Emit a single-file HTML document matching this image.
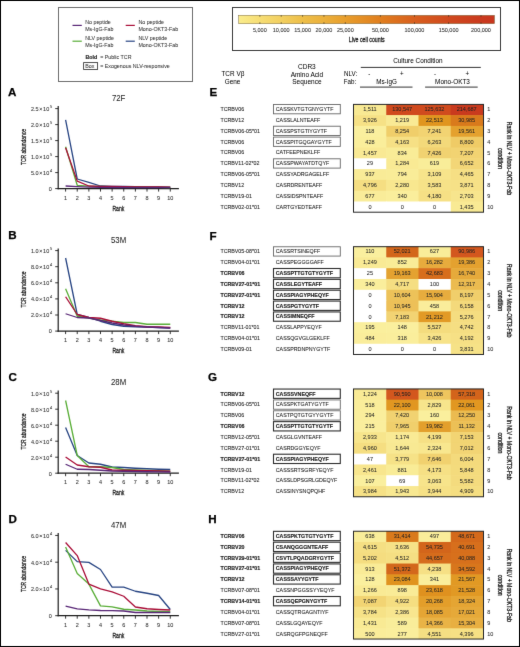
<!DOCTYPE html><html><head><meta charset="utf-8"><style>html,body{margin:0;padding:0;background:#fff;overflow:hidden}svg{display:block}text{font-family:"Liberation Sans",sans-serif}</style></head><body>
<svg width="520" height="647" viewBox="0 0 520 647">
<defs><filter id="gs" x="0" y="0" width="520" height="647" filterUnits="userSpaceOnUse" color-interpolation-filters="sRGB"><feConvolveMatrix order="3" kernelMatrix="0.00524 0.06192 0.00524 0.06192 0.73137 0.06192 0.00524 0.06192 0.00524" divisor="1" edgeMode="duplicate" preserveAlpha="true"/></filter></defs>
<g>
<rect x="0" y="0" width="520" height="647" fill="#fff"/>
<rect x="58.50" y="7.50" width="134.00" height="74.00" fill="none" stroke="#6e6e6e" stroke-width="1.0"/>
<line x1="72.50" y1="25.40" x2="81.80" y2="25.40" stroke="#582676" stroke-width="1.2"/>
<line x1="125.70" y1="25.40" x2="134.80" y2="25.40" stroke="#aa0e38" stroke-width="1.2"/>
<line x1="72.50" y1="41.20" x2="81.80" y2="41.20" stroke="#5aae38" stroke-width="1.2"/>
<line x1="125.70" y1="41.20" x2="134.80" y2="41.20" stroke="#284583" stroke-width="1.2"/>
<text x="85.20" y="24.40" font-size="5.83" stroke="#333" stroke-width="0.05" fill="#333" textLength="25.64" lengthAdjust="spacingAndGlyphs">No peptide</text>
<text x="85.20" y="31.00" font-size="5.83" stroke="#333" stroke-width="0.05" fill="#333" textLength="28.27" lengthAdjust="spacingAndGlyphs">Ms-IgG-Fab</text>
<text x="138.40" y="24.40" font-size="5.83" stroke="#333" stroke-width="0.05" fill="#333" textLength="25.64" lengthAdjust="spacingAndGlyphs">No peptide</text>
<text x="138.40" y="31.00" font-size="5.83" stroke="#333" stroke-width="0.05" fill="#333" textLength="39.76" lengthAdjust="spacingAndGlyphs">Mono-OKT3-Fab</text>
<text x="85.20" y="40.10" font-size="5.83" stroke="#333" stroke-width="0.05" fill="#333" textLength="28.78" lengthAdjust="spacingAndGlyphs">NLV peptide</text>
<text x="85.20" y="46.60" font-size="5.83" stroke="#333" stroke-width="0.05" fill="#333" textLength="28.27" lengthAdjust="spacingAndGlyphs">Ms-IgG-Fab</text>
<text x="138.40" y="40.10" font-size="5.83" stroke="#333" stroke-width="0.05" fill="#333" textLength="28.78" lengthAdjust="spacingAndGlyphs">NLV peptide</text>
<text x="138.40" y="46.60" font-size="5.83" stroke="#333" stroke-width="0.05" fill="#333" textLength="39.76" lengthAdjust="spacingAndGlyphs">Mono-OKT3-Fab</text>
<text x="85.40" y="58.90" font-size="5.83" stroke="#222" stroke-width="0.15" font-weight="bold" fill="#222" textLength="11.77" lengthAdjust="spacingAndGlyphs">Bold</text>
<text x="100.20" y="58.90" font-size="5.83" stroke="#333" stroke-width="0.05" fill="#333" textLength="31.27" lengthAdjust="spacingAndGlyphs">= Public TCR</text>
<rect x="83.60" y="62.60" width="14.00" height="6.90" fill="none" stroke="#333" stroke-width="0.85"/>
<text x="85.20" y="67.90" font-size="5.83" stroke="#333" stroke-width="0.05" fill="#333" textLength="9.13" lengthAdjust="spacingAndGlyphs">Box</text>
<text x="100.20" y="67.90" font-size="5.83" stroke="#333" stroke-width="0.05" fill="#333" textLength="69.58" lengthAdjust="spacingAndGlyphs">= Exogenous NLV-responsive</text>
<rect x="232.50" y="7.50" width="268.00" height="43.00" fill="none" stroke="#3a3a3a" stroke-width="1.0"/>
<defs><linearGradient id="cb" x1="0" x2="1" y1="0" y2="0"><stop offset="0.0000" stop-color="#faec8c"/><stop offset="0.0834" stop-color="#f6dd74"/><stop offset="0.1669" stop-color="#f2cf60"/><stop offset="0.2503" stop-color="#edbe48"/><stop offset="0.3337" stop-color="#ebb03c"/><stop offset="0.4172" stop-color="#e89e2c"/><stop offset="0.5543" stop-color="#e07e1e"/><stop offset="0.6875" stop-color="#d85f1e"/><stop offset="0.8207" stop-color="#d0491e"/><stop offset="0.9473" stop-color="#ca3a1e"/><stop offset="1.0000" stop-color="#c8361e"/></linearGradient></defs>
<rect x="238.70" y="15.30" width="255.80" height="8.40" fill="url(#cb)" stroke="#7a6a40" stroke-width="0.5"/>
<line x1="259.86" y1="15.30" x2="259.86" y2="16.60" stroke="#3a3020" stroke-width="0.8"/>
<line x1="259.86" y1="22.40" x2="259.86" y2="23.70" stroke="#3a3020" stroke-width="0.8"/>
<text x="259.86" y="31.90" font-size="6.05" stroke="#333" stroke-width="0.08" text-anchor="middle" fill="#333" textLength="13.76" lengthAdjust="spacingAndGlyphs">5,000</text>
<line x1="281.22" y1="15.30" x2="281.22" y2="16.60" stroke="#3a3020" stroke-width="0.8"/>
<line x1="281.22" y1="22.40" x2="281.22" y2="23.70" stroke="#3a3020" stroke-width="0.8"/>
<text x="281.22" y="31.90" font-size="6.05" stroke="#333" stroke-width="0.08" text-anchor="middle" fill="#333" textLength="16.82" lengthAdjust="spacingAndGlyphs">10,000</text>
<line x1="302.58" y1="15.30" x2="302.58" y2="16.60" stroke="#3a3020" stroke-width="0.8"/>
<line x1="302.58" y1="22.40" x2="302.58" y2="23.70" stroke="#3a3020" stroke-width="0.8"/>
<text x="302.58" y="31.90" font-size="6.05" stroke="#333" stroke-width="0.08" text-anchor="middle" fill="#333" textLength="16.82" lengthAdjust="spacingAndGlyphs">15,000</text>
<line x1="323.94" y1="15.30" x2="323.94" y2="16.60" stroke="#3a3020" stroke-width="0.8"/>
<line x1="323.94" y1="22.40" x2="323.94" y2="23.70" stroke="#3a3020" stroke-width="0.8"/>
<text x="323.94" y="31.90" font-size="6.05" stroke="#333" stroke-width="0.08" text-anchor="middle" fill="#333" textLength="16.82" lengthAdjust="spacingAndGlyphs">20,000</text>
<line x1="345.30" y1="15.30" x2="345.30" y2="16.60" stroke="#3a3020" stroke-width="0.8"/>
<line x1="345.30" y1="22.40" x2="345.30" y2="23.70" stroke="#3a3020" stroke-width="0.8"/>
<text x="345.30" y="31.90" font-size="6.05" stroke="#333" stroke-width="0.08" text-anchor="middle" fill="#333" textLength="16.82" lengthAdjust="spacingAndGlyphs">25,000</text>
<line x1="380.40" y1="15.30" x2="380.40" y2="16.60" stroke="#3a3020" stroke-width="0.8"/>
<line x1="380.40" y1="22.40" x2="380.40" y2="23.70" stroke="#3a3020" stroke-width="0.8"/>
<text x="380.40" y="31.90" font-size="6.05" stroke="#333" stroke-width="0.08" text-anchor="middle" fill="#333" textLength="16.82" lengthAdjust="spacingAndGlyphs">50,000</text>
<line x1="414.50" y1="15.30" x2="414.50" y2="16.60" stroke="#3a3020" stroke-width="0.8"/>
<line x1="414.50" y1="22.40" x2="414.50" y2="23.70" stroke="#3a3020" stroke-width="0.8"/>
<text x="414.50" y="31.90" font-size="6.05" stroke="#333" stroke-width="0.08" text-anchor="middle" fill="#333" textLength="19.88" lengthAdjust="spacingAndGlyphs">100,000</text>
<line x1="448.60" y1="15.30" x2="448.60" y2="16.60" stroke="#3a3020" stroke-width="0.8"/>
<line x1="448.60" y1="22.40" x2="448.60" y2="23.70" stroke="#3a3020" stroke-width="0.8"/>
<text x="448.60" y="31.90" font-size="6.05" stroke="#333" stroke-width="0.08" text-anchor="middle" fill="#333" textLength="19.88" lengthAdjust="spacingAndGlyphs">150,000</text>
<line x1="481.00" y1="15.30" x2="481.00" y2="16.60" stroke="#3a3020" stroke-width="0.8"/>
<line x1="481.00" y1="22.40" x2="481.00" y2="23.70" stroke="#3a3020" stroke-width="0.8"/>
<text x="481.00" y="31.90" font-size="6.05" stroke="#333" stroke-width="0.08" text-anchor="middle" fill="#333" textLength="19.88" lengthAdjust="spacingAndGlyphs">200,000</text>
<text x="366.80" y="42.30" font-size="7.3" stroke="#1a1a1a" stroke-width="0.28" text-anchor="middle" fill="#1a1a1a" textLength="35.9" lengthAdjust="spacingAndGlyphs">Live cell counts</text>
<text x="7.90" y="95.90" font-size="11.6" stroke="#000" stroke-width="0.25" font-weight="bold" fill="#000">A</text>
<text x="8.30" y="238.80" font-size="11.6" stroke="#000" stroke-width="0.25" font-weight="bold" fill="#000">B</text>
<text x="8.50" y="380.80" font-size="11.6" stroke="#000" stroke-width="0.25" font-weight="bold" fill="#000">C</text>
<text x="8.40" y="523.10" font-size="11.6" stroke="#000" stroke-width="0.25" font-weight="bold" fill="#000">D</text>
<text x="209.60" y="95.90" font-size="11.6" stroke="#000" stroke-width="0.25" font-weight="bold" fill="#000">E</text>
<text x="209.60" y="239.80" font-size="11.6" stroke="#000" stroke-width="0.25" font-weight="bold" fill="#000">F</text>
<text x="208.10" y="380.60" font-size="11.6" stroke="#000" stroke-width="0.25" font-weight="bold" fill="#000">G</text>
<text x="208.30" y="523.10" font-size="11.6" stroke="#000" stroke-width="0.25" font-weight="bold" fill="#000">H</text>
<line x1="58.20" y1="106.00" x2="58.20" y2="189.20" stroke="#1e1e1e" stroke-width="1.2"/>
<line x1="57.60" y1="188.60" x2="178.90" y2="188.60" stroke="#1e1e1e" stroke-width="1.2"/>
<line x1="65.60" y1="188.60" x2="65.60" y2="191.60" stroke="#1e1e1e" stroke-width="0.9"/>
<text x="65.60" y="199.80" font-size="6.05" stroke="#333" stroke-width="0.08" text-anchor="middle" fill="#333" textLength="3.06" lengthAdjust="spacingAndGlyphs">1</text>
<line x1="77.23" y1="188.60" x2="77.23" y2="191.60" stroke="#1e1e1e" stroke-width="0.9"/>
<text x="77.23" y="199.80" font-size="6.05" stroke="#333" stroke-width="0.08" text-anchor="middle" fill="#333" textLength="3.06" lengthAdjust="spacingAndGlyphs">2</text>
<line x1="88.86" y1="188.60" x2="88.86" y2="191.60" stroke="#1e1e1e" stroke-width="0.9"/>
<text x="88.86" y="199.80" font-size="6.05" stroke="#333" stroke-width="0.08" text-anchor="middle" fill="#333" textLength="3.06" lengthAdjust="spacingAndGlyphs">3</text>
<line x1="100.49" y1="188.60" x2="100.49" y2="191.60" stroke="#1e1e1e" stroke-width="0.9"/>
<text x="100.49" y="199.80" font-size="6.05" stroke="#333" stroke-width="0.08" text-anchor="middle" fill="#333" textLength="3.06" lengthAdjust="spacingAndGlyphs">4</text>
<line x1="112.12" y1="188.60" x2="112.12" y2="191.60" stroke="#1e1e1e" stroke-width="0.9"/>
<text x="112.12" y="199.80" font-size="6.05" stroke="#333" stroke-width="0.08" text-anchor="middle" fill="#333" textLength="3.06" lengthAdjust="spacingAndGlyphs">5</text>
<line x1="123.75" y1="188.60" x2="123.75" y2="191.60" stroke="#1e1e1e" stroke-width="0.9"/>
<text x="123.75" y="199.80" font-size="6.05" stroke="#333" stroke-width="0.08" text-anchor="middle" fill="#333" textLength="3.06" lengthAdjust="spacingAndGlyphs">6</text>
<line x1="135.38" y1="188.60" x2="135.38" y2="191.60" stroke="#1e1e1e" stroke-width="0.9"/>
<text x="135.38" y="199.80" font-size="6.05" stroke="#333" stroke-width="0.08" text-anchor="middle" fill="#333" textLength="3.06" lengthAdjust="spacingAndGlyphs">7</text>
<line x1="147.01" y1="188.60" x2="147.01" y2="191.60" stroke="#1e1e1e" stroke-width="0.9"/>
<text x="147.01" y="199.80" font-size="6.05" stroke="#333" stroke-width="0.08" text-anchor="middle" fill="#333" textLength="3.06" lengthAdjust="spacingAndGlyphs">8</text>
<line x1="158.64" y1="188.60" x2="158.64" y2="191.60" stroke="#1e1e1e" stroke-width="0.9"/>
<text x="158.64" y="199.80" font-size="6.05" stroke="#333" stroke-width="0.08" text-anchor="middle" fill="#333" textLength="3.06" lengthAdjust="spacingAndGlyphs">9</text>
<line x1="170.27" y1="188.60" x2="170.27" y2="191.60" stroke="#1e1e1e" stroke-width="0.9"/>
<text x="170.27" y="199.80" font-size="6.05" stroke="#333" stroke-width="0.08" text-anchor="middle" fill="#333" textLength="6.12" lengthAdjust="spacingAndGlyphs">10</text>
<line x1="55.20" y1="188.60" x2="58.20" y2="188.60" stroke="#1e1e1e" stroke-width="0.9"/>
<text x="51.70" y="190.90" font-size="6.05" stroke="#333" stroke-width="0.08" text-anchor="end" fill="#333" textLength="3.06" lengthAdjust="spacingAndGlyphs">0</text>
<line x1="55.20" y1="172.60" x2="58.20" y2="172.60" stroke="#1e1e1e" stroke-width="0.9"/>
<text x="38.60" y="174.90" font-size="6.05" stroke="#333" stroke-width="0.08" text-anchor="end" fill="#333" textLength="7.65" lengthAdjust="spacingAndGlyphs">5.0</text>
<line x1="39.70" y1="172.00" x2="41.90" y2="174.20" stroke="#333" stroke-width="0.75"/>
<line x1="39.70" y1="174.20" x2="41.90" y2="172.00" stroke="#333" stroke-width="0.75"/>
<text x="43.10" y="174.90" font-size="6.05" stroke="#333" stroke-width="0.08" fill="#333" textLength="6.12" lengthAdjust="spacingAndGlyphs">10</text>
<text x="49.90" y="172.00" font-size="4.29" stroke="#333" stroke-width="0.08" fill="#333" textLength="2.17" lengthAdjust="spacingAndGlyphs">4</text>
<line x1="55.20" y1="156.60" x2="58.20" y2="156.60" stroke="#1e1e1e" stroke-width="0.9"/>
<text x="38.60" y="158.90" font-size="6.05" stroke="#333" stroke-width="0.08" text-anchor="end" fill="#333" textLength="7.65" lengthAdjust="spacingAndGlyphs">1.0</text>
<line x1="39.70" y1="156.00" x2="41.90" y2="158.20" stroke="#333" stroke-width="0.75"/>
<line x1="39.70" y1="158.20" x2="41.90" y2="156.00" stroke="#333" stroke-width="0.75"/>
<text x="43.10" y="158.90" font-size="6.05" stroke="#333" stroke-width="0.08" fill="#333" textLength="6.12" lengthAdjust="spacingAndGlyphs">10</text>
<text x="49.90" y="156.00" font-size="4.29" stroke="#333" stroke-width="0.08" fill="#333" textLength="2.17" lengthAdjust="spacingAndGlyphs">5</text>
<line x1="55.20" y1="140.60" x2="58.20" y2="140.60" stroke="#1e1e1e" stroke-width="0.9"/>
<text x="38.60" y="142.90" font-size="6.05" stroke="#333" stroke-width="0.08" text-anchor="end" fill="#333" textLength="7.65" lengthAdjust="spacingAndGlyphs">1.5</text>
<line x1="39.70" y1="140.00" x2="41.90" y2="142.20" stroke="#333" stroke-width="0.75"/>
<line x1="39.70" y1="142.20" x2="41.90" y2="140.00" stroke="#333" stroke-width="0.75"/>
<text x="43.10" y="142.90" font-size="6.05" stroke="#333" stroke-width="0.08" fill="#333" textLength="6.12" lengthAdjust="spacingAndGlyphs">10</text>
<text x="49.90" y="140.00" font-size="4.29" stroke="#333" stroke-width="0.08" fill="#333" textLength="2.17" lengthAdjust="spacingAndGlyphs">5</text>
<line x1="55.20" y1="124.60" x2="58.20" y2="124.60" stroke="#1e1e1e" stroke-width="0.9"/>
<text x="38.60" y="126.90" font-size="6.05" stroke="#333" stroke-width="0.08" text-anchor="end" fill="#333" textLength="7.65" lengthAdjust="spacingAndGlyphs">2.0</text>
<line x1="39.70" y1="124.00" x2="41.90" y2="126.20" stroke="#333" stroke-width="0.75"/>
<line x1="39.70" y1="126.20" x2="41.90" y2="124.00" stroke="#333" stroke-width="0.75"/>
<text x="43.10" y="126.90" font-size="6.05" stroke="#333" stroke-width="0.08" fill="#333" textLength="6.12" lengthAdjust="spacingAndGlyphs">10</text>
<text x="49.90" y="124.00" font-size="4.29" stroke="#333" stroke-width="0.08" fill="#333" textLength="2.17" lengthAdjust="spacingAndGlyphs">5</text>
<line x1="55.20" y1="108.60" x2="58.20" y2="108.60" stroke="#1e1e1e" stroke-width="0.9"/>
<text x="38.60" y="110.90" font-size="6.05" stroke="#333" stroke-width="0.08" text-anchor="end" fill="#333" textLength="7.65" lengthAdjust="spacingAndGlyphs">2.5</text>
<line x1="39.70" y1="108.00" x2="41.90" y2="110.20" stroke="#333" stroke-width="0.75"/>
<line x1="39.70" y1="110.20" x2="41.90" y2="108.00" stroke="#333" stroke-width="0.75"/>
<text x="43.10" y="110.90" font-size="6.05" stroke="#333" stroke-width="0.08" fill="#333" textLength="6.12" lengthAdjust="spacingAndGlyphs">10</text>
<text x="49.90" y="108.00" font-size="4.29" stroke="#333" stroke-width="0.08" fill="#333" textLength="2.17" lengthAdjust="spacingAndGlyphs">5</text>
<text x="118.60" y="100.60" font-size="8.58" stroke="#222" stroke-width="0.04" text-anchor="middle" fill="#222" textLength="13.44" lengthAdjust="spacingAndGlyphs">72F</text>
<text x="118.40" y="210.70" font-size="7.8" stroke="#1a1a1a" stroke-width="0.3" text-anchor="middle" fill="#1a1a1a" textLength="11.9" lengthAdjust="spacingAndGlyphs">Rank</text>
<text x="0" y="0" font-size="7.7" text-anchor="middle" fill="#1a1a1a" stroke="#1a1a1a" stroke-width="0.3" textLength="36" lengthAdjust="spacingAndGlyphs" transform="translate(26.4,147.00) rotate(-90)">TCR abundance</text>
<polyline points="65.60,119.90 77.23,179.00 88.86,182.40 100.49,186.00 112.12,186.30 123.75,186.50 135.38,186.70 147.01,186.90 158.64,187.00 170.27,187.10" fill="none" stroke="#284583" stroke-width="1.3" stroke-linejoin="round"/>
<polyline points="65.60,146.70 77.23,185.30 88.86,186.20 100.49,186.50 112.12,186.70 123.75,186.90 135.38,187.10 147.01,187.30 158.64,187.40 170.27,187.50" fill="none" stroke="#5aae38" stroke-width="1.3" stroke-linejoin="round"/>
<polyline points="65.60,147.70 77.23,181.10 88.86,186.00 100.49,186.30 112.12,186.50 123.75,186.70 135.38,186.80 147.01,186.90 158.64,187.00 170.27,187.10" fill="none" stroke="#aa0e38" stroke-width="1.3" stroke-linejoin="round"/>
<polyline points="65.60,186.00 77.23,186.70 88.86,187.20 100.49,187.40 112.12,187.50 123.75,187.50 135.38,187.60 147.01,187.60 158.64,187.70 170.27,187.70" fill="none" stroke="#582676" stroke-width="1.3" stroke-linejoin="round"/>
<line x1="58.20" y1="248.50" x2="58.20" y2="331.70" stroke="#1e1e1e" stroke-width="1.2"/>
<line x1="57.60" y1="331.10" x2="178.90" y2="331.10" stroke="#1e1e1e" stroke-width="1.2"/>
<line x1="65.60" y1="331.10" x2="65.60" y2="334.10" stroke="#1e1e1e" stroke-width="0.9"/>
<text x="65.60" y="342.30" font-size="6.05" stroke="#333" stroke-width="0.08" text-anchor="middle" fill="#333" textLength="3.06" lengthAdjust="spacingAndGlyphs">1</text>
<line x1="77.23" y1="331.10" x2="77.23" y2="334.10" stroke="#1e1e1e" stroke-width="0.9"/>
<text x="77.23" y="342.30" font-size="6.05" stroke="#333" stroke-width="0.08" text-anchor="middle" fill="#333" textLength="3.06" lengthAdjust="spacingAndGlyphs">2</text>
<line x1="88.86" y1="331.10" x2="88.86" y2="334.10" stroke="#1e1e1e" stroke-width="0.9"/>
<text x="88.86" y="342.30" font-size="6.05" stroke="#333" stroke-width="0.08" text-anchor="middle" fill="#333" textLength="3.06" lengthAdjust="spacingAndGlyphs">3</text>
<line x1="100.49" y1="331.10" x2="100.49" y2="334.10" stroke="#1e1e1e" stroke-width="0.9"/>
<text x="100.49" y="342.30" font-size="6.05" stroke="#333" stroke-width="0.08" text-anchor="middle" fill="#333" textLength="3.06" lengthAdjust="spacingAndGlyphs">4</text>
<line x1="112.12" y1="331.10" x2="112.12" y2="334.10" stroke="#1e1e1e" stroke-width="0.9"/>
<text x="112.12" y="342.30" font-size="6.05" stroke="#333" stroke-width="0.08" text-anchor="middle" fill="#333" textLength="3.06" lengthAdjust="spacingAndGlyphs">5</text>
<line x1="123.75" y1="331.10" x2="123.75" y2="334.10" stroke="#1e1e1e" stroke-width="0.9"/>
<text x="123.75" y="342.30" font-size="6.05" stroke="#333" stroke-width="0.08" text-anchor="middle" fill="#333" textLength="3.06" lengthAdjust="spacingAndGlyphs">6</text>
<line x1="135.38" y1="331.10" x2="135.38" y2="334.10" stroke="#1e1e1e" stroke-width="0.9"/>
<text x="135.38" y="342.30" font-size="6.05" stroke="#333" stroke-width="0.08" text-anchor="middle" fill="#333" textLength="3.06" lengthAdjust="spacingAndGlyphs">7</text>
<line x1="147.01" y1="331.10" x2="147.01" y2="334.10" stroke="#1e1e1e" stroke-width="0.9"/>
<text x="147.01" y="342.30" font-size="6.05" stroke="#333" stroke-width="0.08" text-anchor="middle" fill="#333" textLength="3.06" lengthAdjust="spacingAndGlyphs">8</text>
<line x1="158.64" y1="331.10" x2="158.64" y2="334.10" stroke="#1e1e1e" stroke-width="0.9"/>
<text x="158.64" y="342.30" font-size="6.05" stroke="#333" stroke-width="0.08" text-anchor="middle" fill="#333" textLength="3.06" lengthAdjust="spacingAndGlyphs">9</text>
<line x1="170.27" y1="331.10" x2="170.27" y2="334.10" stroke="#1e1e1e" stroke-width="0.9"/>
<text x="170.27" y="342.30" font-size="6.05" stroke="#333" stroke-width="0.08" text-anchor="middle" fill="#333" textLength="6.12" lengthAdjust="spacingAndGlyphs">10</text>
<line x1="55.20" y1="331.10" x2="58.20" y2="331.10" stroke="#1e1e1e" stroke-width="0.9"/>
<text x="51.70" y="333.40" font-size="6.05" stroke="#333" stroke-width="0.08" text-anchor="end" fill="#333" textLength="3.06" lengthAdjust="spacingAndGlyphs">0</text>
<line x1="55.20" y1="315.00" x2="58.20" y2="315.00" stroke="#1e1e1e" stroke-width="0.9"/>
<text x="38.60" y="317.30" font-size="6.05" stroke="#333" stroke-width="0.08" text-anchor="end" fill="#333" textLength="7.65" lengthAdjust="spacingAndGlyphs">2.0</text>
<line x1="39.70" y1="314.40" x2="41.90" y2="316.60" stroke="#333" stroke-width="0.75"/>
<line x1="39.70" y1="316.60" x2="41.90" y2="314.40" stroke="#333" stroke-width="0.75"/>
<text x="43.10" y="317.30" font-size="6.05" stroke="#333" stroke-width="0.08" fill="#333" textLength="6.12" lengthAdjust="spacingAndGlyphs">10</text>
<text x="49.90" y="314.40" font-size="4.29" stroke="#333" stroke-width="0.08" fill="#333" textLength="2.17" lengthAdjust="spacingAndGlyphs">4</text>
<line x1="55.20" y1="298.90" x2="58.20" y2="298.90" stroke="#1e1e1e" stroke-width="0.9"/>
<text x="38.60" y="301.20" font-size="6.05" stroke="#333" stroke-width="0.08" text-anchor="end" fill="#333" textLength="7.65" lengthAdjust="spacingAndGlyphs">4.0</text>
<line x1="39.70" y1="298.30" x2="41.90" y2="300.50" stroke="#333" stroke-width="0.75"/>
<line x1="39.70" y1="300.50" x2="41.90" y2="298.30" stroke="#333" stroke-width="0.75"/>
<text x="43.10" y="301.20" font-size="6.05" stroke="#333" stroke-width="0.08" fill="#333" textLength="6.12" lengthAdjust="spacingAndGlyphs">10</text>
<text x="49.90" y="298.30" font-size="4.29" stroke="#333" stroke-width="0.08" fill="#333" textLength="2.17" lengthAdjust="spacingAndGlyphs">4</text>
<line x1="55.20" y1="282.80" x2="58.20" y2="282.80" stroke="#1e1e1e" stroke-width="0.9"/>
<text x="38.60" y="285.10" font-size="6.05" stroke="#333" stroke-width="0.08" text-anchor="end" fill="#333" textLength="7.65" lengthAdjust="spacingAndGlyphs">6.0</text>
<line x1="39.70" y1="282.20" x2="41.90" y2="284.40" stroke="#333" stroke-width="0.75"/>
<line x1="39.70" y1="284.40" x2="41.90" y2="282.20" stroke="#333" stroke-width="0.75"/>
<text x="43.10" y="285.10" font-size="6.05" stroke="#333" stroke-width="0.08" fill="#333" textLength="6.12" lengthAdjust="spacingAndGlyphs">10</text>
<text x="49.90" y="282.20" font-size="4.29" stroke="#333" stroke-width="0.08" fill="#333" textLength="2.17" lengthAdjust="spacingAndGlyphs">4</text>
<line x1="55.20" y1="266.70" x2="58.20" y2="266.70" stroke="#1e1e1e" stroke-width="0.9"/>
<text x="38.60" y="269.00" font-size="6.05" stroke="#333" stroke-width="0.08" text-anchor="end" fill="#333" textLength="7.65" lengthAdjust="spacingAndGlyphs">8.0</text>
<line x1="39.70" y1="266.10" x2="41.90" y2="268.30" stroke="#333" stroke-width="0.75"/>
<line x1="39.70" y1="268.30" x2="41.90" y2="266.10" stroke="#333" stroke-width="0.75"/>
<text x="43.10" y="269.00" font-size="6.05" stroke="#333" stroke-width="0.08" fill="#333" textLength="6.12" lengthAdjust="spacingAndGlyphs">10</text>
<text x="49.90" y="266.10" font-size="4.29" stroke="#333" stroke-width="0.08" fill="#333" textLength="2.17" lengthAdjust="spacingAndGlyphs">4</text>
<line x1="55.20" y1="250.60" x2="58.20" y2="250.60" stroke="#1e1e1e" stroke-width="0.9"/>
<text x="38.60" y="252.90" font-size="6.05" stroke="#333" stroke-width="0.08" text-anchor="end" fill="#333" textLength="7.65" lengthAdjust="spacingAndGlyphs">1.0</text>
<line x1="39.70" y1="250.00" x2="41.90" y2="252.20" stroke="#333" stroke-width="0.75"/>
<line x1="39.70" y1="252.20" x2="41.90" y2="250.00" stroke="#333" stroke-width="0.75"/>
<text x="43.10" y="252.90" font-size="6.05" stroke="#333" stroke-width="0.08" fill="#333" textLength="6.12" lengthAdjust="spacingAndGlyphs">10</text>
<text x="49.90" y="250.00" font-size="4.29" stroke="#333" stroke-width="0.08" fill="#333" textLength="2.17" lengthAdjust="spacingAndGlyphs">5</text>
<text x="118.60" y="243.10" font-size="8.58" stroke="#222" stroke-width="0.04" text-anchor="middle" fill="#222" textLength="15.17" lengthAdjust="spacingAndGlyphs">53M</text>
<text x="118.40" y="353.20" font-size="7.8" stroke="#1a1a1a" stroke-width="0.3" text-anchor="middle" fill="#1a1a1a" textLength="11.9" lengthAdjust="spacingAndGlyphs">Rank</text>
<text x="0" y="0" font-size="7.7" text-anchor="middle" fill="#1a1a1a" stroke="#1a1a1a" stroke-width="0.3" textLength="36" lengthAdjust="spacingAndGlyphs" transform="translate(26.4,289.50) rotate(-90)">TCR abundance</text>
<polyline points="65.60,258.00 77.23,314.50 88.86,317.50 100.49,321.25 112.12,324.50 123.75,326.25 135.38,326.75 147.01,327.00 158.64,327.50 170.27,328.00" fill="none" stroke="#284583" stroke-width="1.3" stroke-linejoin="round"/>
<polyline points="65.60,288.75 77.23,316.25 88.86,318.00 100.49,320.00 112.12,321.25 123.75,322.50 135.38,322.50 147.01,324.25 158.64,324.25 170.27,324.25" fill="none" stroke="#5aae38" stroke-width="1.3" stroke-linejoin="round"/>
<polyline points="65.60,296.75 77.23,314.50 88.86,317.50 100.49,318.25 112.12,321.25 123.75,323.75 135.38,325.75 147.01,326.75 158.64,327.00 170.27,327.50" fill="none" stroke="#aa0e38" stroke-width="1.3" stroke-linejoin="round"/>
<polyline points="65.60,313.75 77.23,317.50 88.86,318.00 100.49,320.50 112.12,323.00 123.75,325.00 135.38,326.25 147.01,327.00 158.64,327.50 170.27,328.00" fill="none" stroke="#582676" stroke-width="1.3" stroke-linejoin="round"/>
<line x1="58.20" y1="390.60" x2="58.20" y2="473.80" stroke="#1e1e1e" stroke-width="1.2"/>
<line x1="57.60" y1="473.20" x2="178.90" y2="473.20" stroke="#1e1e1e" stroke-width="1.2"/>
<line x1="65.60" y1="473.20" x2="65.60" y2="476.20" stroke="#1e1e1e" stroke-width="0.9"/>
<text x="65.60" y="484.40" font-size="6.05" stroke="#333" stroke-width="0.08" text-anchor="middle" fill="#333" textLength="3.06" lengthAdjust="spacingAndGlyphs">1</text>
<line x1="77.23" y1="473.20" x2="77.23" y2="476.20" stroke="#1e1e1e" stroke-width="0.9"/>
<text x="77.23" y="484.40" font-size="6.05" stroke="#333" stroke-width="0.08" text-anchor="middle" fill="#333" textLength="3.06" lengthAdjust="spacingAndGlyphs">2</text>
<line x1="88.86" y1="473.20" x2="88.86" y2="476.20" stroke="#1e1e1e" stroke-width="0.9"/>
<text x="88.86" y="484.40" font-size="6.05" stroke="#333" stroke-width="0.08" text-anchor="middle" fill="#333" textLength="3.06" lengthAdjust="spacingAndGlyphs">3</text>
<line x1="100.49" y1="473.20" x2="100.49" y2="476.20" stroke="#1e1e1e" stroke-width="0.9"/>
<text x="100.49" y="484.40" font-size="6.05" stroke="#333" stroke-width="0.08" text-anchor="middle" fill="#333" textLength="3.06" lengthAdjust="spacingAndGlyphs">4</text>
<line x1="112.12" y1="473.20" x2="112.12" y2="476.20" stroke="#1e1e1e" stroke-width="0.9"/>
<text x="112.12" y="484.40" font-size="6.05" stroke="#333" stroke-width="0.08" text-anchor="middle" fill="#333" textLength="3.06" lengthAdjust="spacingAndGlyphs">5</text>
<line x1="123.75" y1="473.20" x2="123.75" y2="476.20" stroke="#1e1e1e" stroke-width="0.9"/>
<text x="123.75" y="484.40" font-size="6.05" stroke="#333" stroke-width="0.08" text-anchor="middle" fill="#333" textLength="3.06" lengthAdjust="spacingAndGlyphs">6</text>
<line x1="135.38" y1="473.20" x2="135.38" y2="476.20" stroke="#1e1e1e" stroke-width="0.9"/>
<text x="135.38" y="484.40" font-size="6.05" stroke="#333" stroke-width="0.08" text-anchor="middle" fill="#333" textLength="3.06" lengthAdjust="spacingAndGlyphs">7</text>
<line x1="147.01" y1="473.20" x2="147.01" y2="476.20" stroke="#1e1e1e" stroke-width="0.9"/>
<text x="147.01" y="484.40" font-size="6.05" stroke="#333" stroke-width="0.08" text-anchor="middle" fill="#333" textLength="3.06" lengthAdjust="spacingAndGlyphs">8</text>
<line x1="158.64" y1="473.20" x2="158.64" y2="476.20" stroke="#1e1e1e" stroke-width="0.9"/>
<text x="158.64" y="484.40" font-size="6.05" stroke="#333" stroke-width="0.08" text-anchor="middle" fill="#333" textLength="3.06" lengthAdjust="spacingAndGlyphs">9</text>
<line x1="170.27" y1="473.20" x2="170.27" y2="476.20" stroke="#1e1e1e" stroke-width="0.9"/>
<text x="170.27" y="484.40" font-size="6.05" stroke="#333" stroke-width="0.08" text-anchor="middle" fill="#333" textLength="6.12" lengthAdjust="spacingAndGlyphs">10</text>
<line x1="55.20" y1="473.20" x2="58.20" y2="473.20" stroke="#1e1e1e" stroke-width="0.9"/>
<text x="51.70" y="475.50" font-size="6.05" stroke="#333" stroke-width="0.08" text-anchor="end" fill="#333" textLength="3.06" lengthAdjust="spacingAndGlyphs">0</text>
<line x1="55.20" y1="457.20" x2="58.20" y2="457.20" stroke="#1e1e1e" stroke-width="0.9"/>
<text x="38.60" y="459.50" font-size="6.05" stroke="#333" stroke-width="0.08" text-anchor="end" fill="#333" textLength="7.65" lengthAdjust="spacingAndGlyphs">2.0</text>
<line x1="39.70" y1="456.60" x2="41.90" y2="458.80" stroke="#333" stroke-width="0.75"/>
<line x1="39.70" y1="458.80" x2="41.90" y2="456.60" stroke="#333" stroke-width="0.75"/>
<text x="43.10" y="459.50" font-size="6.05" stroke="#333" stroke-width="0.08" fill="#333" textLength="6.12" lengthAdjust="spacingAndGlyphs">10</text>
<text x="49.90" y="456.60" font-size="4.29" stroke="#333" stroke-width="0.08" fill="#333" textLength="2.17" lengthAdjust="spacingAndGlyphs">4</text>
<line x1="55.20" y1="441.20" x2="58.20" y2="441.20" stroke="#1e1e1e" stroke-width="0.9"/>
<text x="38.60" y="443.50" font-size="6.05" stroke="#333" stroke-width="0.08" text-anchor="end" fill="#333" textLength="7.65" lengthAdjust="spacingAndGlyphs">4.0</text>
<line x1="39.70" y1="440.60" x2="41.90" y2="442.80" stroke="#333" stroke-width="0.75"/>
<line x1="39.70" y1="442.80" x2="41.90" y2="440.60" stroke="#333" stroke-width="0.75"/>
<text x="43.10" y="443.50" font-size="6.05" stroke="#333" stroke-width="0.08" fill="#333" textLength="6.12" lengthAdjust="spacingAndGlyphs">10</text>
<text x="49.90" y="440.60" font-size="4.29" stroke="#333" stroke-width="0.08" fill="#333" textLength="2.17" lengthAdjust="spacingAndGlyphs">4</text>
<line x1="55.20" y1="425.20" x2="58.20" y2="425.20" stroke="#1e1e1e" stroke-width="0.9"/>
<text x="38.60" y="427.50" font-size="6.05" stroke="#333" stroke-width="0.08" text-anchor="end" fill="#333" textLength="7.65" lengthAdjust="spacingAndGlyphs">6.0</text>
<line x1="39.70" y1="424.60" x2="41.90" y2="426.80" stroke="#333" stroke-width="0.75"/>
<line x1="39.70" y1="426.80" x2="41.90" y2="424.60" stroke="#333" stroke-width="0.75"/>
<text x="43.10" y="427.50" font-size="6.05" stroke="#333" stroke-width="0.08" fill="#333" textLength="6.12" lengthAdjust="spacingAndGlyphs">10</text>
<text x="49.90" y="424.60" font-size="4.29" stroke="#333" stroke-width="0.08" fill="#333" textLength="2.17" lengthAdjust="spacingAndGlyphs">4</text>
<line x1="55.20" y1="409.20" x2="58.20" y2="409.20" stroke="#1e1e1e" stroke-width="0.9"/>
<text x="38.60" y="411.50" font-size="6.05" stroke="#333" stroke-width="0.08" text-anchor="end" fill="#333" textLength="7.65" lengthAdjust="spacingAndGlyphs">8.0</text>
<line x1="39.70" y1="408.60" x2="41.90" y2="410.80" stroke="#333" stroke-width="0.75"/>
<line x1="39.70" y1="410.80" x2="41.90" y2="408.60" stroke="#333" stroke-width="0.75"/>
<text x="43.10" y="411.50" font-size="6.05" stroke="#333" stroke-width="0.08" fill="#333" textLength="6.12" lengthAdjust="spacingAndGlyphs">10</text>
<text x="49.90" y="408.60" font-size="4.29" stroke="#333" stroke-width="0.08" fill="#333" textLength="2.17" lengthAdjust="spacingAndGlyphs">4</text>
<line x1="55.20" y1="393.20" x2="58.20" y2="393.20" stroke="#1e1e1e" stroke-width="0.9"/>
<text x="38.60" y="395.50" font-size="6.05" stroke="#333" stroke-width="0.08" text-anchor="end" fill="#333" textLength="7.65" lengthAdjust="spacingAndGlyphs">1.0</text>
<line x1="39.70" y1="392.60" x2="41.90" y2="394.80" stroke="#333" stroke-width="0.75"/>
<line x1="39.70" y1="394.80" x2="41.90" y2="392.60" stroke="#333" stroke-width="0.75"/>
<text x="43.10" y="395.50" font-size="6.05" stroke="#333" stroke-width="0.08" fill="#333" textLength="6.12" lengthAdjust="spacingAndGlyphs">10</text>
<text x="49.90" y="392.60" font-size="4.29" stroke="#333" stroke-width="0.08" fill="#333" textLength="2.17" lengthAdjust="spacingAndGlyphs">5</text>
<text x="118.60" y="385.20" font-size="8.58" stroke="#222" stroke-width="0.04" text-anchor="middle" fill="#222" textLength="15.17" lengthAdjust="spacingAndGlyphs">28M</text>
<text x="118.40" y="495.30" font-size="7.8" stroke="#1a1a1a" stroke-width="0.3" text-anchor="middle" fill="#1a1a1a" textLength="11.9" lengthAdjust="spacingAndGlyphs">Rank</text>
<text x="0" y="0" font-size="7.7" text-anchor="middle" fill="#1a1a1a" stroke="#1a1a1a" stroke-width="0.3" textLength="36" lengthAdjust="spacingAndGlyphs" transform="translate(26.4,431.60) rotate(-90)">TCR abundance</text>
<polyline points="65.60,427.50 77.23,455.50 88.86,463.00 100.49,464.25 112.12,467.00 123.75,467.50 135.38,468.25 147.01,468.75 158.64,469.25 170.27,469.50" fill="none" stroke="#284583" stroke-width="1.3" stroke-linejoin="round"/>
<polyline points="65.60,400.50 77.23,455.50 88.86,466.75 100.49,466.75 112.12,467.50 123.75,469.50 135.38,470.00 147.01,470.50 158.64,470.75 170.27,471.25" fill="none" stroke="#5aae38" stroke-width="1.3" stroke-linejoin="round"/>
<polyline points="65.60,457.00 77.23,465.00 88.86,466.75 100.49,467.25 112.12,470.00 123.75,470.25 135.38,470.50 147.01,470.75 158.64,471.00 170.27,471.25" fill="none" stroke="#aa0e38" stroke-width="1.3" stroke-linejoin="round"/>
<polyline points="65.60,464.25 77.23,469.25 88.86,469.50 100.49,470.25 112.12,471.00 123.75,471.25 135.38,471.50 147.01,471.75 158.64,471.90 170.27,472.00" fill="none" stroke="#582676" stroke-width="1.3" stroke-linejoin="round"/>
<line x1="58.20" y1="533.10" x2="58.20" y2="616.30" stroke="#1e1e1e" stroke-width="1.2"/>
<line x1="57.60" y1="615.70" x2="178.90" y2="615.70" stroke="#1e1e1e" stroke-width="1.2"/>
<line x1="65.60" y1="615.70" x2="65.60" y2="618.70" stroke="#1e1e1e" stroke-width="0.9"/>
<text x="65.60" y="626.90" font-size="6.05" stroke="#333" stroke-width="0.08" text-anchor="middle" fill="#333" textLength="3.06" lengthAdjust="spacingAndGlyphs">1</text>
<line x1="77.23" y1="615.70" x2="77.23" y2="618.70" stroke="#1e1e1e" stroke-width="0.9"/>
<text x="77.23" y="626.90" font-size="6.05" stroke="#333" stroke-width="0.08" text-anchor="middle" fill="#333" textLength="3.06" lengthAdjust="spacingAndGlyphs">2</text>
<line x1="88.86" y1="615.70" x2="88.86" y2="618.70" stroke="#1e1e1e" stroke-width="0.9"/>
<text x="88.86" y="626.90" font-size="6.05" stroke="#333" stroke-width="0.08" text-anchor="middle" fill="#333" textLength="3.06" lengthAdjust="spacingAndGlyphs">3</text>
<line x1="100.49" y1="615.70" x2="100.49" y2="618.70" stroke="#1e1e1e" stroke-width="0.9"/>
<text x="100.49" y="626.90" font-size="6.05" stroke="#333" stroke-width="0.08" text-anchor="middle" fill="#333" textLength="3.06" lengthAdjust="spacingAndGlyphs">4</text>
<line x1="112.12" y1="615.70" x2="112.12" y2="618.70" stroke="#1e1e1e" stroke-width="0.9"/>
<text x="112.12" y="626.90" font-size="6.05" stroke="#333" stroke-width="0.08" text-anchor="middle" fill="#333" textLength="3.06" lengthAdjust="spacingAndGlyphs">5</text>
<line x1="123.75" y1="615.70" x2="123.75" y2="618.70" stroke="#1e1e1e" stroke-width="0.9"/>
<text x="123.75" y="626.90" font-size="6.05" stroke="#333" stroke-width="0.08" text-anchor="middle" fill="#333" textLength="3.06" lengthAdjust="spacingAndGlyphs">6</text>
<line x1="135.38" y1="615.70" x2="135.38" y2="618.70" stroke="#1e1e1e" stroke-width="0.9"/>
<text x="135.38" y="626.90" font-size="6.05" stroke="#333" stroke-width="0.08" text-anchor="middle" fill="#333" textLength="3.06" lengthAdjust="spacingAndGlyphs">7</text>
<line x1="147.01" y1="615.70" x2="147.01" y2="618.70" stroke="#1e1e1e" stroke-width="0.9"/>
<text x="147.01" y="626.90" font-size="6.05" stroke="#333" stroke-width="0.08" text-anchor="middle" fill="#333" textLength="3.06" lengthAdjust="spacingAndGlyphs">8</text>
<line x1="158.64" y1="615.70" x2="158.64" y2="618.70" stroke="#1e1e1e" stroke-width="0.9"/>
<text x="158.64" y="626.90" font-size="6.05" stroke="#333" stroke-width="0.08" text-anchor="middle" fill="#333" textLength="3.06" lengthAdjust="spacingAndGlyphs">9</text>
<line x1="170.27" y1="615.70" x2="170.27" y2="618.70" stroke="#1e1e1e" stroke-width="0.9"/>
<text x="170.27" y="626.90" font-size="6.05" stroke="#333" stroke-width="0.08" text-anchor="middle" fill="#333" textLength="6.12" lengthAdjust="spacingAndGlyphs">10</text>
<line x1="55.20" y1="615.70" x2="58.20" y2="615.70" stroke="#1e1e1e" stroke-width="0.9"/>
<text x="51.70" y="618.00" font-size="6.05" stroke="#333" stroke-width="0.08" text-anchor="end" fill="#333" textLength="3.06" lengthAdjust="spacingAndGlyphs">0</text>
<line x1="55.20" y1="588.95" x2="58.20" y2="588.95" stroke="#1e1e1e" stroke-width="0.9"/>
<text x="38.60" y="591.25" font-size="6.05" stroke="#333" stroke-width="0.08" text-anchor="end" fill="#333" textLength="7.65" lengthAdjust="spacingAndGlyphs">2.0</text>
<line x1="39.70" y1="588.35" x2="41.90" y2="590.55" stroke="#333" stroke-width="0.75"/>
<line x1="39.70" y1="590.55" x2="41.90" y2="588.35" stroke="#333" stroke-width="0.75"/>
<text x="43.10" y="591.25" font-size="6.05" stroke="#333" stroke-width="0.08" fill="#333" textLength="6.12" lengthAdjust="spacingAndGlyphs">10</text>
<text x="49.90" y="588.35" font-size="4.29" stroke="#333" stroke-width="0.08" fill="#333" textLength="2.17" lengthAdjust="spacingAndGlyphs">4</text>
<line x1="55.20" y1="562.20" x2="58.20" y2="562.20" stroke="#1e1e1e" stroke-width="0.9"/>
<text x="38.60" y="564.50" font-size="6.05" stroke="#333" stroke-width="0.08" text-anchor="end" fill="#333" textLength="7.65" lengthAdjust="spacingAndGlyphs">4.0</text>
<line x1="39.70" y1="561.60" x2="41.90" y2="563.80" stroke="#333" stroke-width="0.75"/>
<line x1="39.70" y1="563.80" x2="41.90" y2="561.60" stroke="#333" stroke-width="0.75"/>
<text x="43.10" y="564.50" font-size="6.05" stroke="#333" stroke-width="0.08" fill="#333" textLength="6.12" lengthAdjust="spacingAndGlyphs">10</text>
<text x="49.90" y="561.60" font-size="4.29" stroke="#333" stroke-width="0.08" fill="#333" textLength="2.17" lengthAdjust="spacingAndGlyphs">4</text>
<line x1="55.20" y1="535.45" x2="58.20" y2="535.45" stroke="#1e1e1e" stroke-width="0.9"/>
<text x="38.60" y="537.75" font-size="6.05" stroke="#333" stroke-width="0.08" text-anchor="end" fill="#333" textLength="7.65" lengthAdjust="spacingAndGlyphs">6.0</text>
<line x1="39.70" y1="534.85" x2="41.90" y2="537.05" stroke="#333" stroke-width="0.75"/>
<line x1="39.70" y1="537.05" x2="41.90" y2="534.85" stroke="#333" stroke-width="0.75"/>
<text x="43.10" y="537.75" font-size="6.05" stroke="#333" stroke-width="0.08" fill="#333" textLength="6.12" lengthAdjust="spacingAndGlyphs">10</text>
<text x="49.90" y="534.85" font-size="4.29" stroke="#333" stroke-width="0.08" fill="#333" textLength="2.17" lengthAdjust="spacingAndGlyphs">4</text>
<text x="118.60" y="527.70" font-size="8.58" stroke="#222" stroke-width="0.04" text-anchor="middle" fill="#222" textLength="15.17" lengthAdjust="spacingAndGlyphs">47M</text>
<text x="118.40" y="637.80" font-size="7.8" stroke="#1a1a1a" stroke-width="0.3" text-anchor="middle" fill="#1a1a1a" textLength="11.9" lengthAdjust="spacingAndGlyphs">Rank</text>
<text x="0" y="0" font-size="7.7" text-anchor="middle" fill="#1a1a1a" stroke="#1a1a1a" stroke-width="0.3" textLength="36" lengthAdjust="spacingAndGlyphs" transform="translate(26.4,574.10) rotate(-90)">TCR abundance</text>
<polyline points="65.60,550.40 77.23,561.60 88.86,562.40 100.49,569.50 112.12,587.10 123.75,587.10 135.38,591.25 147.01,593.25 158.64,595.50 170.27,609.50" fill="none" stroke="#284583" stroke-width="1.3" stroke-linejoin="round"/>
<polyline points="65.60,547.00 77.23,573.50 88.86,584.10 100.49,605.90 112.12,606.90 123.75,609.25 135.38,610.00 147.01,611.00 158.64,611.50 170.27,611.75" fill="none" stroke="#5aae38" stroke-width="1.3" stroke-linejoin="round"/>
<polyline points="65.60,542.50 77.23,555.60 88.86,584.10 100.49,588.80 112.12,591.90 123.75,596.25 135.38,607.00 147.01,608.75 158.64,609.50 170.27,610.00" fill="none" stroke="#aa0e38" stroke-width="1.3" stroke-linejoin="round"/>
<polyline points="65.60,606.20 77.23,608.90 88.86,609.90 100.49,610.50 112.12,610.70 123.75,611.00 135.38,612.50 147.01,612.50 158.64,612.50 170.27,612.50" fill="none" stroke="#582676" stroke-width="1.3" stroke-linejoin="round"/>
<rect x="354.00" y="104.30" width="32.85" height="11.40" fill="#f8e993" stroke="none" stroke-width="1.0"/>
<rect x="386.25" y="104.30" width="32.85" height="11.40" fill="#d04a1e" stroke="none" stroke-width="1.0"/>
<rect x="418.50" y="104.30" width="32.85" height="11.40" fill="#d04b1e" stroke="none" stroke-width="1.0"/>
<rect x="450.75" y="104.30" width="32.25" height="11.40" fill="#c93a1e" stroke="none" stroke-width="1.0"/>
<rect x="354.00" y="115.10" width="32.85" height="11.40" fill="#f6e186" stroke="none" stroke-width="1.0"/>
<rect x="386.25" y="115.10" width="32.85" height="11.40" fill="#f9ea95" stroke="none" stroke-width="1.0"/>
<rect x="418.50" y="115.10" width="32.85" height="11.40" fill="#e0951f" stroke="none" stroke-width="1.0"/>
<rect x="450.75" y="115.10" width="32.25" height="11.40" fill="#d97a1c" stroke="none" stroke-width="1.0"/>
<rect x="354.00" y="125.90" width="32.85" height="11.40" fill="#faef9e" stroke="none" stroke-width="1.0"/>
<rect x="386.25" y="125.90" width="32.85" height="11.40" fill="#f0ce6a" stroke="none" stroke-width="1.0"/>
<rect x="418.50" y="125.90" width="32.85" height="11.40" fill="#f2d372" stroke="none" stroke-width="1.0"/>
<rect x="450.75" y="125.90" width="32.25" height="11.40" fill="#e4a12e" stroke="none" stroke-width="1.0"/>
<rect x="354.00" y="136.70" width="32.85" height="11.40" fill="#faee9b" stroke="none" stroke-width="1.0"/>
<rect x="386.25" y="136.70" width="32.85" height="11.40" fill="#f6e085" stroke="none" stroke-width="1.0"/>
<rect x="418.50" y="136.70" width="32.85" height="11.40" fill="#f3d97a" stroke="none" stroke-width="1.0"/>
<rect x="450.75" y="136.70" width="32.25" height="11.40" fill="#efcb66" stroke="none" stroke-width="1.0"/>
<rect x="354.00" y="147.50" width="32.85" height="11.40" fill="#f9e994" stroke="none" stroke-width="1.0"/>
<rect x="386.25" y="147.50" width="32.85" height="11.40" fill="#f9ec97" stroke="none" stroke-width="1.0"/>
<rect x="418.50" y="147.50" width="32.85" height="11.40" fill="#f1d271" stroke="none" stroke-width="1.0"/>
<rect x="450.75" y="147.50" width="32.25" height="11.40" fill="#f2d372" stroke="none" stroke-width="1.0"/>
<rect x="354.00" y="158.30" width="32.85" height="11.40" fill="#ffffff" stroke="none" stroke-width="1.0"/>
<rect x="386.25" y="158.30" width="32.85" height="11.40" fill="#f9ea94" stroke="none" stroke-width="1.0"/>
<rect x="418.50" y="158.30" width="32.85" height="11.40" fill="#f9ed99" stroke="none" stroke-width="1.0"/>
<rect x="450.75" y="158.30" width="32.25" height="11.40" fill="#f3d677" stroke="none" stroke-width="1.0"/>
<rect x="354.00" y="169.10" width="32.85" height="11.40" fill="#f9eb97" stroke="none" stroke-width="1.0"/>
<rect x="386.25" y="169.10" width="32.85" height="11.40" fill="#f9ec98" stroke="none" stroke-width="1.0"/>
<rect x="418.50" y="169.10" width="32.85" height="11.40" fill="#f7e48b" stroke="none" stroke-width="1.0"/>
<rect x="450.75" y="169.10" width="32.25" height="11.40" fill="#f6df84" stroke="none" stroke-width="1.0"/>
<rect x="354.00" y="179.90" width="32.85" height="11.40" fill="#f5de82" stroke="none" stroke-width="1.0"/>
<rect x="386.25" y="179.90" width="32.85" height="11.40" fill="#f8e78f" stroke="none" stroke-width="1.0"/>
<rect x="418.50" y="179.90" width="32.85" height="11.40" fill="#f6e288" stroke="none" stroke-width="1.0"/>
<rect x="450.75" y="179.90" width="32.25" height="11.40" fill="#f6e187" stroke="none" stroke-width="1.0"/>
<rect x="354.00" y="190.70" width="32.85" height="11.40" fill="#f9ec99" stroke="none" stroke-width="1.0"/>
<rect x="386.25" y="190.70" width="32.85" height="11.40" fill="#faee9c" stroke="none" stroke-width="1.0"/>
<rect x="418.50" y="190.70" width="32.85" height="11.40" fill="#f6e085" stroke="none" stroke-width="1.0"/>
<rect x="450.75" y="190.70" width="32.25" height="11.40" fill="#f7e58d" stroke="none" stroke-width="1.0"/>
<rect x="354.00" y="201.50" width="32.85" height="10.80" fill="#ffffff" stroke="none" stroke-width="1.0"/>
<rect x="386.25" y="201.50" width="32.85" height="10.80" fill="#ffffff" stroke="none" stroke-width="1.0"/>
<rect x="418.50" y="201.50" width="32.85" height="10.80" fill="#ffffff" stroke="none" stroke-width="1.0"/>
<rect x="450.75" y="201.50" width="32.25" height="10.80" fill="#f9ea94" stroke="none" stroke-width="1.0"/>
<rect x="353.50" y="104.40" width="130.00" height="107.80" fill="none" stroke="#262626" stroke-width="1.0"/>
<rect x="273.50" y="104.50" width="66.80" height="9.30" fill="none" stroke="#666666" stroke-width="0.9"/>
<text x="220.40" y="111.05" font-size="5.83" stroke="#222" stroke-width="0.08" fill="#222" textLength="23.86" lengthAdjust="spacingAndGlyphs">TCRBV06</text>
<text x="275.80" y="111.05" font-size="5.83" stroke="#222" stroke-width="0.08" fill="#222" textLength="57.72" lengthAdjust="spacingAndGlyphs">CASSKVTGTGNYGYTF</text>
<text x="369.93" y="111.15" font-size="6.105" stroke="#222" stroke-width="0.03" text-anchor="middle" fill="#222" textLength="13.48" lengthAdjust="spacingAndGlyphs">1,511</text>
<text x="402.18" y="111.15" font-size="6.105" stroke="#222" stroke-width="0.03" text-anchor="middle" fill="#222" textLength="20.06" lengthAdjust="spacingAndGlyphs">130,547</text>
<text x="434.43" y="111.15" font-size="6.105" stroke="#222" stroke-width="0.03" text-anchor="middle" fill="#222" textLength="20.06" lengthAdjust="spacingAndGlyphs">125,632</text>
<text x="466.68" y="111.15" font-size="6.105" stroke="#222" stroke-width="0.03" text-anchor="middle" fill="#222" textLength="20.06" lengthAdjust="spacingAndGlyphs">214,687</text>
<text x="487.20" y="111.15" font-size="6.05" stroke="#333" stroke-width="0.08" fill="#333" textLength="3.06" lengthAdjust="spacingAndGlyphs">1</text>
<text x="220.40" y="121.91" font-size="5.83" stroke="#222" stroke-width="0.08" fill="#222" textLength="23.86" lengthAdjust="spacingAndGlyphs">TCRBV12</text>
<text x="275.80" y="121.91" font-size="5.83" stroke="#222" stroke-width="0.08" fill="#222" textLength="44.47" lengthAdjust="spacingAndGlyphs">CASSLALNTEAFF</text>
<text x="369.93" y="122.01" font-size="6.105" stroke="#222" stroke-width="0.03" text-anchor="middle" fill="#222" textLength="13.89" lengthAdjust="spacingAndGlyphs">3,926</text>
<text x="402.18" y="122.01" font-size="6.105" stroke="#222" stroke-width="0.03" text-anchor="middle" fill="#222" textLength="13.89" lengthAdjust="spacingAndGlyphs">1,219</text>
<text x="434.43" y="122.01" font-size="6.105" stroke="#222" stroke-width="0.03" text-anchor="middle" fill="#222" textLength="16.98" lengthAdjust="spacingAndGlyphs">22,513</text>
<text x="466.68" y="122.01" font-size="6.105" stroke="#222" stroke-width="0.03" text-anchor="middle" fill="#222" textLength="16.98" lengthAdjust="spacingAndGlyphs">30,985</text>
<text x="487.20" y="122.01" font-size="6.05" stroke="#333" stroke-width="0.08" fill="#333" textLength="3.06" lengthAdjust="spacingAndGlyphs">2</text>
<rect x="273.50" y="126.22" width="66.80" height="9.30" fill="none" stroke="#666666" stroke-width="0.9"/>
<text x="220.40" y="132.77" font-size="5.83" stroke="#222" stroke-width="0.08" fill="#222" textLength="39.48" lengthAdjust="spacingAndGlyphs">TCRBV06-05*01</text>
<text x="275.80" y="132.77" font-size="5.83" stroke="#222" stroke-width="0.08" fill="#222" textLength="51.24" lengthAdjust="spacingAndGlyphs">CASSPSTGTIYGYTF</text>
<text x="369.93" y="132.87" font-size="6.105" stroke="#222" stroke-width="0.03" text-anchor="middle" fill="#222" textLength="8.85" lengthAdjust="spacingAndGlyphs">118</text>
<text x="402.18" y="132.87" font-size="6.105" stroke="#222" stroke-width="0.03" text-anchor="middle" fill="#222" textLength="13.89" lengthAdjust="spacingAndGlyphs">8,254</text>
<text x="434.43" y="132.87" font-size="6.105" stroke="#222" stroke-width="0.03" text-anchor="middle" fill="#222" textLength="13.89" lengthAdjust="spacingAndGlyphs">7,241</text>
<text x="466.68" y="132.87" font-size="6.105" stroke="#222" stroke-width="0.03" text-anchor="middle" fill="#222" textLength="16.98" lengthAdjust="spacingAndGlyphs">19,561</text>
<text x="487.20" y="132.87" font-size="6.05" stroke="#333" stroke-width="0.08" fill="#333" textLength="3.06" lengthAdjust="spacingAndGlyphs">3</text>
<rect x="273.50" y="137.08" width="66.80" height="9.30" fill="none" stroke="#666666" stroke-width="0.9"/>
<text x="220.40" y="143.63" font-size="5.83" stroke="#222" stroke-width="0.08" fill="#222" textLength="23.86" lengthAdjust="spacingAndGlyphs">TCRBV06</text>
<text x="275.80" y="143.63" font-size="5.83" stroke="#222" stroke-width="0.08" fill="#222" textLength="55.85" lengthAdjust="spacingAndGlyphs">CASSPITGQGAYGYTF</text>
<text x="369.93" y="143.73" font-size="6.105" stroke="#222" stroke-width="0.03" text-anchor="middle" fill="#222" textLength="9.26" lengthAdjust="spacingAndGlyphs">428</text>
<text x="402.18" y="143.73" font-size="6.105" stroke="#222" stroke-width="0.03" text-anchor="middle" fill="#222" textLength="13.89" lengthAdjust="spacingAndGlyphs">4,163</text>
<text x="434.43" y="143.73" font-size="6.105" stroke="#222" stroke-width="0.03" text-anchor="middle" fill="#222" textLength="13.89" lengthAdjust="spacingAndGlyphs">6,263</text>
<text x="466.68" y="143.73" font-size="6.105" stroke="#222" stroke-width="0.03" text-anchor="middle" fill="#222" textLength="13.89" lengthAdjust="spacingAndGlyphs">8,800</text>
<text x="487.20" y="143.73" font-size="6.05" stroke="#333" stroke-width="0.08" fill="#333" textLength="3.06" lengthAdjust="spacingAndGlyphs">4</text>
<text x="220.40" y="154.49" font-size="5.83" stroke="#222" stroke-width="0.08" fill="#222" textLength="23.86" lengthAdjust="spacingAndGlyphs">TCRBV06</text>
<text x="275.80" y="154.49" font-size="5.83" stroke="#222" stroke-width="0.08" fill="#222" textLength="44.37" lengthAdjust="spacingAndGlyphs">CATFEEPNEKLFF</text>
<text x="369.93" y="154.59" font-size="6.105" stroke="#222" stroke-width="0.03" text-anchor="middle" fill="#222" textLength="13.89" lengthAdjust="spacingAndGlyphs">1,457</text>
<text x="402.18" y="154.59" font-size="6.105" stroke="#222" stroke-width="0.03" text-anchor="middle" fill="#222" textLength="9.26" lengthAdjust="spacingAndGlyphs">834</text>
<text x="434.43" y="154.59" font-size="6.105" stroke="#222" stroke-width="0.03" text-anchor="middle" fill="#222" textLength="13.89" lengthAdjust="spacingAndGlyphs">7,426</text>
<text x="466.68" y="154.59" font-size="6.105" stroke="#222" stroke-width="0.03" text-anchor="middle" fill="#222" textLength="13.89" lengthAdjust="spacingAndGlyphs">7,207</text>
<text x="487.20" y="154.59" font-size="6.05" stroke="#333" stroke-width="0.08" fill="#333" textLength="3.06" lengthAdjust="spacingAndGlyphs">5</text>
<rect x="273.50" y="158.80" width="66.80" height="9.30" fill="none" stroke="#666666" stroke-width="0.9"/>
<text x="220.40" y="165.35" font-size="5.83" stroke="#222" stroke-width="0.08" fill="#222" textLength="39.08" lengthAdjust="spacingAndGlyphs">TCRBV11-02*02</text>
<text x="275.80" y="165.35" font-size="5.83" stroke="#222" stroke-width="0.08" fill="#222" textLength="53.4" lengthAdjust="spacingAndGlyphs">CASSPWAYATDTQYF</text>
<text x="369.93" y="165.45" font-size="6.105" stroke="#222" stroke-width="0.03" text-anchor="middle" fill="#222" textLength="6.17" lengthAdjust="spacingAndGlyphs">29</text>
<text x="402.18" y="165.45" font-size="6.105" stroke="#222" stroke-width="0.03" text-anchor="middle" fill="#222" textLength="13.89" lengthAdjust="spacingAndGlyphs">1,284</text>
<text x="434.43" y="165.45" font-size="6.105" stroke="#222" stroke-width="0.03" text-anchor="middle" fill="#222" textLength="9.26" lengthAdjust="spacingAndGlyphs">619</text>
<text x="466.68" y="165.45" font-size="6.105" stroke="#222" stroke-width="0.03" text-anchor="middle" fill="#222" textLength="13.89" lengthAdjust="spacingAndGlyphs">6,652</text>
<text x="487.20" y="165.45" font-size="6.05" stroke="#333" stroke-width="0.08" fill="#333" textLength="3.06" lengthAdjust="spacingAndGlyphs">6</text>
<text x="220.40" y="176.21" font-size="5.83" stroke="#222" stroke-width="0.08" fill="#222" textLength="39.48" lengthAdjust="spacingAndGlyphs">TCRBV06-05*01</text>
<text x="275.80" y="176.21" font-size="5.83" stroke="#222" stroke-width="0.08" fill="#222" textLength="53.5" lengthAdjust="spacingAndGlyphs">CASSYADRGAGELFF</text>
<text x="369.93" y="176.31" font-size="6.105" stroke="#222" stroke-width="0.03" text-anchor="middle" fill="#222" textLength="9.26" lengthAdjust="spacingAndGlyphs">937</text>
<text x="402.18" y="176.31" font-size="6.105" stroke="#222" stroke-width="0.03" text-anchor="middle" fill="#222" textLength="9.26" lengthAdjust="spacingAndGlyphs">794</text>
<text x="434.43" y="176.31" font-size="6.105" stroke="#222" stroke-width="0.03" text-anchor="middle" fill="#222" textLength="13.89" lengthAdjust="spacingAndGlyphs">3,109</text>
<text x="466.68" y="176.31" font-size="6.105" stroke="#222" stroke-width="0.03" text-anchor="middle" fill="#222" textLength="13.89" lengthAdjust="spacingAndGlyphs">4,465</text>
<text x="487.20" y="176.31" font-size="6.05" stroke="#333" stroke-width="0.08" fill="#333" textLength="3.06" lengthAdjust="spacingAndGlyphs">7</text>
<text x="220.40" y="187.07" font-size="5.83" stroke="#222" stroke-width="0.08" fill="#222" textLength="23.86" lengthAdjust="spacingAndGlyphs">TCRBV12</text>
<text x="275.80" y="187.07" font-size="5.83" stroke="#222" stroke-width="0.08" fill="#222" textLength="46.53" lengthAdjust="spacingAndGlyphs">CASRDRENTEAFF</text>
<text x="369.93" y="187.17" font-size="6.105" stroke="#222" stroke-width="0.03" text-anchor="middle" fill="#222" textLength="13.89" lengthAdjust="spacingAndGlyphs">4,796</text>
<text x="402.18" y="187.17" font-size="6.105" stroke="#222" stroke-width="0.03" text-anchor="middle" fill="#222" textLength="13.89" lengthAdjust="spacingAndGlyphs">2,280</text>
<text x="434.43" y="187.17" font-size="6.105" stroke="#222" stroke-width="0.03" text-anchor="middle" fill="#222" textLength="13.89" lengthAdjust="spacingAndGlyphs">3,583</text>
<text x="466.68" y="187.17" font-size="6.105" stroke="#222" stroke-width="0.03" text-anchor="middle" fill="#222" textLength="13.89" lengthAdjust="spacingAndGlyphs">3,871</text>
<text x="487.20" y="187.17" font-size="6.05" stroke="#333" stroke-width="0.08" fill="#333" textLength="3.06" lengthAdjust="spacingAndGlyphs">8</text>
<text x="220.40" y="197.93" font-size="5.83" stroke="#222" stroke-width="0.08" fill="#222" textLength="31.52" lengthAdjust="spacingAndGlyphs">TCRBV19-01</text>
<text x="275.80" y="197.93" font-size="5.83" stroke="#222" stroke-width="0.08" fill="#222" textLength="47.41" lengthAdjust="spacingAndGlyphs">CASSIDSPNTEAFF</text>
<text x="369.93" y="198.03" font-size="6.105" stroke="#222" stroke-width="0.03" text-anchor="middle" fill="#222" textLength="9.26" lengthAdjust="spacingAndGlyphs">677</text>
<text x="402.18" y="198.03" font-size="6.105" stroke="#222" stroke-width="0.03" text-anchor="middle" fill="#222" textLength="9.26" lengthAdjust="spacingAndGlyphs">340</text>
<text x="434.43" y="198.03" font-size="6.105" stroke="#222" stroke-width="0.03" text-anchor="middle" fill="#222" textLength="13.89" lengthAdjust="spacingAndGlyphs">4,180</text>
<text x="466.68" y="198.03" font-size="6.105" stroke="#222" stroke-width="0.03" text-anchor="middle" fill="#222" textLength="13.89" lengthAdjust="spacingAndGlyphs">2,703</text>
<text x="487.20" y="198.03" font-size="6.05" stroke="#333" stroke-width="0.08" fill="#333" textLength="3.06" lengthAdjust="spacingAndGlyphs">9</text>
<text x="220.40" y="208.79" font-size="5.83" stroke="#222" stroke-width="0.08" fill="#222" textLength="39.48" lengthAdjust="spacingAndGlyphs">TCRBV02-01*01</text>
<text x="275.80" y="208.79" font-size="5.83" stroke="#222" stroke-width="0.08" fill="#222" textLength="46.13" lengthAdjust="spacingAndGlyphs">CARTGYEDTEAFF</text>
<text x="369.93" y="208.89" font-size="6.105" stroke="#222" stroke-width="0.03" text-anchor="middle" fill="#222" textLength="3.09" lengthAdjust="spacingAndGlyphs">0</text>
<text x="402.18" y="208.89" font-size="6.105" stroke="#222" stroke-width="0.03" text-anchor="middle" fill="#222" textLength="3.09" lengthAdjust="spacingAndGlyphs">0</text>
<text x="434.43" y="208.89" font-size="6.105" stroke="#222" stroke-width="0.03" text-anchor="middle" fill="#222" textLength="3.09" lengthAdjust="spacingAndGlyphs">0</text>
<text x="466.68" y="208.89" font-size="6.105" stroke="#222" stroke-width="0.03" text-anchor="middle" fill="#222" textLength="13.89" lengthAdjust="spacingAndGlyphs">1,435</text>
<text x="487.20" y="208.89" font-size="6.05" stroke="#333" stroke-width="0.08" fill="#333" textLength="6.12" lengthAdjust="spacingAndGlyphs">10</text>
<text x="0" y="0" font-size="8.0" text-anchor="middle" fill="#1a1a1a" stroke="#1a1a1a" stroke-width="0.3" textLength="73.2" lengthAdjust="spacingAndGlyphs" transform="translate(507.4,158.40) rotate(90)">Rank in NLV + Mono-OKT3-Fab</text>
<text x="0" y="0" font-size="7.9" text-anchor="middle" fill="#1a1a1a" stroke="#1a1a1a" stroke-width="0.3" textLength="21" lengthAdjust="spacingAndGlyphs" transform="translate(498.0,158.40) rotate(90)">condition</text>
<rect x="354.00" y="246.58" width="32.85" height="11.40" fill="#faef9e" stroke="none" stroke-width="1.0"/>
<rect x="386.25" y="246.58" width="32.85" height="11.40" fill="#d3661b" stroke="none" stroke-width="1.0"/>
<rect x="418.50" y="246.58" width="32.85" height="11.40" fill="#f9ed99" stroke="none" stroke-width="1.0"/>
<rect x="450.75" y="246.58" width="32.25" height="11.40" fill="#d3571e" stroke="none" stroke-width="1.0"/>
<rect x="354.00" y="257.38" width="32.85" height="11.40" fill="#f9ea95" stroke="none" stroke-width="1.0"/>
<rect x="386.25" y="257.38" width="32.85" height="11.40" fill="#f9ec97" stroke="none" stroke-width="1.0"/>
<rect x="418.50" y="257.38" width="32.85" height="11.40" fill="#e7ab3d" stroke="none" stroke-width="1.0"/>
<rect x="450.75" y="257.38" width="32.25" height="11.40" fill="#e4a12f" stroke="none" stroke-width="1.0"/>
<rect x="354.00" y="268.18" width="32.85" height="11.40" fill="#ffffff" stroke="none" stroke-width="1.0"/>
<rect x="386.25" y="268.18" width="32.85" height="11.40" fill="#e4a230" stroke="none" stroke-width="1.0"/>
<rect x="418.50" y="268.18" width="32.85" height="11.40" fill="#d76d1c" stroke="none" stroke-width="1.0"/>
<rect x="450.75" y="268.18" width="32.25" height="11.40" fill="#e6aa3b" stroke="none" stroke-width="1.0"/>
<rect x="354.00" y="278.98" width="32.85" height="11.40" fill="#faee9c" stroke="none" stroke-width="1.0"/>
<rect x="386.25" y="278.98" width="32.85" height="11.40" fill="#f5de82" stroke="none" stroke-width="1.0"/>
<rect x="418.50" y="278.98" width="32.85" height="11.40" fill="#ffffff" stroke="none" stroke-width="1.0"/>
<rect x="450.75" y="278.98" width="32.25" height="11.40" fill="#ebbb50" stroke="none" stroke-width="1.0"/>
<rect x="354.00" y="289.78" width="32.85" height="11.40" fill="#ffffff" stroke="none" stroke-width="1.0"/>
<rect x="386.25" y="289.78" width="32.85" height="11.40" fill="#edc259" stroke="none" stroke-width="1.0"/>
<rect x="418.50" y="289.78" width="32.85" height="11.40" fill="#e7ac3e" stroke="none" stroke-width="1.0"/>
<rect x="450.75" y="289.78" width="32.25" height="11.40" fill="#f0ce6b" stroke="none" stroke-width="1.0"/>
<rect x="354.00" y="300.58" width="32.85" height="11.40" fill="#ffffff" stroke="none" stroke-width="1.0"/>
<rect x="386.25" y="300.58" width="32.85" height="11.40" fill="#edc058" stroke="none" stroke-width="1.0"/>
<rect x="418.50" y="300.58" width="32.85" height="11.40" fill="#faed9b" stroke="none" stroke-width="1.0"/>
<rect x="450.75" y="300.58" width="32.25" height="11.40" fill="#f4d97b" stroke="none" stroke-width="1.0"/>
<rect x="354.00" y="311.38" width="32.85" height="11.40" fill="#ffffff" stroke="none" stroke-width="1.0"/>
<rect x="386.25" y="311.38" width="32.85" height="11.40" fill="#f2d373" stroke="none" stroke-width="1.0"/>
<rect x="418.50" y="311.38" width="32.85" height="11.40" fill="#e29a25" stroke="none" stroke-width="1.0"/>
<rect x="450.75" y="311.38" width="32.25" height="11.40" fill="#f5dd80" stroke="none" stroke-width="1.0"/>
<rect x="354.00" y="322.18" width="32.85" height="11.40" fill="#faef9d" stroke="none" stroke-width="1.0"/>
<rect x="386.25" y="322.18" width="32.85" height="11.40" fill="#faef9e" stroke="none" stroke-width="1.0"/>
<rect x="418.50" y="322.18" width="32.85" height="11.40" fill="#f4dc7e" stroke="none" stroke-width="1.0"/>
<rect x="450.75" y="322.18" width="32.25" height="11.40" fill="#f5de82" stroke="none" stroke-width="1.0"/>
<rect x="354.00" y="332.98" width="32.85" height="11.40" fill="#faed9b" stroke="none" stroke-width="1.0"/>
<rect x="386.25" y="332.98" width="32.85" height="11.40" fill="#faee9c" stroke="none" stroke-width="1.0"/>
<rect x="418.50" y="332.98" width="32.85" height="11.40" fill="#f7e389" stroke="none" stroke-width="1.0"/>
<rect x="450.75" y="332.98" width="32.25" height="11.40" fill="#f6e085" stroke="none" stroke-width="1.0"/>
<rect x="354.00" y="343.78" width="32.85" height="10.80" fill="#ffffff" stroke="none" stroke-width="1.0"/>
<rect x="386.25" y="343.78" width="32.85" height="10.80" fill="#ffffff" stroke="none" stroke-width="1.0"/>
<rect x="418.50" y="343.78" width="32.85" height="10.80" fill="#ffffff" stroke="none" stroke-width="1.0"/>
<rect x="450.75" y="343.78" width="32.25" height="10.80" fill="#f6e287" stroke="none" stroke-width="1.0"/>
<rect x="353.50" y="246.68" width="130.00" height="107.80" fill="none" stroke="#262626" stroke-width="1.0"/>
<rect x="273.50" y="246.78" width="66.80" height="9.30" fill="none" stroke="#666666" stroke-width="0.9"/>
<text x="220.40" y="253.33" font-size="5.83" stroke="#222" stroke-width="0.08" fill="#222" textLength="39.48" lengthAdjust="spacingAndGlyphs">TCRBV05-08*01</text>
<text x="275.80" y="253.33" font-size="5.83" stroke="#222" stroke-width="0.08" fill="#222" textLength="44.37" lengthAdjust="spacingAndGlyphs">CASSRTSINEQFF</text>
<text x="369.93" y="253.43" font-size="6.105" stroke="#222" stroke-width="0.03" text-anchor="middle" fill="#222" textLength="8.85" lengthAdjust="spacingAndGlyphs">110</text>
<text x="402.18" y="253.43" font-size="6.105" stroke="#222" stroke-width="0.03" text-anchor="middle" fill="#222" textLength="16.98" lengthAdjust="spacingAndGlyphs">52,021</text>
<text x="434.43" y="253.43" font-size="6.105" stroke="#222" stroke-width="0.03" text-anchor="middle" fill="#222" textLength="9.26" lengthAdjust="spacingAndGlyphs">627</text>
<text x="466.68" y="253.43" font-size="6.105" stroke="#222" stroke-width="0.03" text-anchor="middle" fill="#222" textLength="16.98" lengthAdjust="spacingAndGlyphs">90,986</text>
<text x="487.20" y="253.43" font-size="6.05" stroke="#333" stroke-width="0.08" fill="#333" textLength="3.06" lengthAdjust="spacingAndGlyphs">1</text>
<text x="220.40" y="264.19" font-size="5.83" stroke="#222" stroke-width="0.08" fill="#222" textLength="39.48" lengthAdjust="spacingAndGlyphs">TCRBV04-01*01</text>
<text x="275.80" y="264.19" font-size="5.83" stroke="#222" stroke-width="0.08" fill="#222" textLength="48.0" lengthAdjust="spacingAndGlyphs">CASSPEGGGGAFF</text>
<text x="369.93" y="264.29" font-size="6.105" stroke="#222" stroke-width="0.03" text-anchor="middle" fill="#222" textLength="13.89" lengthAdjust="spacingAndGlyphs">1,249</text>
<text x="402.18" y="264.29" font-size="6.105" stroke="#222" stroke-width="0.03" text-anchor="middle" fill="#222" textLength="9.26" lengthAdjust="spacingAndGlyphs">852</text>
<text x="434.43" y="264.29" font-size="6.105" stroke="#222" stroke-width="0.03" text-anchor="middle" fill="#222" textLength="16.98" lengthAdjust="spacingAndGlyphs">16,282</text>
<text x="466.68" y="264.29" font-size="6.105" stroke="#222" stroke-width="0.03" text-anchor="middle" fill="#222" textLength="16.98" lengthAdjust="spacingAndGlyphs">19,386</text>
<text x="487.20" y="264.29" font-size="6.05" stroke="#333" stroke-width="0.08" fill="#333" textLength="3.06" lengthAdjust="spacingAndGlyphs">2</text>
<rect x="273.50" y="268.50" width="66.80" height="9.30" fill="none" stroke="#2e2e2e" stroke-width="1.1"/>
<text x="220.40" y="275.05" font-size="5.83" stroke="#222" stroke-width="0.15" font-weight="bold" fill="#222" textLength="24.15" lengthAdjust="spacingAndGlyphs">TCRBV06</text>
<text x="275.80" y="275.05" font-size="5.83" stroke="#222" stroke-width="0.15" font-weight="bold" fill="#222" textLength="57.12" lengthAdjust="spacingAndGlyphs">CASSPTTGTGTYGYTF</text>
<text x="369.93" y="275.15" font-size="6.105" stroke="#222" stroke-width="0.03" text-anchor="middle" fill="#222" textLength="6.17" lengthAdjust="spacingAndGlyphs">25</text>
<text x="402.18" y="275.15" font-size="6.105" stroke="#222" stroke-width="0.03" text-anchor="middle" fill="#222" textLength="16.98" lengthAdjust="spacingAndGlyphs">19,163</text>
<text x="434.43" y="275.15" font-size="6.105" stroke="#222" stroke-width="0.03" text-anchor="middle" fill="#222" textLength="16.98" lengthAdjust="spacingAndGlyphs">42,683</text>
<text x="466.68" y="275.15" font-size="6.105" stroke="#222" stroke-width="0.03" text-anchor="middle" fill="#222" textLength="16.98" lengthAdjust="spacingAndGlyphs">16,740</text>
<text x="487.20" y="275.15" font-size="6.05" stroke="#333" stroke-width="0.08" fill="#333" textLength="3.06" lengthAdjust="spacingAndGlyphs">3</text>
<rect x="273.50" y="279.36" width="66.80" height="9.30" fill="none" stroke="#2e2e2e" stroke-width="1.1"/>
<text x="220.40" y="285.91" font-size="5.83" stroke="#222" stroke-width="0.15" font-weight="bold" fill="#222" textLength="39.77" lengthAdjust="spacingAndGlyphs">TCRBV27-01*01</text>
<text x="275.80" y="285.91" font-size="5.83" stroke="#222" stroke-width="0.15" font-weight="bold" fill="#222" textLength="46.23" lengthAdjust="spacingAndGlyphs">CASSLEGYTEAFF</text>
<text x="369.93" y="286.01" font-size="6.105" stroke="#222" stroke-width="0.03" text-anchor="middle" fill="#222" textLength="9.26" lengthAdjust="spacingAndGlyphs">340</text>
<text x="402.18" y="286.01" font-size="6.105" stroke="#222" stroke-width="0.03" text-anchor="middle" fill="#222" textLength="13.89" lengthAdjust="spacingAndGlyphs">4,717</text>
<text x="434.43" y="286.01" font-size="6.105" stroke="#222" stroke-width="0.03" text-anchor="middle" fill="#222" textLength="9.26" lengthAdjust="spacingAndGlyphs">100</text>
<text x="466.68" y="286.01" font-size="6.105" stroke="#222" stroke-width="0.03" text-anchor="middle" fill="#222" textLength="16.98" lengthAdjust="spacingAndGlyphs">12,317</text>
<text x="487.20" y="286.01" font-size="6.05" stroke="#333" stroke-width="0.08" fill="#333" textLength="3.06" lengthAdjust="spacingAndGlyphs">4</text>
<rect x="273.50" y="290.22" width="66.80" height="9.30" fill="none" stroke="#2e2e2e" stroke-width="1.1"/>
<text x="220.40" y="296.77" font-size="5.83" stroke="#222" stroke-width="0.15" font-weight="bold" fill="#222" textLength="39.77" lengthAdjust="spacingAndGlyphs">TCRBV27-01*01</text>
<text x="275.80" y="296.77" font-size="5.83" stroke="#222" stroke-width="0.15" font-weight="bold" fill="#222" textLength="53.01" lengthAdjust="spacingAndGlyphs">CASSPIAGYPHEQYF</text>
<text x="369.93" y="296.87" font-size="6.105" stroke="#222" stroke-width="0.03" text-anchor="middle" fill="#222" textLength="3.09" lengthAdjust="spacingAndGlyphs">0</text>
<text x="402.18" y="296.87" font-size="6.105" stroke="#222" stroke-width="0.03" text-anchor="middle" fill="#222" textLength="16.98" lengthAdjust="spacingAndGlyphs">10,604</text>
<text x="434.43" y="296.87" font-size="6.105" stroke="#222" stroke-width="0.03" text-anchor="middle" fill="#222" textLength="16.98" lengthAdjust="spacingAndGlyphs">15,904</text>
<text x="466.68" y="296.87" font-size="6.105" stroke="#222" stroke-width="0.03" text-anchor="middle" fill="#222" textLength="13.89" lengthAdjust="spacingAndGlyphs">8,197</text>
<text x="487.20" y="296.87" font-size="6.05" stroke="#333" stroke-width="0.08" fill="#333" textLength="3.06" lengthAdjust="spacingAndGlyphs">5</text>
<rect x="273.50" y="301.08" width="66.80" height="9.30" fill="none" stroke="#2e2e2e" stroke-width="1.1"/>
<text x="220.40" y="307.63" font-size="5.83" stroke="#222" stroke-width="0.15" font-weight="bold" fill="#222" textLength="24.15" lengthAdjust="spacingAndGlyphs">TCRBV12</text>
<text x="275.80" y="307.63" font-size="5.83" stroke="#222" stroke-width="0.15" font-weight="bold" fill="#222" textLength="43.29" lengthAdjust="spacingAndGlyphs">CASSPGTYGYTF</text>
<text x="369.93" y="307.73" font-size="6.105" stroke="#222" stroke-width="0.03" text-anchor="middle" fill="#222" textLength="3.09" lengthAdjust="spacingAndGlyphs">0</text>
<text x="402.18" y="307.73" font-size="6.105" stroke="#222" stroke-width="0.03" text-anchor="middle" fill="#222" textLength="16.98" lengthAdjust="spacingAndGlyphs">10,945</text>
<text x="434.43" y="307.73" font-size="6.105" stroke="#222" stroke-width="0.03" text-anchor="middle" fill="#222" textLength="9.26" lengthAdjust="spacingAndGlyphs">458</text>
<text x="466.68" y="307.73" font-size="6.105" stroke="#222" stroke-width="0.03" text-anchor="middle" fill="#222" textLength="13.89" lengthAdjust="spacingAndGlyphs">6,158</text>
<text x="487.20" y="307.73" font-size="6.05" stroke="#333" stroke-width="0.08" fill="#333" textLength="3.06" lengthAdjust="spacingAndGlyphs">6</text>
<rect x="273.50" y="311.94" width="66.80" height="9.30" fill="none" stroke="#2e2e2e" stroke-width="1.1"/>
<text x="220.40" y="318.49" font-size="5.83" stroke="#222" stroke-width="0.15" font-weight="bold" fill="#222" textLength="24.15" lengthAdjust="spacingAndGlyphs">TCRBV12</text>
<text x="275.80" y="318.49" font-size="5.83" stroke="#222" stroke-width="0.15" font-weight="bold" fill="#222" textLength="38.57" lengthAdjust="spacingAndGlyphs">CASSIMNEQFF</text>
<text x="369.93" y="318.59" font-size="6.105" stroke="#222" stroke-width="0.03" text-anchor="middle" fill="#222" textLength="3.09" lengthAdjust="spacingAndGlyphs">0</text>
<text x="402.18" y="318.59" font-size="6.105" stroke="#222" stroke-width="0.03" text-anchor="middle" fill="#222" textLength="13.89" lengthAdjust="spacingAndGlyphs">7,183</text>
<text x="434.43" y="318.59" font-size="6.105" stroke="#222" stroke-width="0.03" text-anchor="middle" fill="#222" textLength="16.98" lengthAdjust="spacingAndGlyphs">21,212</text>
<text x="466.68" y="318.59" font-size="6.105" stroke="#222" stroke-width="0.03" text-anchor="middle" fill="#222" textLength="13.89" lengthAdjust="spacingAndGlyphs">5,276</text>
<text x="487.20" y="318.59" font-size="6.05" stroke="#333" stroke-width="0.08" fill="#333" textLength="3.06" lengthAdjust="spacingAndGlyphs">7</text>
<text x="220.40" y="329.35" font-size="5.83" stroke="#222" stroke-width="0.08" fill="#222" textLength="39.08" lengthAdjust="spacingAndGlyphs">TCRBV11-01*01</text>
<text x="275.80" y="329.35" font-size="5.83" stroke="#222" stroke-width="0.08" fill="#222" textLength="45.95" lengthAdjust="spacingAndGlyphs">CASSLAPPYEQYF</text>
<text x="369.93" y="329.45" font-size="6.105" stroke="#222" stroke-width="0.03" text-anchor="middle" fill="#222" textLength="9.26" lengthAdjust="spacingAndGlyphs">195</text>
<text x="402.18" y="329.45" font-size="6.105" stroke="#222" stroke-width="0.03" text-anchor="middle" fill="#222" textLength="9.26" lengthAdjust="spacingAndGlyphs">148</text>
<text x="434.43" y="329.45" font-size="6.105" stroke="#222" stroke-width="0.03" text-anchor="middle" fill="#222" textLength="13.89" lengthAdjust="spacingAndGlyphs">5,527</text>
<text x="466.68" y="329.45" font-size="6.105" stroke="#222" stroke-width="0.03" text-anchor="middle" fill="#222" textLength="13.89" lengthAdjust="spacingAndGlyphs">4,742</text>
<text x="487.20" y="329.45" font-size="6.05" stroke="#333" stroke-width="0.08" fill="#333" textLength="3.06" lengthAdjust="spacingAndGlyphs">8</text>
<text x="220.40" y="340.21" font-size="5.83" stroke="#222" stroke-width="0.08" fill="#222" textLength="39.48" lengthAdjust="spacingAndGlyphs">TCRBV04-01*01</text>
<text x="275.80" y="340.21" font-size="5.83" stroke="#222" stroke-width="0.08" fill="#222" textLength="53.9" lengthAdjust="spacingAndGlyphs">CASSQGVGLGEKLFF</text>
<text x="369.93" y="340.31" font-size="6.105" stroke="#222" stroke-width="0.03" text-anchor="middle" fill="#222" textLength="9.26" lengthAdjust="spacingAndGlyphs">484</text>
<text x="402.18" y="340.31" font-size="6.105" stroke="#222" stroke-width="0.03" text-anchor="middle" fill="#222" textLength="9.26" lengthAdjust="spacingAndGlyphs">318</text>
<text x="434.43" y="340.31" font-size="6.105" stroke="#222" stroke-width="0.03" text-anchor="middle" fill="#222" textLength="13.89" lengthAdjust="spacingAndGlyphs">3,426</text>
<text x="466.68" y="340.31" font-size="6.105" stroke="#222" stroke-width="0.03" text-anchor="middle" fill="#222" textLength="13.89" lengthAdjust="spacingAndGlyphs">4,192</text>
<text x="487.20" y="340.31" font-size="6.05" stroke="#333" stroke-width="0.08" fill="#333" textLength="3.06" lengthAdjust="spacingAndGlyphs">9</text>
<text x="220.40" y="351.07" font-size="5.83" stroke="#222" stroke-width="0.08" fill="#222" textLength="31.52" lengthAdjust="spacingAndGlyphs">TCRBV09-01</text>
<text x="275.80" y="351.07" font-size="5.83" stroke="#222" stroke-width="0.08" fill="#222" textLength="54.48" lengthAdjust="spacingAndGlyphs">CASSPRDNPNYGYTF</text>
<text x="369.93" y="351.17" font-size="6.105" stroke="#222" stroke-width="0.03" text-anchor="middle" fill="#222" textLength="3.09" lengthAdjust="spacingAndGlyphs">0</text>
<text x="402.18" y="351.17" font-size="6.105" stroke="#222" stroke-width="0.03" text-anchor="middle" fill="#222" textLength="3.09" lengthAdjust="spacingAndGlyphs">0</text>
<text x="434.43" y="351.17" font-size="6.105" stroke="#222" stroke-width="0.03" text-anchor="middle" fill="#222" textLength="3.09" lengthAdjust="spacingAndGlyphs">0</text>
<text x="466.68" y="351.17" font-size="6.105" stroke="#222" stroke-width="0.03" text-anchor="middle" fill="#222" textLength="13.89" lengthAdjust="spacingAndGlyphs">3,831</text>
<text x="487.20" y="351.17" font-size="6.05" stroke="#333" stroke-width="0.08" fill="#333" textLength="6.12" lengthAdjust="spacingAndGlyphs">10</text>
<text x="0" y="0" font-size="8.0" text-anchor="middle" fill="#1a1a1a" stroke="#1a1a1a" stroke-width="0.3" textLength="73.2" lengthAdjust="spacingAndGlyphs" transform="translate(507.4,300.68) rotate(90)">Rank in NLV + Mono-OKT3-Fab</text>
<text x="0" y="0" font-size="7.9" text-anchor="middle" fill="#1a1a1a" stroke="#1a1a1a" stroke-width="0.3" textLength="21" lengthAdjust="spacingAndGlyphs" transform="translate(498.0,300.68) rotate(90)">condition</text>
<rect x="354.00" y="388.86" width="32.85" height="11.40" fill="#f9ea95" stroke="none" stroke-width="1.0"/>
<rect x="386.25" y="388.86" width="32.85" height="11.40" fill="#d3571e" stroke="none" stroke-width="1.0"/>
<rect x="418.50" y="388.86" width="32.85" height="11.40" fill="#eec55e" stroke="none" stroke-width="1.0"/>
<rect x="450.75" y="388.86" width="32.25" height="11.40" fill="#d3641b" stroke="none" stroke-width="1.0"/>
<rect x="354.00" y="399.66" width="32.85" height="11.40" fill="#faed9a" stroke="none" stroke-width="1.0"/>
<rect x="386.25" y="399.66" width="32.85" height="11.40" fill="#e19721" stroke="none" stroke-width="1.0"/>
<rect x="418.50" y="399.66" width="32.85" height="11.40" fill="#f7e58c" stroke="none" stroke-width="1.0"/>
<rect x="450.75" y="399.66" width="32.25" height="11.40" fill="#e19721" stroke="none" stroke-width="1.0"/>
<rect x="354.00" y="410.46" width="32.85" height="11.40" fill="#faee9c" stroke="none" stroke-width="1.0"/>
<rect x="386.25" y="410.46" width="32.85" height="11.40" fill="#f1d271" stroke="none" stroke-width="1.0"/>
<rect x="418.50" y="410.46" width="32.85" height="11.40" fill="#faef9d" stroke="none" stroke-width="1.0"/>
<rect x="450.75" y="410.46" width="32.25" height="11.40" fill="#ebbb50" stroke="none" stroke-width="1.0"/>
<rect x="354.00" y="421.26" width="32.85" height="11.40" fill="#faee9d" stroke="none" stroke-width="1.0"/>
<rect x="386.25" y="421.26" width="32.85" height="11.40" fill="#f0cf6c" stroke="none" stroke-width="1.0"/>
<rect x="418.50" y="421.26" width="32.85" height="11.40" fill="#e39f2c" stroke="none" stroke-width="1.0"/>
<rect x="450.75" y="421.26" width="32.25" height="11.40" fill="#ecc056" stroke="none" stroke-width="1.0"/>
<rect x="354.00" y="432.06" width="32.85" height="11.40" fill="#f7e58c" stroke="none" stroke-width="1.0"/>
<rect x="386.25" y="432.06" width="32.85" height="11.40" fill="#f9ea95" stroke="none" stroke-width="1.0"/>
<rect x="418.50" y="432.06" width="32.85" height="11.40" fill="#f6e085" stroke="none" stroke-width="1.0"/>
<rect x="450.75" y="432.06" width="32.25" height="11.40" fill="#f2d473" stroke="none" stroke-width="1.0"/>
<rect x="354.00" y="442.86" width="32.85" height="11.40" fill="#f5de81" stroke="none" stroke-width="1.0"/>
<rect x="386.25" y="442.86" width="32.85" height="11.40" fill="#f8e993" stroke="none" stroke-width="1.0"/>
<rect x="418.50" y="442.86" width="32.85" height="11.40" fill="#f8e78f" stroke="none" stroke-width="1.0"/>
<rect x="450.75" y="442.86" width="32.25" height="11.40" fill="#f2d474" stroke="none" stroke-width="1.0"/>
<rect x="354.00" y="453.66" width="32.85" height="11.40" fill="#ffffff" stroke="none" stroke-width="1.0"/>
<rect x="386.25" y="453.66" width="32.85" height="11.40" fill="#f6e287" stroke="none" stroke-width="1.0"/>
<rect x="418.50" y="453.66" width="32.85" height="11.40" fill="#f1d16f" stroke="none" stroke-width="1.0"/>
<rect x="450.75" y="453.66" width="32.25" height="11.40" fill="#f4da7c" stroke="none" stroke-width="1.0"/>
<rect x="354.00" y="464.46" width="32.85" height="11.40" fill="#f8e68e" stroke="none" stroke-width="1.0"/>
<rect x="386.25" y="464.46" width="32.85" height="11.40" fill="#f9ec97" stroke="none" stroke-width="1.0"/>
<rect x="418.50" y="464.46" width="32.85" height="11.40" fill="#f6e085" stroke="none" stroke-width="1.0"/>
<rect x="450.75" y="464.46" width="32.25" height="11.40" fill="#f4db7d" stroke="none" stroke-width="1.0"/>
<rect x="354.00" y="475.26" width="32.85" height="11.40" fill="#faef9e" stroke="none" stroke-width="1.0"/>
<rect x="386.25" y="475.26" width="32.85" height="11.40" fill="#ffffff" stroke="none" stroke-width="1.0"/>
<rect x="418.50" y="475.26" width="32.85" height="11.40" fill="#f7e48b" stroke="none" stroke-width="1.0"/>
<rect x="450.75" y="475.26" width="32.25" height="11.40" fill="#f4db7e" stroke="none" stroke-width="1.0"/>
<rect x="354.00" y="486.06" width="32.85" height="10.80" fill="#f6e186" stroke="none" stroke-width="1.0"/>
<rect x="386.25" y="486.06" width="32.85" height="10.80" fill="#f8e891" stroke="none" stroke-width="1.0"/>
<rect x="418.50" y="486.06" width="32.85" height="10.80" fill="#f6e186" stroke="none" stroke-width="1.0"/>
<rect x="450.75" y="486.06" width="32.25" height="10.80" fill="#f5de81" stroke="none" stroke-width="1.0"/>
<rect x="353.50" y="388.96" width="130.00" height="107.80" fill="none" stroke="#262626" stroke-width="1.0"/>
<rect x="273.50" y="389.06" width="66.80" height="9.30" fill="none" stroke="#2e2e2e" stroke-width="1.1"/>
<text x="220.40" y="395.61" font-size="5.83" stroke="#222" stroke-width="0.15" font-weight="bold" fill="#222" textLength="24.15" lengthAdjust="spacingAndGlyphs">TCRBV12</text>
<text x="275.80" y="395.61" font-size="5.83" stroke="#222" stroke-width="0.15" font-weight="bold" fill="#222" textLength="39.76" lengthAdjust="spacingAndGlyphs">CASSSVNEQFF</text>
<text x="369.93" y="395.71" font-size="6.105" stroke="#222" stroke-width="0.03" text-anchor="middle" fill="#222" textLength="13.89" lengthAdjust="spacingAndGlyphs">1,224</text>
<text x="402.18" y="395.71" font-size="6.105" stroke="#222" stroke-width="0.03" text-anchor="middle" fill="#222" textLength="16.98" lengthAdjust="spacingAndGlyphs">90,590</text>
<text x="434.43" y="395.71" font-size="6.105" stroke="#222" stroke-width="0.03" text-anchor="middle" fill="#222" textLength="16.98" lengthAdjust="spacingAndGlyphs">10,008</text>
<text x="466.68" y="395.71" font-size="6.105" stroke="#222" stroke-width="0.03" text-anchor="middle" fill="#222" textLength="16.98" lengthAdjust="spacingAndGlyphs">57,318</text>
<text x="487.20" y="395.71" font-size="6.05" stroke="#333" stroke-width="0.08" fill="#333" textLength="3.06" lengthAdjust="spacingAndGlyphs">1</text>
<rect x="273.50" y="399.92" width="66.80" height="9.30" fill="none" stroke="#666666" stroke-width="0.9"/>
<text x="220.40" y="406.47" font-size="5.83" stroke="#222" stroke-width="0.08" fill="#222" textLength="39.48" lengthAdjust="spacingAndGlyphs">TCRBV06-05*01</text>
<text x="275.80" y="406.47" font-size="5.83" stroke="#222" stroke-width="0.08" fill="#222" textLength="52.91" lengthAdjust="spacingAndGlyphs">CASSPKTGATYGYTF</text>
<text x="369.93" y="406.57" font-size="6.105" stroke="#222" stroke-width="0.03" text-anchor="middle" fill="#222" textLength="9.26" lengthAdjust="spacingAndGlyphs">518</text>
<text x="402.18" y="406.57" font-size="6.105" stroke="#222" stroke-width="0.03" text-anchor="middle" fill="#222" textLength="16.98" lengthAdjust="spacingAndGlyphs">22,100</text>
<text x="434.43" y="406.57" font-size="6.105" stroke="#222" stroke-width="0.03" text-anchor="middle" fill="#222" textLength="13.89" lengthAdjust="spacingAndGlyphs">2,829</text>
<text x="466.68" y="406.57" font-size="6.105" stroke="#222" stroke-width="0.03" text-anchor="middle" fill="#222" textLength="16.98" lengthAdjust="spacingAndGlyphs">22,061</text>
<text x="487.20" y="406.57" font-size="6.05" stroke="#333" stroke-width="0.08" fill="#333" textLength="3.06" lengthAdjust="spacingAndGlyphs">2</text>
<rect x="273.50" y="410.78" width="66.80" height="9.30" fill="none" stroke="#666666" stroke-width="0.9"/>
<text x="220.40" y="417.33" font-size="5.83" stroke="#222" stroke-width="0.08" fill="#222" textLength="23.86" lengthAdjust="spacingAndGlyphs">TCRBV06</text>
<text x="275.80" y="417.33" font-size="5.83" stroke="#222" stroke-width="0.08" fill="#222" textLength="57.72" lengthAdjust="spacingAndGlyphs">CASTPQTGTGYYGYTF</text>
<text x="369.93" y="417.43" font-size="6.105" stroke="#222" stroke-width="0.03" text-anchor="middle" fill="#222" textLength="9.26" lengthAdjust="spacingAndGlyphs">294</text>
<text x="402.18" y="417.43" font-size="6.105" stroke="#222" stroke-width="0.03" text-anchor="middle" fill="#222" textLength="13.89" lengthAdjust="spacingAndGlyphs">7,420</text>
<text x="434.43" y="417.43" font-size="6.105" stroke="#222" stroke-width="0.03" text-anchor="middle" fill="#222" textLength="9.26" lengthAdjust="spacingAndGlyphs">160</text>
<text x="466.68" y="417.43" font-size="6.105" stroke="#222" stroke-width="0.03" text-anchor="middle" fill="#222" textLength="16.98" lengthAdjust="spacingAndGlyphs">12,250</text>
<text x="487.20" y="417.43" font-size="6.05" stroke="#333" stroke-width="0.08" fill="#333" textLength="3.06" lengthAdjust="spacingAndGlyphs">3</text>
<rect x="273.50" y="421.64" width="66.80" height="9.30" fill="none" stroke="#2e2e2e" stroke-width="1.1"/>
<text x="220.40" y="428.19" font-size="5.83" stroke="#222" stroke-width="0.15" font-weight="bold" fill="#222" textLength="24.15" lengthAdjust="spacingAndGlyphs">TCRBV06</text>
<text x="275.80" y="428.19" font-size="5.83" stroke="#222" stroke-width="0.15" font-weight="bold" fill="#222" textLength="57.12" lengthAdjust="spacingAndGlyphs">CASSPTTGTGTYGYTF</text>
<text x="369.93" y="428.29" font-size="6.105" stroke="#222" stroke-width="0.03" text-anchor="middle" fill="#222" textLength="9.26" lengthAdjust="spacingAndGlyphs">215</text>
<text x="402.18" y="428.29" font-size="6.105" stroke="#222" stroke-width="0.03" text-anchor="middle" fill="#222" textLength="13.89" lengthAdjust="spacingAndGlyphs">7,965</text>
<text x="434.43" y="428.29" font-size="6.105" stroke="#222" stroke-width="0.03" text-anchor="middle" fill="#222" textLength="16.98" lengthAdjust="spacingAndGlyphs">19,982</text>
<text x="466.68" y="428.29" font-size="6.105" stroke="#222" stroke-width="0.03" text-anchor="middle" fill="#222" textLength="16.56" lengthAdjust="spacingAndGlyphs">11,132</text>
<text x="487.20" y="428.29" font-size="6.05" stroke="#333" stroke-width="0.08" fill="#333" textLength="3.06" lengthAdjust="spacingAndGlyphs">4</text>
<text x="220.40" y="439.05" font-size="5.83" stroke="#222" stroke-width="0.08" fill="#222" textLength="39.48" lengthAdjust="spacingAndGlyphs">TCRBV12-05*01</text>
<text x="275.80" y="439.05" font-size="5.83" stroke="#222" stroke-width="0.08" fill="#222" textLength="46.24" lengthAdjust="spacingAndGlyphs">CASGLGVNTEAFF</text>
<text x="369.93" y="439.15" font-size="6.105" stroke="#222" stroke-width="0.03" text-anchor="middle" fill="#222" textLength="13.89" lengthAdjust="spacingAndGlyphs">2,933</text>
<text x="402.18" y="439.15" font-size="6.105" stroke="#222" stroke-width="0.03" text-anchor="middle" fill="#222" textLength="13.89" lengthAdjust="spacingAndGlyphs">1,174</text>
<text x="434.43" y="439.15" font-size="6.105" stroke="#222" stroke-width="0.03" text-anchor="middle" fill="#222" textLength="13.89" lengthAdjust="spacingAndGlyphs">4,199</text>
<text x="466.68" y="439.15" font-size="6.105" stroke="#222" stroke-width="0.03" text-anchor="middle" fill="#222" textLength="13.89" lengthAdjust="spacingAndGlyphs">7,153</text>
<text x="487.20" y="439.15" font-size="6.05" stroke="#333" stroke-width="0.08" fill="#333" textLength="3.06" lengthAdjust="spacingAndGlyphs">5</text>
<text x="220.40" y="449.91" font-size="5.83" stroke="#222" stroke-width="0.08" fill="#222" textLength="39.48" lengthAdjust="spacingAndGlyphs">TCRBV27-01*01</text>
<text x="275.80" y="449.91" font-size="5.83" stroke="#222" stroke-width="0.08" fill="#222" textLength="44.76" lengthAdjust="spacingAndGlyphs">CASRDGGYEQYF</text>
<text x="369.93" y="450.01" font-size="6.105" stroke="#222" stroke-width="0.03" text-anchor="middle" fill="#222" textLength="13.89" lengthAdjust="spacingAndGlyphs">4,960</text>
<text x="402.18" y="450.01" font-size="6.105" stroke="#222" stroke-width="0.03" text-anchor="middle" fill="#222" textLength="13.89" lengthAdjust="spacingAndGlyphs">1,644</text>
<text x="434.43" y="450.01" font-size="6.105" stroke="#222" stroke-width="0.03" text-anchor="middle" fill="#222" textLength="13.89" lengthAdjust="spacingAndGlyphs">2,324</text>
<text x="466.68" y="450.01" font-size="6.105" stroke="#222" stroke-width="0.03" text-anchor="middle" fill="#222" textLength="13.89" lengthAdjust="spacingAndGlyphs">7,012</text>
<text x="487.20" y="450.01" font-size="6.05" stroke="#333" stroke-width="0.08" fill="#333" textLength="3.06" lengthAdjust="spacingAndGlyphs">6</text>
<rect x="273.50" y="454.22" width="66.80" height="9.30" fill="none" stroke="#2e2e2e" stroke-width="1.1"/>
<text x="220.40" y="460.77" font-size="5.83" stroke="#222" stroke-width="0.15" font-weight="bold" fill="#222" textLength="39.77" lengthAdjust="spacingAndGlyphs">TCRBV27-01*01</text>
<text x="275.80" y="460.77" font-size="5.83" stroke="#222" stroke-width="0.15" font-weight="bold" fill="#222" textLength="53.01" lengthAdjust="spacingAndGlyphs">CASSPIAGYPHEQYF</text>
<text x="369.93" y="460.87" font-size="6.105" stroke="#222" stroke-width="0.03" text-anchor="middle" fill="#222" textLength="6.17" lengthAdjust="spacingAndGlyphs">47</text>
<text x="402.18" y="460.87" font-size="6.105" stroke="#222" stroke-width="0.03" text-anchor="middle" fill="#222" textLength="13.89" lengthAdjust="spacingAndGlyphs">3,779</text>
<text x="434.43" y="460.87" font-size="6.105" stroke="#222" stroke-width="0.03" text-anchor="middle" fill="#222" textLength="13.89" lengthAdjust="spacingAndGlyphs">7,646</text>
<text x="466.68" y="460.87" font-size="6.105" stroke="#222" stroke-width="0.03" text-anchor="middle" fill="#222" textLength="13.89" lengthAdjust="spacingAndGlyphs">6,004</text>
<text x="487.20" y="460.87" font-size="6.05" stroke="#333" stroke-width="0.08" fill="#333" textLength="3.06" lengthAdjust="spacingAndGlyphs">7</text>
<text x="220.40" y="471.63" font-size="5.83" stroke="#222" stroke-width="0.08" fill="#222" textLength="31.52" lengthAdjust="spacingAndGlyphs">TCRBV19-01</text>
<text x="275.80" y="471.63" font-size="5.83" stroke="#222" stroke-width="0.08" fill="#222" textLength="57.62" lengthAdjust="spacingAndGlyphs">CASSSRTSGRFYEQYF</text>
<text x="369.93" y="471.73" font-size="6.105" stroke="#222" stroke-width="0.03" text-anchor="middle" fill="#222" textLength="13.89" lengthAdjust="spacingAndGlyphs">2,461</text>
<text x="402.18" y="471.73" font-size="6.105" stroke="#222" stroke-width="0.03" text-anchor="middle" fill="#222" textLength="9.26" lengthAdjust="spacingAndGlyphs">881</text>
<text x="434.43" y="471.73" font-size="6.105" stroke="#222" stroke-width="0.03" text-anchor="middle" fill="#222" textLength="13.89" lengthAdjust="spacingAndGlyphs">4,173</text>
<text x="466.68" y="471.73" font-size="6.105" stroke="#222" stroke-width="0.03" text-anchor="middle" fill="#222" textLength="13.89" lengthAdjust="spacingAndGlyphs">5,848</text>
<text x="487.20" y="471.73" font-size="6.05" stroke="#333" stroke-width="0.08" fill="#333" textLength="3.06" lengthAdjust="spacingAndGlyphs">8</text>
<text x="220.40" y="482.49" font-size="5.83" stroke="#222" stroke-width="0.08" fill="#222" textLength="39.08" lengthAdjust="spacingAndGlyphs">TCRBV11-02*02</text>
<text x="275.80" y="482.49" font-size="5.83" stroke="#222" stroke-width="0.08" fill="#222" textLength="61.56" lengthAdjust="spacingAndGlyphs">CASSLDPSGRLGDEQYF</text>
<text x="369.93" y="482.59" font-size="6.105" stroke="#222" stroke-width="0.03" text-anchor="middle" fill="#222" textLength="9.26" lengthAdjust="spacingAndGlyphs">107</text>
<text x="402.18" y="482.59" font-size="6.105" stroke="#222" stroke-width="0.03" text-anchor="middle" fill="#222" textLength="6.17" lengthAdjust="spacingAndGlyphs">69</text>
<text x="434.43" y="482.59" font-size="6.105" stroke="#222" stroke-width="0.03" text-anchor="middle" fill="#222" textLength="13.89" lengthAdjust="spacingAndGlyphs">3,063</text>
<text x="466.68" y="482.59" font-size="6.105" stroke="#222" stroke-width="0.03" text-anchor="middle" fill="#222" textLength="13.89" lengthAdjust="spacingAndGlyphs">5,582</text>
<text x="487.20" y="482.59" font-size="6.05" stroke="#333" stroke-width="0.08" fill="#333" textLength="3.06" lengthAdjust="spacingAndGlyphs">9</text>
<text x="220.40" y="493.35" font-size="5.83" stroke="#222" stroke-width="0.08" fill="#222" textLength="23.86" lengthAdjust="spacingAndGlyphs">TCRBV12</text>
<text x="275.80" y="493.35" font-size="5.83" stroke="#222" stroke-width="0.08" fill="#222" textLength="49.48" lengthAdjust="spacingAndGlyphs">CASSINYSNQPQHF</text>
<text x="369.93" y="493.45" font-size="6.105" stroke="#222" stroke-width="0.03" text-anchor="middle" fill="#222" textLength="13.89" lengthAdjust="spacingAndGlyphs">3,984</text>
<text x="402.18" y="493.45" font-size="6.105" stroke="#222" stroke-width="0.03" text-anchor="middle" fill="#222" textLength="13.89" lengthAdjust="spacingAndGlyphs">1,943</text>
<text x="434.43" y="493.45" font-size="6.105" stroke="#222" stroke-width="0.03" text-anchor="middle" fill="#222" textLength="13.89" lengthAdjust="spacingAndGlyphs">3,944</text>
<text x="466.68" y="493.45" font-size="6.105" stroke="#222" stroke-width="0.03" text-anchor="middle" fill="#222" textLength="13.89" lengthAdjust="spacingAndGlyphs">4,909</text>
<text x="487.20" y="493.45" font-size="6.05" stroke="#333" stroke-width="0.08" fill="#333" textLength="6.12" lengthAdjust="spacingAndGlyphs">10</text>
<text x="0" y="0" font-size="8.0" text-anchor="middle" fill="#1a1a1a" stroke="#1a1a1a" stroke-width="0.3" textLength="73.2" lengthAdjust="spacingAndGlyphs" transform="translate(507.4,442.96) rotate(90)">Rank in NLV + Mono-OKT3-Fab</text>
<text x="0" y="0" font-size="7.9" text-anchor="middle" fill="#1a1a1a" stroke="#1a1a1a" stroke-width="0.3" textLength="21" lengthAdjust="spacingAndGlyphs" transform="translate(498.0,442.96) rotate(90)">condition</text>
<rect x="354.00" y="531.14" width="32.85" height="11.40" fill="#f9ed99" stroke="none" stroke-width="1.0"/>
<rect x="386.25" y="531.14" width="32.85" height="11.40" fill="#d97a1c" stroke="none" stroke-width="1.0"/>
<rect x="418.50" y="531.14" width="32.85" height="11.40" fill="#faed9a" stroke="none" stroke-width="1.0"/>
<rect x="450.75" y="531.14" width="32.25" height="11.40" fill="#d4691b" stroke="none" stroke-width="1.0"/>
<rect x="354.00" y="541.94" width="32.85" height="11.40" fill="#f5df83" stroke="none" stroke-width="1.0"/>
<rect x="386.25" y="541.94" width="32.85" height="11.40" fill="#f6e288" stroke="none" stroke-width="1.0"/>
<rect x="418.50" y="541.94" width="32.85" height="11.40" fill="#d3651b" stroke="none" stroke-width="1.0"/>
<rect x="450.75" y="541.94" width="32.25" height="11.40" fill="#d76f1c" stroke="none" stroke-width="1.0"/>
<rect x="354.00" y="552.74" width="32.85" height="11.40" fill="#f5dd80" stroke="none" stroke-width="1.0"/>
<rect x="386.25" y="552.74" width="32.85" height="11.40" fill="#f5df83" stroke="none" stroke-width="1.0"/>
<rect x="418.50" y="552.74" width="32.85" height="11.40" fill="#d66c1c" stroke="none" stroke-width="1.0"/>
<rect x="450.75" y="552.74" width="32.25" height="11.40" fill="#d7701c" stroke="none" stroke-width="1.0"/>
<rect x="354.00" y="563.54" width="32.85" height="11.40" fill="#f9eb97" stroke="none" stroke-width="1.0"/>
<rect x="386.25" y="563.54" width="32.85" height="11.40" fill="#d3671b" stroke="none" stroke-width="1.0"/>
<rect x="418.50" y="563.54" width="32.85" height="11.40" fill="#f6e085" stroke="none" stroke-width="1.0"/>
<rect x="450.75" y="563.54" width="32.25" height="11.40" fill="#d8761c" stroke="none" stroke-width="1.0"/>
<rect x="354.00" y="574.34" width="32.85" height="11.40" fill="#faef9e" stroke="none" stroke-width="1.0"/>
<rect x="386.25" y="574.34" width="32.85" height="11.40" fill="#e0931f" stroke="none" stroke-width="1.0"/>
<rect x="418.50" y="574.34" width="32.85" height="11.40" fill="#faee9c" stroke="none" stroke-width="1.0"/>
<rect x="450.75" y="574.34" width="32.25" height="11.40" fill="#e19924" stroke="none" stroke-width="1.0"/>
<rect x="354.00" y="585.14" width="32.85" height="11.40" fill="#f9ea95" stroke="none" stroke-width="1.0"/>
<rect x="386.25" y="585.14" width="32.85" height="11.40" fill="#f9eb97" stroke="none" stroke-width="1.0"/>
<rect x="418.50" y="585.14" width="32.85" height="11.40" fill="#df911f" stroke="none" stroke-width="1.0"/>
<rect x="450.75" y="585.14" width="32.25" height="11.40" fill="#e19924" stroke="none" stroke-width="1.0"/>
<rect x="354.00" y="595.94" width="32.85" height="11.40" fill="#f2d473" stroke="none" stroke-width="1.0"/>
<rect x="386.25" y="595.94" width="32.85" height="11.40" fill="#f5de81" stroke="none" stroke-width="1.0"/>
<rect x="418.50" y="595.94" width="32.85" height="11.40" fill="#e39e2a" stroke="none" stroke-width="1.0"/>
<rect x="450.75" y="595.94" width="32.25" height="11.40" fill="#e5a533" stroke="none" stroke-width="1.0"/>
<rect x="354.00" y="606.74" width="32.85" height="11.40" fill="#f6e287" stroke="none" stroke-width="1.0"/>
<rect x="386.25" y="606.74" width="32.85" height="11.40" fill="#f8e68f" stroke="none" stroke-width="1.0"/>
<rect x="418.50" y="606.74" width="32.85" height="11.40" fill="#e5a534" stroke="none" stroke-width="1.0"/>
<rect x="450.75" y="606.74" width="32.25" height="11.40" fill="#e6a939" stroke="none" stroke-width="1.0"/>
<rect x="354.00" y="617.54" width="32.85" height="11.40" fill="#f9ea94" stroke="none" stroke-width="1.0"/>
<rect x="386.25" y="617.54" width="32.85" height="11.40" fill="#f9ed9a" stroke="none" stroke-width="1.0"/>
<rect x="418.50" y="617.54" width="32.85" height="11.40" fill="#e9b346" stroke="none" stroke-width="1.0"/>
<rect x="450.75" y="617.54" width="32.25" height="11.40" fill="#e8af41" stroke="none" stroke-width="1.0"/>
<rect x="354.00" y="628.34" width="32.85" height="10.80" fill="#faed9a" stroke="none" stroke-width="1.0"/>
<rect x="386.25" y="628.34" width="32.85" height="10.80" fill="#faee9c" stroke="none" stroke-width="1.0"/>
<rect x="418.50" y="628.34" width="32.85" height="10.80" fill="#f5df83" stroke="none" stroke-width="1.0"/>
<rect x="450.75" y="628.34" width="32.25" height="10.80" fill="#f6e084" stroke="none" stroke-width="1.0"/>
<rect x="353.50" y="531.24" width="130.00" height="107.80" fill="none" stroke="#262626" stroke-width="1.0"/>
<rect x="273.50" y="531.34" width="66.80" height="9.30" fill="none" stroke="#2e2e2e" stroke-width="1.1"/>
<text x="220.40" y="537.89" font-size="5.83" stroke="#222" stroke-width="0.15" font-weight="bold" fill="#222" textLength="24.15" lengthAdjust="spacingAndGlyphs">TCRBV06</text>
<text x="275.80" y="537.89" font-size="5.83" stroke="#222" stroke-width="0.15" font-weight="bold" fill="#222" textLength="57.71" lengthAdjust="spacingAndGlyphs">CASSPKTGTGTYGYTF</text>
<text x="369.93" y="537.99" font-size="6.105" stroke="#222" stroke-width="0.03" text-anchor="middle" fill="#222" textLength="9.26" lengthAdjust="spacingAndGlyphs">638</text>
<text x="402.18" y="537.99" font-size="6.105" stroke="#222" stroke-width="0.03" text-anchor="middle" fill="#222" textLength="16.98" lengthAdjust="spacingAndGlyphs">31,414</text>
<text x="434.43" y="537.99" font-size="6.105" stroke="#222" stroke-width="0.03" text-anchor="middle" fill="#222" textLength="9.26" lengthAdjust="spacingAndGlyphs">497</text>
<text x="466.68" y="537.99" font-size="6.105" stroke="#222" stroke-width="0.03" text-anchor="middle" fill="#222" textLength="16.98" lengthAdjust="spacingAndGlyphs">48,671</text>
<text x="487.20" y="537.99" font-size="6.05" stroke="#333" stroke-width="0.08" fill="#333" textLength="3.06" lengthAdjust="spacingAndGlyphs">1</text>
<rect x="273.50" y="542.20" width="66.80" height="9.30" fill="none" stroke="#2e2e2e" stroke-width="1.1"/>
<text x="220.40" y="548.75" font-size="5.83" stroke="#222" stroke-width="0.15" font-weight="bold" fill="#222" textLength="24.15" lengthAdjust="spacingAndGlyphs">TCRBV20</text>
<text x="275.80" y="548.75" font-size="5.83" stroke="#222" stroke-width="0.15" font-weight="bold" fill="#222" textLength="52.41" lengthAdjust="spacingAndGlyphs">CSANQGGGNTEAFF</text>
<text x="369.93" y="548.85" font-size="6.105" stroke="#222" stroke-width="0.03" text-anchor="middle" fill="#222" textLength="13.89" lengthAdjust="spacingAndGlyphs">4,615</text>
<text x="402.18" y="548.85" font-size="6.105" stroke="#222" stroke-width="0.03" text-anchor="middle" fill="#222" textLength="13.89" lengthAdjust="spacingAndGlyphs">3,636</text>
<text x="434.43" y="548.85" font-size="6.105" stroke="#222" stroke-width="0.03" text-anchor="middle" fill="#222" textLength="16.98" lengthAdjust="spacingAndGlyphs">54,735</text>
<text x="466.68" y="548.85" font-size="6.105" stroke="#222" stroke-width="0.03" text-anchor="middle" fill="#222" textLength="16.98" lengthAdjust="spacingAndGlyphs">40,691</text>
<text x="487.20" y="548.85" font-size="6.05" stroke="#333" stroke-width="0.08" fill="#333" textLength="3.06" lengthAdjust="spacingAndGlyphs">2</text>
<rect x="273.50" y="553.06" width="66.80" height="9.30" fill="none" stroke="#2e2e2e" stroke-width="1.1"/>
<text x="220.40" y="559.61" font-size="5.83" stroke="#222" stroke-width="0.15" font-weight="bold" fill="#222" textLength="39.77" lengthAdjust="spacingAndGlyphs">TCRBV29-01*01</text>
<text x="275.80" y="559.61" font-size="5.83" stroke="#222" stroke-width="0.15" font-weight="bold" fill="#222" textLength="58.11" lengthAdjust="spacingAndGlyphs">CSVTLPQADGRYGYTF</text>
<text x="369.93" y="559.71" font-size="6.105" stroke="#222" stroke-width="0.03" text-anchor="middle" fill="#222" textLength="13.89" lengthAdjust="spacingAndGlyphs">5,202</text>
<text x="402.18" y="559.71" font-size="6.105" stroke="#222" stroke-width="0.03" text-anchor="middle" fill="#222" textLength="13.89" lengthAdjust="spacingAndGlyphs">4,512</text>
<text x="434.43" y="559.71" font-size="6.105" stroke="#222" stroke-width="0.03" text-anchor="middle" fill="#222" textLength="16.98" lengthAdjust="spacingAndGlyphs">44,657</text>
<text x="466.68" y="559.71" font-size="6.105" stroke="#222" stroke-width="0.03" text-anchor="middle" fill="#222" textLength="16.98" lengthAdjust="spacingAndGlyphs">40,088</text>
<text x="487.20" y="559.71" font-size="6.05" stroke="#333" stroke-width="0.08" fill="#333" textLength="3.06" lengthAdjust="spacingAndGlyphs">3</text>
<rect x="273.50" y="563.92" width="66.80" height="9.30" fill="none" stroke="#2e2e2e" stroke-width="1.1"/>
<text x="220.40" y="570.47" font-size="5.83" stroke="#222" stroke-width="0.15" font-weight="bold" fill="#222" textLength="39.77" lengthAdjust="spacingAndGlyphs">TCRBV27-01*01</text>
<text x="275.80" y="570.47" font-size="5.83" stroke="#222" stroke-width="0.15" font-weight="bold" fill="#222" textLength="53.01" lengthAdjust="spacingAndGlyphs">CASSPIAGYPHEQYF</text>
<text x="369.93" y="570.57" font-size="6.105" stroke="#222" stroke-width="0.03" text-anchor="middle" fill="#222" textLength="9.26" lengthAdjust="spacingAndGlyphs">913</text>
<text x="402.18" y="570.57" font-size="6.105" stroke="#222" stroke-width="0.03" text-anchor="middle" fill="#222" textLength="16.98" lengthAdjust="spacingAndGlyphs">51,372</text>
<text x="434.43" y="570.57" font-size="6.105" stroke="#222" stroke-width="0.03" text-anchor="middle" fill="#222" textLength="13.89" lengthAdjust="spacingAndGlyphs">4,238</text>
<text x="466.68" y="570.57" font-size="6.105" stroke="#222" stroke-width="0.03" text-anchor="middle" fill="#222" textLength="16.98" lengthAdjust="spacingAndGlyphs">34,592</text>
<text x="487.20" y="570.57" font-size="6.05" stroke="#333" stroke-width="0.08" fill="#333" textLength="3.06" lengthAdjust="spacingAndGlyphs">4</text>
<rect x="273.50" y="574.78" width="66.80" height="9.30" fill="none" stroke="#2e2e2e" stroke-width="1.1"/>
<text x="220.40" y="581.33" font-size="5.83" stroke="#222" stroke-width="0.15" font-weight="bold" fill="#222" textLength="24.15" lengthAdjust="spacingAndGlyphs">TCRBV12</text>
<text x="275.80" y="581.33" font-size="5.83" stroke="#222" stroke-width="0.15" font-weight="bold" fill="#222" textLength="42.8" lengthAdjust="spacingAndGlyphs">CASSSAYYGYTF</text>
<text x="369.93" y="581.43" font-size="6.105" stroke="#222" stroke-width="0.03" text-anchor="middle" fill="#222" textLength="9.26" lengthAdjust="spacingAndGlyphs">128</text>
<text x="402.18" y="581.43" font-size="6.105" stroke="#222" stroke-width="0.03" text-anchor="middle" fill="#222" textLength="16.98" lengthAdjust="spacingAndGlyphs">23,084</text>
<text x="434.43" y="581.43" font-size="6.105" stroke="#222" stroke-width="0.03" text-anchor="middle" fill="#222" textLength="9.26" lengthAdjust="spacingAndGlyphs">341</text>
<text x="466.68" y="581.43" font-size="6.105" stroke="#222" stroke-width="0.03" text-anchor="middle" fill="#222" textLength="16.98" lengthAdjust="spacingAndGlyphs">21,567</text>
<text x="487.20" y="581.43" font-size="6.05" stroke="#333" stroke-width="0.08" fill="#333" textLength="3.06" lengthAdjust="spacingAndGlyphs">5</text>
<text x="220.40" y="592.19" font-size="5.83" stroke="#222" stroke-width="0.08" fill="#222" textLength="39.48" lengthAdjust="spacingAndGlyphs">TCRBV07-08*01</text>
<text x="275.80" y="592.19" font-size="5.83" stroke="#222" stroke-width="0.08" fill="#222" textLength="58.61" lengthAdjust="spacingAndGlyphs">CASSNPGGSSYYEQYF</text>
<text x="369.93" y="592.29" font-size="6.105" stroke="#222" stroke-width="0.03" text-anchor="middle" fill="#222" textLength="13.89" lengthAdjust="spacingAndGlyphs">1,266</text>
<text x="402.18" y="592.29" font-size="6.105" stroke="#222" stroke-width="0.03" text-anchor="middle" fill="#222" textLength="9.26" lengthAdjust="spacingAndGlyphs">898</text>
<text x="434.43" y="592.29" font-size="6.105" stroke="#222" stroke-width="0.03" text-anchor="middle" fill="#222" textLength="16.98" lengthAdjust="spacingAndGlyphs">23,618</text>
<text x="466.68" y="592.29" font-size="6.105" stroke="#222" stroke-width="0.03" text-anchor="middle" fill="#222" textLength="16.98" lengthAdjust="spacingAndGlyphs">21,528</text>
<text x="487.20" y="592.29" font-size="6.05" stroke="#333" stroke-width="0.08" fill="#333" textLength="3.06" lengthAdjust="spacingAndGlyphs">6</text>
<rect x="273.50" y="596.50" width="66.80" height="9.30" fill="none" stroke="#2e2e2e" stroke-width="1.1"/>
<text x="220.40" y="603.05" font-size="5.83" stroke="#222" stroke-width="0.15" font-weight="bold" fill="#222" textLength="39.77" lengthAdjust="spacingAndGlyphs">TCRBV14-01*01</text>
<text x="275.80" y="603.05" font-size="5.83" stroke="#222" stroke-width="0.15" font-weight="bold" fill="#222" textLength="51.54" lengthAdjust="spacingAndGlyphs">CASSQEPGNYGYTF</text>
<text x="369.93" y="603.15" font-size="6.105" stroke="#222" stroke-width="0.03" text-anchor="middle" fill="#222" textLength="13.89" lengthAdjust="spacingAndGlyphs">7,087</text>
<text x="402.18" y="603.15" font-size="6.105" stroke="#222" stroke-width="0.03" text-anchor="middle" fill="#222" textLength="13.89" lengthAdjust="spacingAndGlyphs">4,922</text>
<text x="434.43" y="603.15" font-size="6.105" stroke="#222" stroke-width="0.03" text-anchor="middle" fill="#222" textLength="16.98" lengthAdjust="spacingAndGlyphs">20,268</text>
<text x="466.68" y="603.15" font-size="6.105" stroke="#222" stroke-width="0.03" text-anchor="middle" fill="#222" textLength="16.98" lengthAdjust="spacingAndGlyphs">18,324</text>
<text x="487.20" y="603.15" font-size="6.05" stroke="#333" stroke-width="0.08" fill="#333" textLength="3.06" lengthAdjust="spacingAndGlyphs">7</text>
<text x="220.40" y="613.91" font-size="5.83" stroke="#222" stroke-width="0.08" fill="#222" textLength="39.48" lengthAdjust="spacingAndGlyphs">TCRBV04-01*01</text>
<text x="275.80" y="613.91" font-size="5.83" stroke="#222" stroke-width="0.08" fill="#222" textLength="52.71" lengthAdjust="spacingAndGlyphs">CASSQTRGAGNTIYF</text>
<text x="369.93" y="614.01" font-size="6.105" stroke="#222" stroke-width="0.03" text-anchor="middle" fill="#222" textLength="13.89" lengthAdjust="spacingAndGlyphs">3,784</text>
<text x="402.18" y="614.01" font-size="6.105" stroke="#222" stroke-width="0.03" text-anchor="middle" fill="#222" textLength="13.89" lengthAdjust="spacingAndGlyphs">2,386</text>
<text x="434.43" y="614.01" font-size="6.105" stroke="#222" stroke-width="0.03" text-anchor="middle" fill="#222" textLength="16.98" lengthAdjust="spacingAndGlyphs">18,085</text>
<text x="466.68" y="614.01" font-size="6.105" stroke="#222" stroke-width="0.03" text-anchor="middle" fill="#222" textLength="16.98" lengthAdjust="spacingAndGlyphs">17,021</text>
<text x="487.20" y="614.01" font-size="6.05" stroke="#333" stroke-width="0.08" fill="#333" textLength="3.06" lengthAdjust="spacingAndGlyphs">8</text>
<text x="220.40" y="624.77" font-size="5.83" stroke="#222" stroke-width="0.08" fill="#222" textLength="39.48" lengthAdjust="spacingAndGlyphs">TCRBV07-08*01</text>
<text x="275.80" y="624.77" font-size="5.83" stroke="#222" stroke-width="0.08" fill="#222" textLength="46.73" lengthAdjust="spacingAndGlyphs">CASSLGQAYEQYF</text>
<text x="369.93" y="624.87" font-size="6.105" stroke="#222" stroke-width="0.03" text-anchor="middle" fill="#222" textLength="13.89" lengthAdjust="spacingAndGlyphs">1,431</text>
<text x="402.18" y="624.87" font-size="6.105" stroke="#222" stroke-width="0.03" text-anchor="middle" fill="#222" textLength="9.26" lengthAdjust="spacingAndGlyphs">589</text>
<text x="434.43" y="624.87" font-size="6.105" stroke="#222" stroke-width="0.03" text-anchor="middle" fill="#222" textLength="16.98" lengthAdjust="spacingAndGlyphs">14,366</text>
<text x="466.68" y="624.87" font-size="6.105" stroke="#222" stroke-width="0.03" text-anchor="middle" fill="#222" textLength="16.98" lengthAdjust="spacingAndGlyphs">15,304</text>
<text x="487.20" y="624.87" font-size="6.05" stroke="#333" stroke-width="0.08" fill="#333" textLength="3.06" lengthAdjust="spacingAndGlyphs">9</text>
<text x="220.40" y="635.63" font-size="5.83" stroke="#222" stroke-width="0.08" fill="#222" textLength="39.48" lengthAdjust="spacingAndGlyphs">TCRBV27-01*01</text>
<text x="275.80" y="635.63" font-size="5.83" stroke="#222" stroke-width="0.08" fill="#222" textLength="51.83" lengthAdjust="spacingAndGlyphs">CASRQGFPGNEQFF</text>
<text x="369.93" y="635.73" font-size="6.105" stroke="#222" stroke-width="0.03" text-anchor="middle" fill="#222" textLength="9.26" lengthAdjust="spacingAndGlyphs">500</text>
<text x="402.18" y="635.73" font-size="6.105" stroke="#222" stroke-width="0.03" text-anchor="middle" fill="#222" textLength="9.26" lengthAdjust="spacingAndGlyphs">277</text>
<text x="434.43" y="635.73" font-size="6.105" stroke="#222" stroke-width="0.03" text-anchor="middle" fill="#222" textLength="13.89" lengthAdjust="spacingAndGlyphs">4,551</text>
<text x="466.68" y="635.73" font-size="6.105" stroke="#222" stroke-width="0.03" text-anchor="middle" fill="#222" textLength="13.89" lengthAdjust="spacingAndGlyphs">4,396</text>
<text x="487.20" y="635.73" font-size="6.05" stroke="#333" stroke-width="0.08" fill="#333" textLength="6.12" lengthAdjust="spacingAndGlyphs">10</text>
<text x="0" y="0" font-size="8.0" text-anchor="middle" fill="#1a1a1a" stroke="#1a1a1a" stroke-width="0.3" textLength="73.2" lengthAdjust="spacingAndGlyphs" transform="translate(507.4,585.24) rotate(90)">Rank in NLV + Mono-OKT3-Fab</text>
<text x="0" y="0" font-size="7.9" text-anchor="middle" fill="#1a1a1a" stroke="#1a1a1a" stroke-width="0.3" textLength="21" lengthAdjust="spacingAndGlyphs" transform="translate(498.0,585.24) rotate(90)">condition</text>
<text x="232.90" y="76.30" font-size="7.04" stroke="#2a2a2a" stroke-width="0.03" text-anchor="middle" textLength="22.88" lengthAdjust="spacingAndGlyphs">TCR Vβ</text>
<text x="232.60" y="84.40" font-size="7.04" stroke="#2a2a2a" stroke-width="0.03" text-anchor="middle" textLength="15.66" lengthAdjust="spacingAndGlyphs">Gene</text>
<text x="306.90" y="69.10" font-size="7.15" stroke="#2a2a2a" stroke-width="0.03" text-anchor="middle" textLength="17.7" lengthAdjust="spacingAndGlyphs">CDR3</text>
<text x="306.90" y="76.80" font-size="7.15" stroke="#2a2a2a" stroke-width="0.03" text-anchor="middle" textLength="32.52" lengthAdjust="spacingAndGlyphs">Amino Acid</text>
<text x="306.90" y="84.10" font-size="7.15" stroke="#2a2a2a" stroke-width="0.03" text-anchor="middle" textLength="29.28" lengthAdjust="spacingAndGlyphs">Sequence</text>
<text x="417.90" y="62.80" font-size="7.04" stroke="#2a2a2a" stroke-width="0.03" text-anchor="middle" textLength="49.45" lengthAdjust="spacingAndGlyphs">Culture Condition</text>
<line x1="360.80" y1="67.40" x2="480.80" y2="67.40" stroke="#333" stroke-width="1.0"/>
<text x="357.20" y="75.80" font-size="6.82" stroke="#2a2a2a" stroke-width="0.03" text-anchor="end" textLength="13.09" lengthAdjust="spacingAndGlyphs">NLV:</text>
<text x="356.20" y="83.50" font-size="6.82" stroke="#2a2a2a" stroke-width="0.03" text-anchor="end" textLength="12.41" lengthAdjust="spacingAndGlyphs">Fab:</text>
<text x="369.20" y="75.80" font-size="6.82" stroke="#2a2a2a" stroke-width="0.03" text-anchor="middle" textLength="2.06" lengthAdjust="spacingAndGlyphs">-</text>
<text x="401.80" y="75.80" font-size="6.82" stroke="#2a2a2a" stroke-width="0.03" text-anchor="middle" textLength="3.62" lengthAdjust="spacingAndGlyphs">+</text>
<text x="435.10" y="75.80" font-size="6.82" stroke="#2a2a2a" stroke-width="0.03" text-anchor="middle" textLength="2.06" lengthAdjust="spacingAndGlyphs">-</text>
<text x="467.40" y="75.80" font-size="6.82" stroke="#2a2a2a" stroke-width="0.03" text-anchor="middle" textLength="3.62" lengthAdjust="spacingAndGlyphs">+</text>
<text x="386.50" y="83.50" font-size="6.93" stroke="#2a2a2a" stroke-width="0.03" text-anchor="middle" textLength="20.65" lengthAdjust="spacingAndGlyphs">Ms-IgG</text>
<text x="452.50" y="83.50" font-size="7.04" stroke="#2a2a2a" stroke-width="0.03" text-anchor="middle" textLength="34.86" lengthAdjust="spacingAndGlyphs">Mono-OKT3</text>
<line x1="360.00" y1="87.10" x2="412.50" y2="87.10" stroke="#333" stroke-width="1.0"/>
<line x1="425.10" y1="87.10" x2="477.70" y2="87.10" stroke="#333" stroke-width="1.0"/>
<rect x="0.50" y="0.50" width="519.00" height="646.00" fill="none" stroke="#000" stroke-width="1.0"/>
</g>
<g filter="url(#gs)">
<rect x="0" y="0" width="520" height="647" fill="#fff"/>
<rect x="58.50" y="7.50" width="134.00" height="74.00" fill="none" stroke="#6e6e6e" stroke-width="1.0"/>
<line x1="72.50" y1="25.40" x2="81.80" y2="25.40" stroke="#582676" stroke-width="1.2"/>
<line x1="125.70" y1="25.40" x2="134.80" y2="25.40" stroke="#aa0e38" stroke-width="1.2"/>
<line x1="72.50" y1="41.20" x2="81.80" y2="41.20" stroke="#5aae38" stroke-width="1.2"/>
<line x1="125.70" y1="41.20" x2="134.80" y2="41.20" stroke="#284583" stroke-width="1.2"/>
<text x="85.20" y="24.40" font-size="5.83" stroke="#333" stroke-width="0.05" fill="#333" textLength="25.64" lengthAdjust="spacingAndGlyphs">No peptide</text>
<text x="85.20" y="31.00" font-size="5.83" stroke="#333" stroke-width="0.05" fill="#333" textLength="28.27" lengthAdjust="spacingAndGlyphs">Ms-IgG-Fab</text>
<text x="138.40" y="24.40" font-size="5.83" stroke="#333" stroke-width="0.05" fill="#333" textLength="25.64" lengthAdjust="spacingAndGlyphs">No peptide</text>
<text x="138.40" y="31.00" font-size="5.83" stroke="#333" stroke-width="0.05" fill="#333" textLength="39.76" lengthAdjust="spacingAndGlyphs">Mono-OKT3-Fab</text>
<text x="85.20" y="40.10" font-size="5.83" stroke="#333" stroke-width="0.05" fill="#333" textLength="28.78" lengthAdjust="spacingAndGlyphs">NLV peptide</text>
<text x="85.20" y="46.60" font-size="5.83" stroke="#333" stroke-width="0.05" fill="#333" textLength="28.27" lengthAdjust="spacingAndGlyphs">Ms-IgG-Fab</text>
<text x="138.40" y="40.10" font-size="5.83" stroke="#333" stroke-width="0.05" fill="#333" textLength="28.78" lengthAdjust="spacingAndGlyphs">NLV peptide</text>
<text x="138.40" y="46.60" font-size="5.83" stroke="#333" stroke-width="0.05" fill="#333" textLength="39.76" lengthAdjust="spacingAndGlyphs">Mono-OKT3-Fab</text>
<text x="85.40" y="58.90" font-size="5.83" stroke="#222" stroke-width="0.15" font-weight="bold" fill="#222" textLength="11.77" lengthAdjust="spacingAndGlyphs">Bold</text>
<text x="100.20" y="58.90" font-size="5.83" stroke="#333" stroke-width="0.05" fill="#333" textLength="31.27" lengthAdjust="spacingAndGlyphs">= Public TCR</text>
<rect x="83.60" y="62.60" width="14.00" height="6.90" fill="none" stroke="#333" stroke-width="0.85"/>
<text x="85.20" y="67.90" font-size="5.83" stroke="#333" stroke-width="0.05" fill="#333" textLength="9.13" lengthAdjust="spacingAndGlyphs">Box</text>
<text x="100.20" y="67.90" font-size="5.83" stroke="#333" stroke-width="0.05" fill="#333" textLength="69.58" lengthAdjust="spacingAndGlyphs">= Exogenous NLV-responsive</text>
<rect x="232.50" y="7.50" width="268.00" height="43.00" fill="none" stroke="#3a3a3a" stroke-width="1.0"/>
<defs><linearGradient id="cb" x1="0" x2="1" y1="0" y2="0"><stop offset="0.0000" stop-color="#faec8c"/><stop offset="0.0834" stop-color="#f6dd74"/><stop offset="0.1669" stop-color="#f2cf60"/><stop offset="0.2503" stop-color="#edbe48"/><stop offset="0.3337" stop-color="#ebb03c"/><stop offset="0.4172" stop-color="#e89e2c"/><stop offset="0.5543" stop-color="#e07e1e"/><stop offset="0.6875" stop-color="#d85f1e"/><stop offset="0.8207" stop-color="#d0491e"/><stop offset="0.9473" stop-color="#ca3a1e"/><stop offset="1.0000" stop-color="#c8361e"/></linearGradient></defs>
<rect x="238.70" y="15.30" width="255.80" height="8.40" fill="url(#cb)" stroke="#7a6a40" stroke-width="0.5"/>
<line x1="259.86" y1="15.30" x2="259.86" y2="16.60" stroke="#3a3020" stroke-width="0.8"/>
<line x1="259.86" y1="22.40" x2="259.86" y2="23.70" stroke="#3a3020" stroke-width="0.8"/>
<text x="259.86" y="31.90" font-size="6.05" stroke="#333" stroke-width="0.08" text-anchor="middle" fill="#333" textLength="13.76" lengthAdjust="spacingAndGlyphs">5,000</text>
<line x1="281.22" y1="15.30" x2="281.22" y2="16.60" stroke="#3a3020" stroke-width="0.8"/>
<line x1="281.22" y1="22.40" x2="281.22" y2="23.70" stroke="#3a3020" stroke-width="0.8"/>
<text x="281.22" y="31.90" font-size="6.05" stroke="#333" stroke-width="0.08" text-anchor="middle" fill="#333" textLength="16.82" lengthAdjust="spacingAndGlyphs">10,000</text>
<line x1="302.58" y1="15.30" x2="302.58" y2="16.60" stroke="#3a3020" stroke-width="0.8"/>
<line x1="302.58" y1="22.40" x2="302.58" y2="23.70" stroke="#3a3020" stroke-width="0.8"/>
<text x="302.58" y="31.90" font-size="6.05" stroke="#333" stroke-width="0.08" text-anchor="middle" fill="#333" textLength="16.82" lengthAdjust="spacingAndGlyphs">15,000</text>
<line x1="323.94" y1="15.30" x2="323.94" y2="16.60" stroke="#3a3020" stroke-width="0.8"/>
<line x1="323.94" y1="22.40" x2="323.94" y2="23.70" stroke="#3a3020" stroke-width="0.8"/>
<text x="323.94" y="31.90" font-size="6.05" stroke="#333" stroke-width="0.08" text-anchor="middle" fill="#333" textLength="16.82" lengthAdjust="spacingAndGlyphs">20,000</text>
<line x1="345.30" y1="15.30" x2="345.30" y2="16.60" stroke="#3a3020" stroke-width="0.8"/>
<line x1="345.30" y1="22.40" x2="345.30" y2="23.70" stroke="#3a3020" stroke-width="0.8"/>
<text x="345.30" y="31.90" font-size="6.05" stroke="#333" stroke-width="0.08" text-anchor="middle" fill="#333" textLength="16.82" lengthAdjust="spacingAndGlyphs">25,000</text>
<line x1="380.40" y1="15.30" x2="380.40" y2="16.60" stroke="#3a3020" stroke-width="0.8"/>
<line x1="380.40" y1="22.40" x2="380.40" y2="23.70" stroke="#3a3020" stroke-width="0.8"/>
<text x="380.40" y="31.90" font-size="6.05" stroke="#333" stroke-width="0.08" text-anchor="middle" fill="#333" textLength="16.82" lengthAdjust="spacingAndGlyphs">50,000</text>
<line x1="414.50" y1="15.30" x2="414.50" y2="16.60" stroke="#3a3020" stroke-width="0.8"/>
<line x1="414.50" y1="22.40" x2="414.50" y2="23.70" stroke="#3a3020" stroke-width="0.8"/>
<text x="414.50" y="31.90" font-size="6.05" stroke="#333" stroke-width="0.08" text-anchor="middle" fill="#333" textLength="19.88" lengthAdjust="spacingAndGlyphs">100,000</text>
<line x1="448.60" y1="15.30" x2="448.60" y2="16.60" stroke="#3a3020" stroke-width="0.8"/>
<line x1="448.60" y1="22.40" x2="448.60" y2="23.70" stroke="#3a3020" stroke-width="0.8"/>
<text x="448.60" y="31.90" font-size="6.05" stroke="#333" stroke-width="0.08" text-anchor="middle" fill="#333" textLength="19.88" lengthAdjust="spacingAndGlyphs">150,000</text>
<line x1="481.00" y1="15.30" x2="481.00" y2="16.60" stroke="#3a3020" stroke-width="0.8"/>
<line x1="481.00" y1="22.40" x2="481.00" y2="23.70" stroke="#3a3020" stroke-width="0.8"/>
<text x="481.00" y="31.90" font-size="6.05" stroke="#333" stroke-width="0.08" text-anchor="middle" fill="#333" textLength="19.88" lengthAdjust="spacingAndGlyphs">200,000</text>
<text x="366.80" y="42.30" font-size="7.3" stroke="#1a1a1a" stroke-width="0.28" text-anchor="middle" fill="#1a1a1a" textLength="35.9" lengthAdjust="spacingAndGlyphs">Live cell counts</text>
<text x="7.90" y="95.90" font-size="11.6" stroke="#000" stroke-width="0.25" font-weight="bold" fill="#000">A</text>
<text x="8.30" y="238.80" font-size="11.6" stroke="#000" stroke-width="0.25" font-weight="bold" fill="#000">B</text>
<text x="8.50" y="380.80" font-size="11.6" stroke="#000" stroke-width="0.25" font-weight="bold" fill="#000">C</text>
<text x="8.40" y="523.10" font-size="11.6" stroke="#000" stroke-width="0.25" font-weight="bold" fill="#000">D</text>
<text x="209.60" y="95.90" font-size="11.6" stroke="#000" stroke-width="0.25" font-weight="bold" fill="#000">E</text>
<text x="209.60" y="239.80" font-size="11.6" stroke="#000" stroke-width="0.25" font-weight="bold" fill="#000">F</text>
<text x="208.10" y="380.60" font-size="11.6" stroke="#000" stroke-width="0.25" font-weight="bold" fill="#000">G</text>
<text x="208.30" y="523.10" font-size="11.6" stroke="#000" stroke-width="0.25" font-weight="bold" fill="#000">H</text>
<line x1="58.20" y1="106.00" x2="58.20" y2="189.20" stroke="#1e1e1e" stroke-width="1.2"/>
<line x1="57.60" y1="188.60" x2="178.90" y2="188.60" stroke="#1e1e1e" stroke-width="1.2"/>
<line x1="65.60" y1="188.60" x2="65.60" y2="191.60" stroke="#1e1e1e" stroke-width="0.9"/>
<text x="65.60" y="199.80" font-size="6.05" stroke="#333" stroke-width="0.08" text-anchor="middle" fill="#333" textLength="3.06" lengthAdjust="spacingAndGlyphs">1</text>
<line x1="77.23" y1="188.60" x2="77.23" y2="191.60" stroke="#1e1e1e" stroke-width="0.9"/>
<text x="77.23" y="199.80" font-size="6.05" stroke="#333" stroke-width="0.08" text-anchor="middle" fill="#333" textLength="3.06" lengthAdjust="spacingAndGlyphs">2</text>
<line x1="88.86" y1="188.60" x2="88.86" y2="191.60" stroke="#1e1e1e" stroke-width="0.9"/>
<text x="88.86" y="199.80" font-size="6.05" stroke="#333" stroke-width="0.08" text-anchor="middle" fill="#333" textLength="3.06" lengthAdjust="spacingAndGlyphs">3</text>
<line x1="100.49" y1="188.60" x2="100.49" y2="191.60" stroke="#1e1e1e" stroke-width="0.9"/>
<text x="100.49" y="199.80" font-size="6.05" stroke="#333" stroke-width="0.08" text-anchor="middle" fill="#333" textLength="3.06" lengthAdjust="spacingAndGlyphs">4</text>
<line x1="112.12" y1="188.60" x2="112.12" y2="191.60" stroke="#1e1e1e" stroke-width="0.9"/>
<text x="112.12" y="199.80" font-size="6.05" stroke="#333" stroke-width="0.08" text-anchor="middle" fill="#333" textLength="3.06" lengthAdjust="spacingAndGlyphs">5</text>
<line x1="123.75" y1="188.60" x2="123.75" y2="191.60" stroke="#1e1e1e" stroke-width="0.9"/>
<text x="123.75" y="199.80" font-size="6.05" stroke="#333" stroke-width="0.08" text-anchor="middle" fill="#333" textLength="3.06" lengthAdjust="spacingAndGlyphs">6</text>
<line x1="135.38" y1="188.60" x2="135.38" y2="191.60" stroke="#1e1e1e" stroke-width="0.9"/>
<text x="135.38" y="199.80" font-size="6.05" stroke="#333" stroke-width="0.08" text-anchor="middle" fill="#333" textLength="3.06" lengthAdjust="spacingAndGlyphs">7</text>
<line x1="147.01" y1="188.60" x2="147.01" y2="191.60" stroke="#1e1e1e" stroke-width="0.9"/>
<text x="147.01" y="199.80" font-size="6.05" stroke="#333" stroke-width="0.08" text-anchor="middle" fill="#333" textLength="3.06" lengthAdjust="spacingAndGlyphs">8</text>
<line x1="158.64" y1="188.60" x2="158.64" y2="191.60" stroke="#1e1e1e" stroke-width="0.9"/>
<text x="158.64" y="199.80" font-size="6.05" stroke="#333" stroke-width="0.08" text-anchor="middle" fill="#333" textLength="3.06" lengthAdjust="spacingAndGlyphs">9</text>
<line x1="170.27" y1="188.60" x2="170.27" y2="191.60" stroke="#1e1e1e" stroke-width="0.9"/>
<text x="170.27" y="199.80" font-size="6.05" stroke="#333" stroke-width="0.08" text-anchor="middle" fill="#333" textLength="6.12" lengthAdjust="spacingAndGlyphs">10</text>
<line x1="55.20" y1="188.60" x2="58.20" y2="188.60" stroke="#1e1e1e" stroke-width="0.9"/>
<text x="51.70" y="190.90" font-size="6.05" stroke="#333" stroke-width="0.08" text-anchor="end" fill="#333" textLength="3.06" lengthAdjust="spacingAndGlyphs">0</text>
<line x1="55.20" y1="172.60" x2="58.20" y2="172.60" stroke="#1e1e1e" stroke-width="0.9"/>
<text x="38.60" y="174.90" font-size="6.05" stroke="#333" stroke-width="0.08" text-anchor="end" fill="#333" textLength="7.65" lengthAdjust="spacingAndGlyphs">5.0</text>
<line x1="39.70" y1="172.00" x2="41.90" y2="174.20" stroke="#333" stroke-width="0.75"/>
<line x1="39.70" y1="174.20" x2="41.90" y2="172.00" stroke="#333" stroke-width="0.75"/>
<text x="43.10" y="174.90" font-size="6.05" stroke="#333" stroke-width="0.08" fill="#333" textLength="6.12" lengthAdjust="spacingAndGlyphs">10</text>
<text x="49.90" y="172.00" font-size="4.29" stroke="#333" stroke-width="0.08" fill="#333" textLength="2.17" lengthAdjust="spacingAndGlyphs">4</text>
<line x1="55.20" y1="156.60" x2="58.20" y2="156.60" stroke="#1e1e1e" stroke-width="0.9"/>
<text x="38.60" y="158.90" font-size="6.05" stroke="#333" stroke-width="0.08" text-anchor="end" fill="#333" textLength="7.65" lengthAdjust="spacingAndGlyphs">1.0</text>
<line x1="39.70" y1="156.00" x2="41.90" y2="158.20" stroke="#333" stroke-width="0.75"/>
<line x1="39.70" y1="158.20" x2="41.90" y2="156.00" stroke="#333" stroke-width="0.75"/>
<text x="43.10" y="158.90" font-size="6.05" stroke="#333" stroke-width="0.08" fill="#333" textLength="6.12" lengthAdjust="spacingAndGlyphs">10</text>
<text x="49.90" y="156.00" font-size="4.29" stroke="#333" stroke-width="0.08" fill="#333" textLength="2.17" lengthAdjust="spacingAndGlyphs">5</text>
<line x1="55.20" y1="140.60" x2="58.20" y2="140.60" stroke="#1e1e1e" stroke-width="0.9"/>
<text x="38.60" y="142.90" font-size="6.05" stroke="#333" stroke-width="0.08" text-anchor="end" fill="#333" textLength="7.65" lengthAdjust="spacingAndGlyphs">1.5</text>
<line x1="39.70" y1="140.00" x2="41.90" y2="142.20" stroke="#333" stroke-width="0.75"/>
<line x1="39.70" y1="142.20" x2="41.90" y2="140.00" stroke="#333" stroke-width="0.75"/>
<text x="43.10" y="142.90" font-size="6.05" stroke="#333" stroke-width="0.08" fill="#333" textLength="6.12" lengthAdjust="spacingAndGlyphs">10</text>
<text x="49.90" y="140.00" font-size="4.29" stroke="#333" stroke-width="0.08" fill="#333" textLength="2.17" lengthAdjust="spacingAndGlyphs">5</text>
<line x1="55.20" y1="124.60" x2="58.20" y2="124.60" stroke="#1e1e1e" stroke-width="0.9"/>
<text x="38.60" y="126.90" font-size="6.05" stroke="#333" stroke-width="0.08" text-anchor="end" fill="#333" textLength="7.65" lengthAdjust="spacingAndGlyphs">2.0</text>
<line x1="39.70" y1="124.00" x2="41.90" y2="126.20" stroke="#333" stroke-width="0.75"/>
<line x1="39.70" y1="126.20" x2="41.90" y2="124.00" stroke="#333" stroke-width="0.75"/>
<text x="43.10" y="126.90" font-size="6.05" stroke="#333" stroke-width="0.08" fill="#333" textLength="6.12" lengthAdjust="spacingAndGlyphs">10</text>
<text x="49.90" y="124.00" font-size="4.29" stroke="#333" stroke-width="0.08" fill="#333" textLength="2.17" lengthAdjust="spacingAndGlyphs">5</text>
<line x1="55.20" y1="108.60" x2="58.20" y2="108.60" stroke="#1e1e1e" stroke-width="0.9"/>
<text x="38.60" y="110.90" font-size="6.05" stroke="#333" stroke-width="0.08" text-anchor="end" fill="#333" textLength="7.65" lengthAdjust="spacingAndGlyphs">2.5</text>
<line x1="39.70" y1="108.00" x2="41.90" y2="110.20" stroke="#333" stroke-width="0.75"/>
<line x1="39.70" y1="110.20" x2="41.90" y2="108.00" stroke="#333" stroke-width="0.75"/>
<text x="43.10" y="110.90" font-size="6.05" stroke="#333" stroke-width="0.08" fill="#333" textLength="6.12" lengthAdjust="spacingAndGlyphs">10</text>
<text x="49.90" y="108.00" font-size="4.29" stroke="#333" stroke-width="0.08" fill="#333" textLength="2.17" lengthAdjust="spacingAndGlyphs">5</text>
<text x="118.60" y="100.60" font-size="8.58" stroke="#222" stroke-width="0.04" text-anchor="middle" fill="#222" textLength="13.44" lengthAdjust="spacingAndGlyphs">72F</text>
<text x="118.40" y="210.70" font-size="7.8" stroke="#1a1a1a" stroke-width="0.3" text-anchor="middle" fill="#1a1a1a" textLength="11.9" lengthAdjust="spacingAndGlyphs">Rank</text>
<text x="0" y="0" font-size="7.7" text-anchor="middle" fill="#1a1a1a" stroke="#1a1a1a" stroke-width="0.3" textLength="36" lengthAdjust="spacingAndGlyphs" transform="translate(26.4,147.00) rotate(-90)">TCR abundance</text>
<polyline points="65.60,119.90 77.23,179.00 88.86,182.40 100.49,186.00 112.12,186.30 123.75,186.50 135.38,186.70 147.01,186.90 158.64,187.00 170.27,187.10" fill="none" stroke="#284583" stroke-width="1.3" stroke-linejoin="round"/>
<polyline points="65.60,146.70 77.23,185.30 88.86,186.20 100.49,186.50 112.12,186.70 123.75,186.90 135.38,187.10 147.01,187.30 158.64,187.40 170.27,187.50" fill="none" stroke="#5aae38" stroke-width="1.3" stroke-linejoin="round"/>
<polyline points="65.60,147.70 77.23,181.10 88.86,186.00 100.49,186.30 112.12,186.50 123.75,186.70 135.38,186.80 147.01,186.90 158.64,187.00 170.27,187.10" fill="none" stroke="#aa0e38" stroke-width="1.3" stroke-linejoin="round"/>
<polyline points="65.60,186.00 77.23,186.70 88.86,187.20 100.49,187.40 112.12,187.50 123.75,187.50 135.38,187.60 147.01,187.60 158.64,187.70 170.27,187.70" fill="none" stroke="#582676" stroke-width="1.3" stroke-linejoin="round"/>
<line x1="58.20" y1="248.50" x2="58.20" y2="331.70" stroke="#1e1e1e" stroke-width="1.2"/>
<line x1="57.60" y1="331.10" x2="178.90" y2="331.10" stroke="#1e1e1e" stroke-width="1.2"/>
<line x1="65.60" y1="331.10" x2="65.60" y2="334.10" stroke="#1e1e1e" stroke-width="0.9"/>
<text x="65.60" y="342.30" font-size="6.05" stroke="#333" stroke-width="0.08" text-anchor="middle" fill="#333" textLength="3.06" lengthAdjust="spacingAndGlyphs">1</text>
<line x1="77.23" y1="331.10" x2="77.23" y2="334.10" stroke="#1e1e1e" stroke-width="0.9"/>
<text x="77.23" y="342.30" font-size="6.05" stroke="#333" stroke-width="0.08" text-anchor="middle" fill="#333" textLength="3.06" lengthAdjust="spacingAndGlyphs">2</text>
<line x1="88.86" y1="331.10" x2="88.86" y2="334.10" stroke="#1e1e1e" stroke-width="0.9"/>
<text x="88.86" y="342.30" font-size="6.05" stroke="#333" stroke-width="0.08" text-anchor="middle" fill="#333" textLength="3.06" lengthAdjust="spacingAndGlyphs">3</text>
<line x1="100.49" y1="331.10" x2="100.49" y2="334.10" stroke="#1e1e1e" stroke-width="0.9"/>
<text x="100.49" y="342.30" font-size="6.05" stroke="#333" stroke-width="0.08" text-anchor="middle" fill="#333" textLength="3.06" lengthAdjust="spacingAndGlyphs">4</text>
<line x1="112.12" y1="331.10" x2="112.12" y2="334.10" stroke="#1e1e1e" stroke-width="0.9"/>
<text x="112.12" y="342.30" font-size="6.05" stroke="#333" stroke-width="0.08" text-anchor="middle" fill="#333" textLength="3.06" lengthAdjust="spacingAndGlyphs">5</text>
<line x1="123.75" y1="331.10" x2="123.75" y2="334.10" stroke="#1e1e1e" stroke-width="0.9"/>
<text x="123.75" y="342.30" font-size="6.05" stroke="#333" stroke-width="0.08" text-anchor="middle" fill="#333" textLength="3.06" lengthAdjust="spacingAndGlyphs">6</text>
<line x1="135.38" y1="331.10" x2="135.38" y2="334.10" stroke="#1e1e1e" stroke-width="0.9"/>
<text x="135.38" y="342.30" font-size="6.05" stroke="#333" stroke-width="0.08" text-anchor="middle" fill="#333" textLength="3.06" lengthAdjust="spacingAndGlyphs">7</text>
<line x1="147.01" y1="331.10" x2="147.01" y2="334.10" stroke="#1e1e1e" stroke-width="0.9"/>
<text x="147.01" y="342.30" font-size="6.05" stroke="#333" stroke-width="0.08" text-anchor="middle" fill="#333" textLength="3.06" lengthAdjust="spacingAndGlyphs">8</text>
<line x1="158.64" y1="331.10" x2="158.64" y2="334.10" stroke="#1e1e1e" stroke-width="0.9"/>
<text x="158.64" y="342.30" font-size="6.05" stroke="#333" stroke-width="0.08" text-anchor="middle" fill="#333" textLength="3.06" lengthAdjust="spacingAndGlyphs">9</text>
<line x1="170.27" y1="331.10" x2="170.27" y2="334.10" stroke="#1e1e1e" stroke-width="0.9"/>
<text x="170.27" y="342.30" font-size="6.05" stroke="#333" stroke-width="0.08" text-anchor="middle" fill="#333" textLength="6.12" lengthAdjust="spacingAndGlyphs">10</text>
<line x1="55.20" y1="331.10" x2="58.20" y2="331.10" stroke="#1e1e1e" stroke-width="0.9"/>
<text x="51.70" y="333.40" font-size="6.05" stroke="#333" stroke-width="0.08" text-anchor="end" fill="#333" textLength="3.06" lengthAdjust="spacingAndGlyphs">0</text>
<line x1="55.20" y1="315.00" x2="58.20" y2="315.00" stroke="#1e1e1e" stroke-width="0.9"/>
<text x="38.60" y="317.30" font-size="6.05" stroke="#333" stroke-width="0.08" text-anchor="end" fill="#333" textLength="7.65" lengthAdjust="spacingAndGlyphs">2.0</text>
<line x1="39.70" y1="314.40" x2="41.90" y2="316.60" stroke="#333" stroke-width="0.75"/>
<line x1="39.70" y1="316.60" x2="41.90" y2="314.40" stroke="#333" stroke-width="0.75"/>
<text x="43.10" y="317.30" font-size="6.05" stroke="#333" stroke-width="0.08" fill="#333" textLength="6.12" lengthAdjust="spacingAndGlyphs">10</text>
<text x="49.90" y="314.40" font-size="4.29" stroke="#333" stroke-width="0.08" fill="#333" textLength="2.17" lengthAdjust="spacingAndGlyphs">4</text>
<line x1="55.20" y1="298.90" x2="58.20" y2="298.90" stroke="#1e1e1e" stroke-width="0.9"/>
<text x="38.60" y="301.20" font-size="6.05" stroke="#333" stroke-width="0.08" text-anchor="end" fill="#333" textLength="7.65" lengthAdjust="spacingAndGlyphs">4.0</text>
<line x1="39.70" y1="298.30" x2="41.90" y2="300.50" stroke="#333" stroke-width="0.75"/>
<line x1="39.70" y1="300.50" x2="41.90" y2="298.30" stroke="#333" stroke-width="0.75"/>
<text x="43.10" y="301.20" font-size="6.05" stroke="#333" stroke-width="0.08" fill="#333" textLength="6.12" lengthAdjust="spacingAndGlyphs">10</text>
<text x="49.90" y="298.30" font-size="4.29" stroke="#333" stroke-width="0.08" fill="#333" textLength="2.17" lengthAdjust="spacingAndGlyphs">4</text>
<line x1="55.20" y1="282.80" x2="58.20" y2="282.80" stroke="#1e1e1e" stroke-width="0.9"/>
<text x="38.60" y="285.10" font-size="6.05" stroke="#333" stroke-width="0.08" text-anchor="end" fill="#333" textLength="7.65" lengthAdjust="spacingAndGlyphs">6.0</text>
<line x1="39.70" y1="282.20" x2="41.90" y2="284.40" stroke="#333" stroke-width="0.75"/>
<line x1="39.70" y1="284.40" x2="41.90" y2="282.20" stroke="#333" stroke-width="0.75"/>
<text x="43.10" y="285.10" font-size="6.05" stroke="#333" stroke-width="0.08" fill="#333" textLength="6.12" lengthAdjust="spacingAndGlyphs">10</text>
<text x="49.90" y="282.20" font-size="4.29" stroke="#333" stroke-width="0.08" fill="#333" textLength="2.17" lengthAdjust="spacingAndGlyphs">4</text>
<line x1="55.20" y1="266.70" x2="58.20" y2="266.70" stroke="#1e1e1e" stroke-width="0.9"/>
<text x="38.60" y="269.00" font-size="6.05" stroke="#333" stroke-width="0.08" text-anchor="end" fill="#333" textLength="7.65" lengthAdjust="spacingAndGlyphs">8.0</text>
<line x1="39.70" y1="266.10" x2="41.90" y2="268.30" stroke="#333" stroke-width="0.75"/>
<line x1="39.70" y1="268.30" x2="41.90" y2="266.10" stroke="#333" stroke-width="0.75"/>
<text x="43.10" y="269.00" font-size="6.05" stroke="#333" stroke-width="0.08" fill="#333" textLength="6.12" lengthAdjust="spacingAndGlyphs">10</text>
<text x="49.90" y="266.10" font-size="4.29" stroke="#333" stroke-width="0.08" fill="#333" textLength="2.17" lengthAdjust="spacingAndGlyphs">4</text>
<line x1="55.20" y1="250.60" x2="58.20" y2="250.60" stroke="#1e1e1e" stroke-width="0.9"/>
<text x="38.60" y="252.90" font-size="6.05" stroke="#333" stroke-width="0.08" text-anchor="end" fill="#333" textLength="7.65" lengthAdjust="spacingAndGlyphs">1.0</text>
<line x1="39.70" y1="250.00" x2="41.90" y2="252.20" stroke="#333" stroke-width="0.75"/>
<line x1="39.70" y1="252.20" x2="41.90" y2="250.00" stroke="#333" stroke-width="0.75"/>
<text x="43.10" y="252.90" font-size="6.05" stroke="#333" stroke-width="0.08" fill="#333" textLength="6.12" lengthAdjust="spacingAndGlyphs">10</text>
<text x="49.90" y="250.00" font-size="4.29" stroke="#333" stroke-width="0.08" fill="#333" textLength="2.17" lengthAdjust="spacingAndGlyphs">5</text>
<text x="118.60" y="243.10" font-size="8.58" stroke="#222" stroke-width="0.04" text-anchor="middle" fill="#222" textLength="15.17" lengthAdjust="spacingAndGlyphs">53M</text>
<text x="118.40" y="353.20" font-size="7.8" stroke="#1a1a1a" stroke-width="0.3" text-anchor="middle" fill="#1a1a1a" textLength="11.9" lengthAdjust="spacingAndGlyphs">Rank</text>
<text x="0" y="0" font-size="7.7" text-anchor="middle" fill="#1a1a1a" stroke="#1a1a1a" stroke-width="0.3" textLength="36" lengthAdjust="spacingAndGlyphs" transform="translate(26.4,289.50) rotate(-90)">TCR abundance</text>
<polyline points="65.60,258.00 77.23,314.50 88.86,317.50 100.49,321.25 112.12,324.50 123.75,326.25 135.38,326.75 147.01,327.00 158.64,327.50 170.27,328.00" fill="none" stroke="#284583" stroke-width="1.3" stroke-linejoin="round"/>
<polyline points="65.60,288.75 77.23,316.25 88.86,318.00 100.49,320.00 112.12,321.25 123.75,322.50 135.38,322.50 147.01,324.25 158.64,324.25 170.27,324.25" fill="none" stroke="#5aae38" stroke-width="1.3" stroke-linejoin="round"/>
<polyline points="65.60,296.75 77.23,314.50 88.86,317.50 100.49,318.25 112.12,321.25 123.75,323.75 135.38,325.75 147.01,326.75 158.64,327.00 170.27,327.50" fill="none" stroke="#aa0e38" stroke-width="1.3" stroke-linejoin="round"/>
<polyline points="65.60,313.75 77.23,317.50 88.86,318.00 100.49,320.50 112.12,323.00 123.75,325.00 135.38,326.25 147.01,327.00 158.64,327.50 170.27,328.00" fill="none" stroke="#582676" stroke-width="1.3" stroke-linejoin="round"/>
<line x1="58.20" y1="390.60" x2="58.20" y2="473.80" stroke="#1e1e1e" stroke-width="1.2"/>
<line x1="57.60" y1="473.20" x2="178.90" y2="473.20" stroke="#1e1e1e" stroke-width="1.2"/>
<line x1="65.60" y1="473.20" x2="65.60" y2="476.20" stroke="#1e1e1e" stroke-width="0.9"/>
<text x="65.60" y="484.40" font-size="6.05" stroke="#333" stroke-width="0.08" text-anchor="middle" fill="#333" textLength="3.06" lengthAdjust="spacingAndGlyphs">1</text>
<line x1="77.23" y1="473.20" x2="77.23" y2="476.20" stroke="#1e1e1e" stroke-width="0.9"/>
<text x="77.23" y="484.40" font-size="6.05" stroke="#333" stroke-width="0.08" text-anchor="middle" fill="#333" textLength="3.06" lengthAdjust="spacingAndGlyphs">2</text>
<line x1="88.86" y1="473.20" x2="88.86" y2="476.20" stroke="#1e1e1e" stroke-width="0.9"/>
<text x="88.86" y="484.40" font-size="6.05" stroke="#333" stroke-width="0.08" text-anchor="middle" fill="#333" textLength="3.06" lengthAdjust="spacingAndGlyphs">3</text>
<line x1="100.49" y1="473.20" x2="100.49" y2="476.20" stroke="#1e1e1e" stroke-width="0.9"/>
<text x="100.49" y="484.40" font-size="6.05" stroke="#333" stroke-width="0.08" text-anchor="middle" fill="#333" textLength="3.06" lengthAdjust="spacingAndGlyphs">4</text>
<line x1="112.12" y1="473.20" x2="112.12" y2="476.20" stroke="#1e1e1e" stroke-width="0.9"/>
<text x="112.12" y="484.40" font-size="6.05" stroke="#333" stroke-width="0.08" text-anchor="middle" fill="#333" textLength="3.06" lengthAdjust="spacingAndGlyphs">5</text>
<line x1="123.75" y1="473.20" x2="123.75" y2="476.20" stroke="#1e1e1e" stroke-width="0.9"/>
<text x="123.75" y="484.40" font-size="6.05" stroke="#333" stroke-width="0.08" text-anchor="middle" fill="#333" textLength="3.06" lengthAdjust="spacingAndGlyphs">6</text>
<line x1="135.38" y1="473.20" x2="135.38" y2="476.20" stroke="#1e1e1e" stroke-width="0.9"/>
<text x="135.38" y="484.40" font-size="6.05" stroke="#333" stroke-width="0.08" text-anchor="middle" fill="#333" textLength="3.06" lengthAdjust="spacingAndGlyphs">7</text>
<line x1="147.01" y1="473.20" x2="147.01" y2="476.20" stroke="#1e1e1e" stroke-width="0.9"/>
<text x="147.01" y="484.40" font-size="6.05" stroke="#333" stroke-width="0.08" text-anchor="middle" fill="#333" textLength="3.06" lengthAdjust="spacingAndGlyphs">8</text>
<line x1="158.64" y1="473.20" x2="158.64" y2="476.20" stroke="#1e1e1e" stroke-width="0.9"/>
<text x="158.64" y="484.40" font-size="6.05" stroke="#333" stroke-width="0.08" text-anchor="middle" fill="#333" textLength="3.06" lengthAdjust="spacingAndGlyphs">9</text>
<line x1="170.27" y1="473.20" x2="170.27" y2="476.20" stroke="#1e1e1e" stroke-width="0.9"/>
<text x="170.27" y="484.40" font-size="6.05" stroke="#333" stroke-width="0.08" text-anchor="middle" fill="#333" textLength="6.12" lengthAdjust="spacingAndGlyphs">10</text>
<line x1="55.20" y1="473.20" x2="58.20" y2="473.20" stroke="#1e1e1e" stroke-width="0.9"/>
<text x="51.70" y="475.50" font-size="6.05" stroke="#333" stroke-width="0.08" text-anchor="end" fill="#333" textLength="3.06" lengthAdjust="spacingAndGlyphs">0</text>
<line x1="55.20" y1="457.20" x2="58.20" y2="457.20" stroke="#1e1e1e" stroke-width="0.9"/>
<text x="38.60" y="459.50" font-size="6.05" stroke="#333" stroke-width="0.08" text-anchor="end" fill="#333" textLength="7.65" lengthAdjust="spacingAndGlyphs">2.0</text>
<line x1="39.70" y1="456.60" x2="41.90" y2="458.80" stroke="#333" stroke-width="0.75"/>
<line x1="39.70" y1="458.80" x2="41.90" y2="456.60" stroke="#333" stroke-width="0.75"/>
<text x="43.10" y="459.50" font-size="6.05" stroke="#333" stroke-width="0.08" fill="#333" textLength="6.12" lengthAdjust="spacingAndGlyphs">10</text>
<text x="49.90" y="456.60" font-size="4.29" stroke="#333" stroke-width="0.08" fill="#333" textLength="2.17" lengthAdjust="spacingAndGlyphs">4</text>
<line x1="55.20" y1="441.20" x2="58.20" y2="441.20" stroke="#1e1e1e" stroke-width="0.9"/>
<text x="38.60" y="443.50" font-size="6.05" stroke="#333" stroke-width="0.08" text-anchor="end" fill="#333" textLength="7.65" lengthAdjust="spacingAndGlyphs">4.0</text>
<line x1="39.70" y1="440.60" x2="41.90" y2="442.80" stroke="#333" stroke-width="0.75"/>
<line x1="39.70" y1="442.80" x2="41.90" y2="440.60" stroke="#333" stroke-width="0.75"/>
<text x="43.10" y="443.50" font-size="6.05" stroke="#333" stroke-width="0.08" fill="#333" textLength="6.12" lengthAdjust="spacingAndGlyphs">10</text>
<text x="49.90" y="440.60" font-size="4.29" stroke="#333" stroke-width="0.08" fill="#333" textLength="2.17" lengthAdjust="spacingAndGlyphs">4</text>
<line x1="55.20" y1="425.20" x2="58.20" y2="425.20" stroke="#1e1e1e" stroke-width="0.9"/>
<text x="38.60" y="427.50" font-size="6.05" stroke="#333" stroke-width="0.08" text-anchor="end" fill="#333" textLength="7.65" lengthAdjust="spacingAndGlyphs">6.0</text>
<line x1="39.70" y1="424.60" x2="41.90" y2="426.80" stroke="#333" stroke-width="0.75"/>
<line x1="39.70" y1="426.80" x2="41.90" y2="424.60" stroke="#333" stroke-width="0.75"/>
<text x="43.10" y="427.50" font-size="6.05" stroke="#333" stroke-width="0.08" fill="#333" textLength="6.12" lengthAdjust="spacingAndGlyphs">10</text>
<text x="49.90" y="424.60" font-size="4.29" stroke="#333" stroke-width="0.08" fill="#333" textLength="2.17" lengthAdjust="spacingAndGlyphs">4</text>
<line x1="55.20" y1="409.20" x2="58.20" y2="409.20" stroke="#1e1e1e" stroke-width="0.9"/>
<text x="38.60" y="411.50" font-size="6.05" stroke="#333" stroke-width="0.08" text-anchor="end" fill="#333" textLength="7.65" lengthAdjust="spacingAndGlyphs">8.0</text>
<line x1="39.70" y1="408.60" x2="41.90" y2="410.80" stroke="#333" stroke-width="0.75"/>
<line x1="39.70" y1="410.80" x2="41.90" y2="408.60" stroke="#333" stroke-width="0.75"/>
<text x="43.10" y="411.50" font-size="6.05" stroke="#333" stroke-width="0.08" fill="#333" textLength="6.12" lengthAdjust="spacingAndGlyphs">10</text>
<text x="49.90" y="408.60" font-size="4.29" stroke="#333" stroke-width="0.08" fill="#333" textLength="2.17" lengthAdjust="spacingAndGlyphs">4</text>
<line x1="55.20" y1="393.20" x2="58.20" y2="393.20" stroke="#1e1e1e" stroke-width="0.9"/>
<text x="38.60" y="395.50" font-size="6.05" stroke="#333" stroke-width="0.08" text-anchor="end" fill="#333" textLength="7.65" lengthAdjust="spacingAndGlyphs">1.0</text>
<line x1="39.70" y1="392.60" x2="41.90" y2="394.80" stroke="#333" stroke-width="0.75"/>
<line x1="39.70" y1="394.80" x2="41.90" y2="392.60" stroke="#333" stroke-width="0.75"/>
<text x="43.10" y="395.50" font-size="6.05" stroke="#333" stroke-width="0.08" fill="#333" textLength="6.12" lengthAdjust="spacingAndGlyphs">10</text>
<text x="49.90" y="392.60" font-size="4.29" stroke="#333" stroke-width="0.08" fill="#333" textLength="2.17" lengthAdjust="spacingAndGlyphs">5</text>
<text x="118.60" y="385.20" font-size="8.58" stroke="#222" stroke-width="0.04" text-anchor="middle" fill="#222" textLength="15.17" lengthAdjust="spacingAndGlyphs">28M</text>
<text x="118.40" y="495.30" font-size="7.8" stroke="#1a1a1a" stroke-width="0.3" text-anchor="middle" fill="#1a1a1a" textLength="11.9" lengthAdjust="spacingAndGlyphs">Rank</text>
<text x="0" y="0" font-size="7.7" text-anchor="middle" fill="#1a1a1a" stroke="#1a1a1a" stroke-width="0.3" textLength="36" lengthAdjust="spacingAndGlyphs" transform="translate(26.4,431.60) rotate(-90)">TCR abundance</text>
<polyline points="65.60,427.50 77.23,455.50 88.86,463.00 100.49,464.25 112.12,467.00 123.75,467.50 135.38,468.25 147.01,468.75 158.64,469.25 170.27,469.50" fill="none" stroke="#284583" stroke-width="1.3" stroke-linejoin="round"/>
<polyline points="65.60,400.50 77.23,455.50 88.86,466.75 100.49,466.75 112.12,467.50 123.75,469.50 135.38,470.00 147.01,470.50 158.64,470.75 170.27,471.25" fill="none" stroke="#5aae38" stroke-width="1.3" stroke-linejoin="round"/>
<polyline points="65.60,457.00 77.23,465.00 88.86,466.75 100.49,467.25 112.12,470.00 123.75,470.25 135.38,470.50 147.01,470.75 158.64,471.00 170.27,471.25" fill="none" stroke="#aa0e38" stroke-width="1.3" stroke-linejoin="round"/>
<polyline points="65.60,464.25 77.23,469.25 88.86,469.50 100.49,470.25 112.12,471.00 123.75,471.25 135.38,471.50 147.01,471.75 158.64,471.90 170.27,472.00" fill="none" stroke="#582676" stroke-width="1.3" stroke-linejoin="round"/>
<line x1="58.20" y1="533.10" x2="58.20" y2="616.30" stroke="#1e1e1e" stroke-width="1.2"/>
<line x1="57.60" y1="615.70" x2="178.90" y2="615.70" stroke="#1e1e1e" stroke-width="1.2"/>
<line x1="65.60" y1="615.70" x2="65.60" y2="618.70" stroke="#1e1e1e" stroke-width="0.9"/>
<text x="65.60" y="626.90" font-size="6.05" stroke="#333" stroke-width="0.08" text-anchor="middle" fill="#333" textLength="3.06" lengthAdjust="spacingAndGlyphs">1</text>
<line x1="77.23" y1="615.70" x2="77.23" y2="618.70" stroke="#1e1e1e" stroke-width="0.9"/>
<text x="77.23" y="626.90" font-size="6.05" stroke="#333" stroke-width="0.08" text-anchor="middle" fill="#333" textLength="3.06" lengthAdjust="spacingAndGlyphs">2</text>
<line x1="88.86" y1="615.70" x2="88.86" y2="618.70" stroke="#1e1e1e" stroke-width="0.9"/>
<text x="88.86" y="626.90" font-size="6.05" stroke="#333" stroke-width="0.08" text-anchor="middle" fill="#333" textLength="3.06" lengthAdjust="spacingAndGlyphs">3</text>
<line x1="100.49" y1="615.70" x2="100.49" y2="618.70" stroke="#1e1e1e" stroke-width="0.9"/>
<text x="100.49" y="626.90" font-size="6.05" stroke="#333" stroke-width="0.08" text-anchor="middle" fill="#333" textLength="3.06" lengthAdjust="spacingAndGlyphs">4</text>
<line x1="112.12" y1="615.70" x2="112.12" y2="618.70" stroke="#1e1e1e" stroke-width="0.9"/>
<text x="112.12" y="626.90" font-size="6.05" stroke="#333" stroke-width="0.08" text-anchor="middle" fill="#333" textLength="3.06" lengthAdjust="spacingAndGlyphs">5</text>
<line x1="123.75" y1="615.70" x2="123.75" y2="618.70" stroke="#1e1e1e" stroke-width="0.9"/>
<text x="123.75" y="626.90" font-size="6.05" stroke="#333" stroke-width="0.08" text-anchor="middle" fill="#333" textLength="3.06" lengthAdjust="spacingAndGlyphs">6</text>
<line x1="135.38" y1="615.70" x2="135.38" y2="618.70" stroke="#1e1e1e" stroke-width="0.9"/>
<text x="135.38" y="626.90" font-size="6.05" stroke="#333" stroke-width="0.08" text-anchor="middle" fill="#333" textLength="3.06" lengthAdjust="spacingAndGlyphs">7</text>
<line x1="147.01" y1="615.70" x2="147.01" y2="618.70" stroke="#1e1e1e" stroke-width="0.9"/>
<text x="147.01" y="626.90" font-size="6.05" stroke="#333" stroke-width="0.08" text-anchor="middle" fill="#333" textLength="3.06" lengthAdjust="spacingAndGlyphs">8</text>
<line x1="158.64" y1="615.70" x2="158.64" y2="618.70" stroke="#1e1e1e" stroke-width="0.9"/>
<text x="158.64" y="626.90" font-size="6.05" stroke="#333" stroke-width="0.08" text-anchor="middle" fill="#333" textLength="3.06" lengthAdjust="spacingAndGlyphs">9</text>
<line x1="170.27" y1="615.70" x2="170.27" y2="618.70" stroke="#1e1e1e" stroke-width="0.9"/>
<text x="170.27" y="626.90" font-size="6.05" stroke="#333" stroke-width="0.08" text-anchor="middle" fill="#333" textLength="6.12" lengthAdjust="spacingAndGlyphs">10</text>
<line x1="55.20" y1="615.70" x2="58.20" y2="615.70" stroke="#1e1e1e" stroke-width="0.9"/>
<text x="51.70" y="618.00" font-size="6.05" stroke="#333" stroke-width="0.08" text-anchor="end" fill="#333" textLength="3.06" lengthAdjust="spacingAndGlyphs">0</text>
<line x1="55.20" y1="588.95" x2="58.20" y2="588.95" stroke="#1e1e1e" stroke-width="0.9"/>
<text x="38.60" y="591.25" font-size="6.05" stroke="#333" stroke-width="0.08" text-anchor="end" fill="#333" textLength="7.65" lengthAdjust="spacingAndGlyphs">2.0</text>
<line x1="39.70" y1="588.35" x2="41.90" y2="590.55" stroke="#333" stroke-width="0.75"/>
<line x1="39.70" y1="590.55" x2="41.90" y2="588.35" stroke="#333" stroke-width="0.75"/>
<text x="43.10" y="591.25" font-size="6.05" stroke="#333" stroke-width="0.08" fill="#333" textLength="6.12" lengthAdjust="spacingAndGlyphs">10</text>
<text x="49.90" y="588.35" font-size="4.29" stroke="#333" stroke-width="0.08" fill="#333" textLength="2.17" lengthAdjust="spacingAndGlyphs">4</text>
<line x1="55.20" y1="562.20" x2="58.20" y2="562.20" stroke="#1e1e1e" stroke-width="0.9"/>
<text x="38.60" y="564.50" font-size="6.05" stroke="#333" stroke-width="0.08" text-anchor="end" fill="#333" textLength="7.65" lengthAdjust="spacingAndGlyphs">4.0</text>
<line x1="39.70" y1="561.60" x2="41.90" y2="563.80" stroke="#333" stroke-width="0.75"/>
<line x1="39.70" y1="563.80" x2="41.90" y2="561.60" stroke="#333" stroke-width="0.75"/>
<text x="43.10" y="564.50" font-size="6.05" stroke="#333" stroke-width="0.08" fill="#333" textLength="6.12" lengthAdjust="spacingAndGlyphs">10</text>
<text x="49.90" y="561.60" font-size="4.29" stroke="#333" stroke-width="0.08" fill="#333" textLength="2.17" lengthAdjust="spacingAndGlyphs">4</text>
<line x1="55.20" y1="535.45" x2="58.20" y2="535.45" stroke="#1e1e1e" stroke-width="0.9"/>
<text x="38.60" y="537.75" font-size="6.05" stroke="#333" stroke-width="0.08" text-anchor="end" fill="#333" textLength="7.65" lengthAdjust="spacingAndGlyphs">6.0</text>
<line x1="39.70" y1="534.85" x2="41.90" y2="537.05" stroke="#333" stroke-width="0.75"/>
<line x1="39.70" y1="537.05" x2="41.90" y2="534.85" stroke="#333" stroke-width="0.75"/>
<text x="43.10" y="537.75" font-size="6.05" stroke="#333" stroke-width="0.08" fill="#333" textLength="6.12" lengthAdjust="spacingAndGlyphs">10</text>
<text x="49.90" y="534.85" font-size="4.29" stroke="#333" stroke-width="0.08" fill="#333" textLength="2.17" lengthAdjust="spacingAndGlyphs">4</text>
<text x="118.60" y="527.70" font-size="8.58" stroke="#222" stroke-width="0.04" text-anchor="middle" fill="#222" textLength="15.17" lengthAdjust="spacingAndGlyphs">47M</text>
<text x="118.40" y="637.80" font-size="7.8" stroke="#1a1a1a" stroke-width="0.3" text-anchor="middle" fill="#1a1a1a" textLength="11.9" lengthAdjust="spacingAndGlyphs">Rank</text>
<text x="0" y="0" font-size="7.7" text-anchor="middle" fill="#1a1a1a" stroke="#1a1a1a" stroke-width="0.3" textLength="36" lengthAdjust="spacingAndGlyphs" transform="translate(26.4,574.10) rotate(-90)">TCR abundance</text>
<polyline points="65.60,550.40 77.23,561.60 88.86,562.40 100.49,569.50 112.12,587.10 123.75,587.10 135.38,591.25 147.01,593.25 158.64,595.50 170.27,609.50" fill="none" stroke="#284583" stroke-width="1.3" stroke-linejoin="round"/>
<polyline points="65.60,547.00 77.23,573.50 88.86,584.10 100.49,605.90 112.12,606.90 123.75,609.25 135.38,610.00 147.01,611.00 158.64,611.50 170.27,611.75" fill="none" stroke="#5aae38" stroke-width="1.3" stroke-linejoin="round"/>
<polyline points="65.60,542.50 77.23,555.60 88.86,584.10 100.49,588.80 112.12,591.90 123.75,596.25 135.38,607.00 147.01,608.75 158.64,609.50 170.27,610.00" fill="none" stroke="#aa0e38" stroke-width="1.3" stroke-linejoin="round"/>
<polyline points="65.60,606.20 77.23,608.90 88.86,609.90 100.49,610.50 112.12,610.70 123.75,611.00 135.38,612.50 147.01,612.50 158.64,612.50 170.27,612.50" fill="none" stroke="#582676" stroke-width="1.3" stroke-linejoin="round"/>
<rect x="354.00" y="104.30" width="32.85" height="11.40" fill="#f8e993" stroke="none" stroke-width="1.0"/>
<rect x="386.25" y="104.30" width="32.85" height="11.40" fill="#d04a1e" stroke="none" stroke-width="1.0"/>
<rect x="418.50" y="104.30" width="32.85" height="11.40" fill="#d04b1e" stroke="none" stroke-width="1.0"/>
<rect x="450.75" y="104.30" width="32.25" height="11.40" fill="#c93a1e" stroke="none" stroke-width="1.0"/>
<rect x="354.00" y="115.10" width="32.85" height="11.40" fill="#f6e186" stroke="none" stroke-width="1.0"/>
<rect x="386.25" y="115.10" width="32.85" height="11.40" fill="#f9ea95" stroke="none" stroke-width="1.0"/>
<rect x="418.50" y="115.10" width="32.85" height="11.40" fill="#e0951f" stroke="none" stroke-width="1.0"/>
<rect x="450.75" y="115.10" width="32.25" height="11.40" fill="#d97a1c" stroke="none" stroke-width="1.0"/>
<rect x="354.00" y="125.90" width="32.85" height="11.40" fill="#faef9e" stroke="none" stroke-width="1.0"/>
<rect x="386.25" y="125.90" width="32.85" height="11.40" fill="#f0ce6a" stroke="none" stroke-width="1.0"/>
<rect x="418.50" y="125.90" width="32.85" height="11.40" fill="#f2d372" stroke="none" stroke-width="1.0"/>
<rect x="450.75" y="125.90" width="32.25" height="11.40" fill="#e4a12e" stroke="none" stroke-width="1.0"/>
<rect x="354.00" y="136.70" width="32.85" height="11.40" fill="#faee9b" stroke="none" stroke-width="1.0"/>
<rect x="386.25" y="136.70" width="32.85" height="11.40" fill="#f6e085" stroke="none" stroke-width="1.0"/>
<rect x="418.50" y="136.70" width="32.85" height="11.40" fill="#f3d97a" stroke="none" stroke-width="1.0"/>
<rect x="450.75" y="136.70" width="32.25" height="11.40" fill="#efcb66" stroke="none" stroke-width="1.0"/>
<rect x="354.00" y="147.50" width="32.85" height="11.40" fill="#f9e994" stroke="none" stroke-width="1.0"/>
<rect x="386.25" y="147.50" width="32.85" height="11.40" fill="#f9ec97" stroke="none" stroke-width="1.0"/>
<rect x="418.50" y="147.50" width="32.85" height="11.40" fill="#f1d271" stroke="none" stroke-width="1.0"/>
<rect x="450.75" y="147.50" width="32.25" height="11.40" fill="#f2d372" stroke="none" stroke-width="1.0"/>
<rect x="354.00" y="158.30" width="32.85" height="11.40" fill="#ffffff" stroke="none" stroke-width="1.0"/>
<rect x="386.25" y="158.30" width="32.85" height="11.40" fill="#f9ea94" stroke="none" stroke-width="1.0"/>
<rect x="418.50" y="158.30" width="32.85" height="11.40" fill="#f9ed99" stroke="none" stroke-width="1.0"/>
<rect x="450.75" y="158.30" width="32.25" height="11.40" fill="#f3d677" stroke="none" stroke-width="1.0"/>
<rect x="354.00" y="169.10" width="32.85" height="11.40" fill="#f9eb97" stroke="none" stroke-width="1.0"/>
<rect x="386.25" y="169.10" width="32.85" height="11.40" fill="#f9ec98" stroke="none" stroke-width="1.0"/>
<rect x="418.50" y="169.10" width="32.85" height="11.40" fill="#f7e48b" stroke="none" stroke-width="1.0"/>
<rect x="450.75" y="169.10" width="32.25" height="11.40" fill="#f6df84" stroke="none" stroke-width="1.0"/>
<rect x="354.00" y="179.90" width="32.85" height="11.40" fill="#f5de82" stroke="none" stroke-width="1.0"/>
<rect x="386.25" y="179.90" width="32.85" height="11.40" fill="#f8e78f" stroke="none" stroke-width="1.0"/>
<rect x="418.50" y="179.90" width="32.85" height="11.40" fill="#f6e288" stroke="none" stroke-width="1.0"/>
<rect x="450.75" y="179.90" width="32.25" height="11.40" fill="#f6e187" stroke="none" stroke-width="1.0"/>
<rect x="354.00" y="190.70" width="32.85" height="11.40" fill="#f9ec99" stroke="none" stroke-width="1.0"/>
<rect x="386.25" y="190.70" width="32.85" height="11.40" fill="#faee9c" stroke="none" stroke-width="1.0"/>
<rect x="418.50" y="190.70" width="32.85" height="11.40" fill="#f6e085" stroke="none" stroke-width="1.0"/>
<rect x="450.75" y="190.70" width="32.25" height="11.40" fill="#f7e58d" stroke="none" stroke-width="1.0"/>
<rect x="354.00" y="201.50" width="32.85" height="10.80" fill="#ffffff" stroke="none" stroke-width="1.0"/>
<rect x="386.25" y="201.50" width="32.85" height="10.80" fill="#ffffff" stroke="none" stroke-width="1.0"/>
<rect x="418.50" y="201.50" width="32.85" height="10.80" fill="#ffffff" stroke="none" stroke-width="1.0"/>
<rect x="450.75" y="201.50" width="32.25" height="10.80" fill="#f9ea94" stroke="none" stroke-width="1.0"/>
<rect x="353.50" y="104.40" width="130.00" height="107.80" fill="none" stroke="#262626" stroke-width="1.0"/>
<rect x="273.50" y="104.50" width="66.80" height="9.30" fill="none" stroke="#666666" stroke-width="0.9"/>
<text x="220.40" y="111.05" font-size="5.83" stroke="#222" stroke-width="0.08" fill="#222" textLength="23.86" lengthAdjust="spacingAndGlyphs">TCRBV06</text>
<text x="275.80" y="111.05" font-size="5.83" stroke="#222" stroke-width="0.08" fill="#222" textLength="57.72" lengthAdjust="spacingAndGlyphs">CASSKVTGTGNYGYTF</text>
<text x="369.93" y="111.15" font-size="6.105" stroke="#222" stroke-width="0.03" text-anchor="middle" fill="#222" textLength="13.48" lengthAdjust="spacingAndGlyphs">1,511</text>
<text x="402.18" y="111.15" font-size="6.105" stroke="#222" stroke-width="0.03" text-anchor="middle" fill="#222" textLength="20.06" lengthAdjust="spacingAndGlyphs">130,547</text>
<text x="434.43" y="111.15" font-size="6.105" stroke="#222" stroke-width="0.03" text-anchor="middle" fill="#222" textLength="20.06" lengthAdjust="spacingAndGlyphs">125,632</text>
<text x="466.68" y="111.15" font-size="6.105" stroke="#222" stroke-width="0.03" text-anchor="middle" fill="#222" textLength="20.06" lengthAdjust="spacingAndGlyphs">214,687</text>
<text x="487.20" y="111.15" font-size="6.05" stroke="#333" stroke-width="0.08" fill="#333" textLength="3.06" lengthAdjust="spacingAndGlyphs">1</text>
<text x="220.40" y="121.91" font-size="5.83" stroke="#222" stroke-width="0.08" fill="#222" textLength="23.86" lengthAdjust="spacingAndGlyphs">TCRBV12</text>
<text x="275.80" y="121.91" font-size="5.83" stroke="#222" stroke-width="0.08" fill="#222" textLength="44.47" lengthAdjust="spacingAndGlyphs">CASSLALNTEAFF</text>
<text x="369.93" y="122.01" font-size="6.105" stroke="#222" stroke-width="0.03" text-anchor="middle" fill="#222" textLength="13.89" lengthAdjust="spacingAndGlyphs">3,926</text>
<text x="402.18" y="122.01" font-size="6.105" stroke="#222" stroke-width="0.03" text-anchor="middle" fill="#222" textLength="13.89" lengthAdjust="spacingAndGlyphs">1,219</text>
<text x="434.43" y="122.01" font-size="6.105" stroke="#222" stroke-width="0.03" text-anchor="middle" fill="#222" textLength="16.98" lengthAdjust="spacingAndGlyphs">22,513</text>
<text x="466.68" y="122.01" font-size="6.105" stroke="#222" stroke-width="0.03" text-anchor="middle" fill="#222" textLength="16.98" lengthAdjust="spacingAndGlyphs">30,985</text>
<text x="487.20" y="122.01" font-size="6.05" stroke="#333" stroke-width="0.08" fill="#333" textLength="3.06" lengthAdjust="spacingAndGlyphs">2</text>
<rect x="273.50" y="126.22" width="66.80" height="9.30" fill="none" stroke="#666666" stroke-width="0.9"/>
<text x="220.40" y="132.77" font-size="5.83" stroke="#222" stroke-width="0.08" fill="#222" textLength="39.48" lengthAdjust="spacingAndGlyphs">TCRBV06-05*01</text>
<text x="275.80" y="132.77" font-size="5.83" stroke="#222" stroke-width="0.08" fill="#222" textLength="51.24" lengthAdjust="spacingAndGlyphs">CASSPSTGTIYGYTF</text>
<text x="369.93" y="132.87" font-size="6.105" stroke="#222" stroke-width="0.03" text-anchor="middle" fill="#222" textLength="8.85" lengthAdjust="spacingAndGlyphs">118</text>
<text x="402.18" y="132.87" font-size="6.105" stroke="#222" stroke-width="0.03" text-anchor="middle" fill="#222" textLength="13.89" lengthAdjust="spacingAndGlyphs">8,254</text>
<text x="434.43" y="132.87" font-size="6.105" stroke="#222" stroke-width="0.03" text-anchor="middle" fill="#222" textLength="13.89" lengthAdjust="spacingAndGlyphs">7,241</text>
<text x="466.68" y="132.87" font-size="6.105" stroke="#222" stroke-width="0.03" text-anchor="middle" fill="#222" textLength="16.98" lengthAdjust="spacingAndGlyphs">19,561</text>
<text x="487.20" y="132.87" font-size="6.05" stroke="#333" stroke-width="0.08" fill="#333" textLength="3.06" lengthAdjust="spacingAndGlyphs">3</text>
<rect x="273.50" y="137.08" width="66.80" height="9.30" fill="none" stroke="#666666" stroke-width="0.9"/>
<text x="220.40" y="143.63" font-size="5.83" stroke="#222" stroke-width="0.08" fill="#222" textLength="23.86" lengthAdjust="spacingAndGlyphs">TCRBV06</text>
<text x="275.80" y="143.63" font-size="5.83" stroke="#222" stroke-width="0.08" fill="#222" textLength="55.85" lengthAdjust="spacingAndGlyphs">CASSPITGQGAYGYTF</text>
<text x="369.93" y="143.73" font-size="6.105" stroke="#222" stroke-width="0.03" text-anchor="middle" fill="#222" textLength="9.26" lengthAdjust="spacingAndGlyphs">428</text>
<text x="402.18" y="143.73" font-size="6.105" stroke="#222" stroke-width="0.03" text-anchor="middle" fill="#222" textLength="13.89" lengthAdjust="spacingAndGlyphs">4,163</text>
<text x="434.43" y="143.73" font-size="6.105" stroke="#222" stroke-width="0.03" text-anchor="middle" fill="#222" textLength="13.89" lengthAdjust="spacingAndGlyphs">6,263</text>
<text x="466.68" y="143.73" font-size="6.105" stroke="#222" stroke-width="0.03" text-anchor="middle" fill="#222" textLength="13.89" lengthAdjust="spacingAndGlyphs">8,800</text>
<text x="487.20" y="143.73" font-size="6.05" stroke="#333" stroke-width="0.08" fill="#333" textLength="3.06" lengthAdjust="spacingAndGlyphs">4</text>
<text x="220.40" y="154.49" font-size="5.83" stroke="#222" stroke-width="0.08" fill="#222" textLength="23.86" lengthAdjust="spacingAndGlyphs">TCRBV06</text>
<text x="275.80" y="154.49" font-size="5.83" stroke="#222" stroke-width="0.08" fill="#222" textLength="44.37" lengthAdjust="spacingAndGlyphs">CATFEEPNEKLFF</text>
<text x="369.93" y="154.59" font-size="6.105" stroke="#222" stroke-width="0.03" text-anchor="middle" fill="#222" textLength="13.89" lengthAdjust="spacingAndGlyphs">1,457</text>
<text x="402.18" y="154.59" font-size="6.105" stroke="#222" stroke-width="0.03" text-anchor="middle" fill="#222" textLength="9.26" lengthAdjust="spacingAndGlyphs">834</text>
<text x="434.43" y="154.59" font-size="6.105" stroke="#222" stroke-width="0.03" text-anchor="middle" fill="#222" textLength="13.89" lengthAdjust="spacingAndGlyphs">7,426</text>
<text x="466.68" y="154.59" font-size="6.105" stroke="#222" stroke-width="0.03" text-anchor="middle" fill="#222" textLength="13.89" lengthAdjust="spacingAndGlyphs">7,207</text>
<text x="487.20" y="154.59" font-size="6.05" stroke="#333" stroke-width="0.08" fill="#333" textLength="3.06" lengthAdjust="spacingAndGlyphs">5</text>
<rect x="273.50" y="158.80" width="66.80" height="9.30" fill="none" stroke="#666666" stroke-width="0.9"/>
<text x="220.40" y="165.35" font-size="5.83" stroke="#222" stroke-width="0.08" fill="#222" textLength="39.08" lengthAdjust="spacingAndGlyphs">TCRBV11-02*02</text>
<text x="275.80" y="165.35" font-size="5.83" stroke="#222" stroke-width="0.08" fill="#222" textLength="53.4" lengthAdjust="spacingAndGlyphs">CASSPWAYATDTQYF</text>
<text x="369.93" y="165.45" font-size="6.105" stroke="#222" stroke-width="0.03" text-anchor="middle" fill="#222" textLength="6.17" lengthAdjust="spacingAndGlyphs">29</text>
<text x="402.18" y="165.45" font-size="6.105" stroke="#222" stroke-width="0.03" text-anchor="middle" fill="#222" textLength="13.89" lengthAdjust="spacingAndGlyphs">1,284</text>
<text x="434.43" y="165.45" font-size="6.105" stroke="#222" stroke-width="0.03" text-anchor="middle" fill="#222" textLength="9.26" lengthAdjust="spacingAndGlyphs">619</text>
<text x="466.68" y="165.45" font-size="6.105" stroke="#222" stroke-width="0.03" text-anchor="middle" fill="#222" textLength="13.89" lengthAdjust="spacingAndGlyphs">6,652</text>
<text x="487.20" y="165.45" font-size="6.05" stroke="#333" stroke-width="0.08" fill="#333" textLength="3.06" lengthAdjust="spacingAndGlyphs">6</text>
<text x="220.40" y="176.21" font-size="5.83" stroke="#222" stroke-width="0.08" fill="#222" textLength="39.48" lengthAdjust="spacingAndGlyphs">TCRBV06-05*01</text>
<text x="275.80" y="176.21" font-size="5.83" stroke="#222" stroke-width="0.08" fill="#222" textLength="53.5" lengthAdjust="spacingAndGlyphs">CASSYADRGAGELFF</text>
<text x="369.93" y="176.31" font-size="6.105" stroke="#222" stroke-width="0.03" text-anchor="middle" fill="#222" textLength="9.26" lengthAdjust="spacingAndGlyphs">937</text>
<text x="402.18" y="176.31" font-size="6.105" stroke="#222" stroke-width="0.03" text-anchor="middle" fill="#222" textLength="9.26" lengthAdjust="spacingAndGlyphs">794</text>
<text x="434.43" y="176.31" font-size="6.105" stroke="#222" stroke-width="0.03" text-anchor="middle" fill="#222" textLength="13.89" lengthAdjust="spacingAndGlyphs">3,109</text>
<text x="466.68" y="176.31" font-size="6.105" stroke="#222" stroke-width="0.03" text-anchor="middle" fill="#222" textLength="13.89" lengthAdjust="spacingAndGlyphs">4,465</text>
<text x="487.20" y="176.31" font-size="6.05" stroke="#333" stroke-width="0.08" fill="#333" textLength="3.06" lengthAdjust="spacingAndGlyphs">7</text>
<text x="220.40" y="187.07" font-size="5.83" stroke="#222" stroke-width="0.08" fill="#222" textLength="23.86" lengthAdjust="spacingAndGlyphs">TCRBV12</text>
<text x="275.80" y="187.07" font-size="5.83" stroke="#222" stroke-width="0.08" fill="#222" textLength="46.53" lengthAdjust="spacingAndGlyphs">CASRDRENTEAFF</text>
<text x="369.93" y="187.17" font-size="6.105" stroke="#222" stroke-width="0.03" text-anchor="middle" fill="#222" textLength="13.89" lengthAdjust="spacingAndGlyphs">4,796</text>
<text x="402.18" y="187.17" font-size="6.105" stroke="#222" stroke-width="0.03" text-anchor="middle" fill="#222" textLength="13.89" lengthAdjust="spacingAndGlyphs">2,280</text>
<text x="434.43" y="187.17" font-size="6.105" stroke="#222" stroke-width="0.03" text-anchor="middle" fill="#222" textLength="13.89" lengthAdjust="spacingAndGlyphs">3,583</text>
<text x="466.68" y="187.17" font-size="6.105" stroke="#222" stroke-width="0.03" text-anchor="middle" fill="#222" textLength="13.89" lengthAdjust="spacingAndGlyphs">3,871</text>
<text x="487.20" y="187.17" font-size="6.05" stroke="#333" stroke-width="0.08" fill="#333" textLength="3.06" lengthAdjust="spacingAndGlyphs">8</text>
<text x="220.40" y="197.93" font-size="5.83" stroke="#222" stroke-width="0.08" fill="#222" textLength="31.52" lengthAdjust="spacingAndGlyphs">TCRBV19-01</text>
<text x="275.80" y="197.93" font-size="5.83" stroke="#222" stroke-width="0.08" fill="#222" textLength="47.41" lengthAdjust="spacingAndGlyphs">CASSIDSPNTEAFF</text>
<text x="369.93" y="198.03" font-size="6.105" stroke="#222" stroke-width="0.03" text-anchor="middle" fill="#222" textLength="9.26" lengthAdjust="spacingAndGlyphs">677</text>
<text x="402.18" y="198.03" font-size="6.105" stroke="#222" stroke-width="0.03" text-anchor="middle" fill="#222" textLength="9.26" lengthAdjust="spacingAndGlyphs">340</text>
<text x="434.43" y="198.03" font-size="6.105" stroke="#222" stroke-width="0.03" text-anchor="middle" fill="#222" textLength="13.89" lengthAdjust="spacingAndGlyphs">4,180</text>
<text x="466.68" y="198.03" font-size="6.105" stroke="#222" stroke-width="0.03" text-anchor="middle" fill="#222" textLength="13.89" lengthAdjust="spacingAndGlyphs">2,703</text>
<text x="487.20" y="198.03" font-size="6.05" stroke="#333" stroke-width="0.08" fill="#333" textLength="3.06" lengthAdjust="spacingAndGlyphs">9</text>
<text x="220.40" y="208.79" font-size="5.83" stroke="#222" stroke-width="0.08" fill="#222" textLength="39.48" lengthAdjust="spacingAndGlyphs">TCRBV02-01*01</text>
<text x="275.80" y="208.79" font-size="5.83" stroke="#222" stroke-width="0.08" fill="#222" textLength="46.13" lengthAdjust="spacingAndGlyphs">CARTGYEDTEAFF</text>
<text x="369.93" y="208.89" font-size="6.105" stroke="#222" stroke-width="0.03" text-anchor="middle" fill="#222" textLength="3.09" lengthAdjust="spacingAndGlyphs">0</text>
<text x="402.18" y="208.89" font-size="6.105" stroke="#222" stroke-width="0.03" text-anchor="middle" fill="#222" textLength="3.09" lengthAdjust="spacingAndGlyphs">0</text>
<text x="434.43" y="208.89" font-size="6.105" stroke="#222" stroke-width="0.03" text-anchor="middle" fill="#222" textLength="3.09" lengthAdjust="spacingAndGlyphs">0</text>
<text x="466.68" y="208.89" font-size="6.105" stroke="#222" stroke-width="0.03" text-anchor="middle" fill="#222" textLength="13.89" lengthAdjust="spacingAndGlyphs">1,435</text>
<text x="487.20" y="208.89" font-size="6.05" stroke="#333" stroke-width="0.08" fill="#333" textLength="6.12" lengthAdjust="spacingAndGlyphs">10</text>
<text x="0" y="0" font-size="8.0" text-anchor="middle" fill="#1a1a1a" stroke="#1a1a1a" stroke-width="0.3" textLength="73.2" lengthAdjust="spacingAndGlyphs" transform="translate(507.4,158.40) rotate(90)">Rank in NLV + Mono-OKT3-Fab</text>
<text x="0" y="0" font-size="7.9" text-anchor="middle" fill="#1a1a1a" stroke="#1a1a1a" stroke-width="0.3" textLength="21" lengthAdjust="spacingAndGlyphs" transform="translate(498.0,158.40) rotate(90)">condition</text>
<rect x="354.00" y="246.58" width="32.85" height="11.40" fill="#faef9e" stroke="none" stroke-width="1.0"/>
<rect x="386.25" y="246.58" width="32.85" height="11.40" fill="#d3661b" stroke="none" stroke-width="1.0"/>
<rect x="418.50" y="246.58" width="32.85" height="11.40" fill="#f9ed99" stroke="none" stroke-width="1.0"/>
<rect x="450.75" y="246.58" width="32.25" height="11.40" fill="#d3571e" stroke="none" stroke-width="1.0"/>
<rect x="354.00" y="257.38" width="32.85" height="11.40" fill="#f9ea95" stroke="none" stroke-width="1.0"/>
<rect x="386.25" y="257.38" width="32.85" height="11.40" fill="#f9ec97" stroke="none" stroke-width="1.0"/>
<rect x="418.50" y="257.38" width="32.85" height="11.40" fill="#e7ab3d" stroke="none" stroke-width="1.0"/>
<rect x="450.75" y="257.38" width="32.25" height="11.40" fill="#e4a12f" stroke="none" stroke-width="1.0"/>
<rect x="354.00" y="268.18" width="32.85" height="11.40" fill="#ffffff" stroke="none" stroke-width="1.0"/>
<rect x="386.25" y="268.18" width="32.85" height="11.40" fill="#e4a230" stroke="none" stroke-width="1.0"/>
<rect x="418.50" y="268.18" width="32.85" height="11.40" fill="#d76d1c" stroke="none" stroke-width="1.0"/>
<rect x="450.75" y="268.18" width="32.25" height="11.40" fill="#e6aa3b" stroke="none" stroke-width="1.0"/>
<rect x="354.00" y="278.98" width="32.85" height="11.40" fill="#faee9c" stroke="none" stroke-width="1.0"/>
<rect x="386.25" y="278.98" width="32.85" height="11.40" fill="#f5de82" stroke="none" stroke-width="1.0"/>
<rect x="418.50" y="278.98" width="32.85" height="11.40" fill="#ffffff" stroke="none" stroke-width="1.0"/>
<rect x="450.75" y="278.98" width="32.25" height="11.40" fill="#ebbb50" stroke="none" stroke-width="1.0"/>
<rect x="354.00" y="289.78" width="32.85" height="11.40" fill="#ffffff" stroke="none" stroke-width="1.0"/>
<rect x="386.25" y="289.78" width="32.85" height="11.40" fill="#edc259" stroke="none" stroke-width="1.0"/>
<rect x="418.50" y="289.78" width="32.85" height="11.40" fill="#e7ac3e" stroke="none" stroke-width="1.0"/>
<rect x="450.75" y="289.78" width="32.25" height="11.40" fill="#f0ce6b" stroke="none" stroke-width="1.0"/>
<rect x="354.00" y="300.58" width="32.85" height="11.40" fill="#ffffff" stroke="none" stroke-width="1.0"/>
<rect x="386.25" y="300.58" width="32.85" height="11.40" fill="#edc058" stroke="none" stroke-width="1.0"/>
<rect x="418.50" y="300.58" width="32.85" height="11.40" fill="#faed9b" stroke="none" stroke-width="1.0"/>
<rect x="450.75" y="300.58" width="32.25" height="11.40" fill="#f4d97b" stroke="none" stroke-width="1.0"/>
<rect x="354.00" y="311.38" width="32.85" height="11.40" fill="#ffffff" stroke="none" stroke-width="1.0"/>
<rect x="386.25" y="311.38" width="32.85" height="11.40" fill="#f2d373" stroke="none" stroke-width="1.0"/>
<rect x="418.50" y="311.38" width="32.85" height="11.40" fill="#e29a25" stroke="none" stroke-width="1.0"/>
<rect x="450.75" y="311.38" width="32.25" height="11.40" fill="#f5dd80" stroke="none" stroke-width="1.0"/>
<rect x="354.00" y="322.18" width="32.85" height="11.40" fill="#faef9d" stroke="none" stroke-width="1.0"/>
<rect x="386.25" y="322.18" width="32.85" height="11.40" fill="#faef9e" stroke="none" stroke-width="1.0"/>
<rect x="418.50" y="322.18" width="32.85" height="11.40" fill="#f4dc7e" stroke="none" stroke-width="1.0"/>
<rect x="450.75" y="322.18" width="32.25" height="11.40" fill="#f5de82" stroke="none" stroke-width="1.0"/>
<rect x="354.00" y="332.98" width="32.85" height="11.40" fill="#faed9b" stroke="none" stroke-width="1.0"/>
<rect x="386.25" y="332.98" width="32.85" height="11.40" fill="#faee9c" stroke="none" stroke-width="1.0"/>
<rect x="418.50" y="332.98" width="32.85" height="11.40" fill="#f7e389" stroke="none" stroke-width="1.0"/>
<rect x="450.75" y="332.98" width="32.25" height="11.40" fill="#f6e085" stroke="none" stroke-width="1.0"/>
<rect x="354.00" y="343.78" width="32.85" height="10.80" fill="#ffffff" stroke="none" stroke-width="1.0"/>
<rect x="386.25" y="343.78" width="32.85" height="10.80" fill="#ffffff" stroke="none" stroke-width="1.0"/>
<rect x="418.50" y="343.78" width="32.85" height="10.80" fill="#ffffff" stroke="none" stroke-width="1.0"/>
<rect x="450.75" y="343.78" width="32.25" height="10.80" fill="#f6e287" stroke="none" stroke-width="1.0"/>
<rect x="353.50" y="246.68" width="130.00" height="107.80" fill="none" stroke="#262626" stroke-width="1.0"/>
<rect x="273.50" y="246.78" width="66.80" height="9.30" fill="none" stroke="#666666" stroke-width="0.9"/>
<text x="220.40" y="253.33" font-size="5.83" stroke="#222" stroke-width="0.08" fill="#222" textLength="39.48" lengthAdjust="spacingAndGlyphs">TCRBV05-08*01</text>
<text x="275.80" y="253.33" font-size="5.83" stroke="#222" stroke-width="0.08" fill="#222" textLength="44.37" lengthAdjust="spacingAndGlyphs">CASSRTSINEQFF</text>
<text x="369.93" y="253.43" font-size="6.105" stroke="#222" stroke-width="0.03" text-anchor="middle" fill="#222" textLength="8.85" lengthAdjust="spacingAndGlyphs">110</text>
<text x="402.18" y="253.43" font-size="6.105" stroke="#222" stroke-width="0.03" text-anchor="middle" fill="#222" textLength="16.98" lengthAdjust="spacingAndGlyphs">52,021</text>
<text x="434.43" y="253.43" font-size="6.105" stroke="#222" stroke-width="0.03" text-anchor="middle" fill="#222" textLength="9.26" lengthAdjust="spacingAndGlyphs">627</text>
<text x="466.68" y="253.43" font-size="6.105" stroke="#222" stroke-width="0.03" text-anchor="middle" fill="#222" textLength="16.98" lengthAdjust="spacingAndGlyphs">90,986</text>
<text x="487.20" y="253.43" font-size="6.05" stroke="#333" stroke-width="0.08" fill="#333" textLength="3.06" lengthAdjust="spacingAndGlyphs">1</text>
<text x="220.40" y="264.19" font-size="5.83" stroke="#222" stroke-width="0.08" fill="#222" textLength="39.48" lengthAdjust="spacingAndGlyphs">TCRBV04-01*01</text>
<text x="275.80" y="264.19" font-size="5.83" stroke="#222" stroke-width="0.08" fill="#222" textLength="48.0" lengthAdjust="spacingAndGlyphs">CASSPEGGGGAFF</text>
<text x="369.93" y="264.29" font-size="6.105" stroke="#222" stroke-width="0.03" text-anchor="middle" fill="#222" textLength="13.89" lengthAdjust="spacingAndGlyphs">1,249</text>
<text x="402.18" y="264.29" font-size="6.105" stroke="#222" stroke-width="0.03" text-anchor="middle" fill="#222" textLength="9.26" lengthAdjust="spacingAndGlyphs">852</text>
<text x="434.43" y="264.29" font-size="6.105" stroke="#222" stroke-width="0.03" text-anchor="middle" fill="#222" textLength="16.98" lengthAdjust="spacingAndGlyphs">16,282</text>
<text x="466.68" y="264.29" font-size="6.105" stroke="#222" stroke-width="0.03" text-anchor="middle" fill="#222" textLength="16.98" lengthAdjust="spacingAndGlyphs">19,386</text>
<text x="487.20" y="264.29" font-size="6.05" stroke="#333" stroke-width="0.08" fill="#333" textLength="3.06" lengthAdjust="spacingAndGlyphs">2</text>
<rect x="273.50" y="268.50" width="66.80" height="9.30" fill="none" stroke="#2e2e2e" stroke-width="1.1"/>
<text x="220.40" y="275.05" font-size="5.83" stroke="#222" stroke-width="0.15" font-weight="bold" fill="#222" textLength="24.15" lengthAdjust="spacingAndGlyphs">TCRBV06</text>
<text x="275.80" y="275.05" font-size="5.83" stroke="#222" stroke-width="0.15" font-weight="bold" fill="#222" textLength="57.12" lengthAdjust="spacingAndGlyphs">CASSPTTGTGTYGYTF</text>
<text x="369.93" y="275.15" font-size="6.105" stroke="#222" stroke-width="0.03" text-anchor="middle" fill="#222" textLength="6.17" lengthAdjust="spacingAndGlyphs">25</text>
<text x="402.18" y="275.15" font-size="6.105" stroke="#222" stroke-width="0.03" text-anchor="middle" fill="#222" textLength="16.98" lengthAdjust="spacingAndGlyphs">19,163</text>
<text x="434.43" y="275.15" font-size="6.105" stroke="#222" stroke-width="0.03" text-anchor="middle" fill="#222" textLength="16.98" lengthAdjust="spacingAndGlyphs">42,683</text>
<text x="466.68" y="275.15" font-size="6.105" stroke="#222" stroke-width="0.03" text-anchor="middle" fill="#222" textLength="16.98" lengthAdjust="spacingAndGlyphs">16,740</text>
<text x="487.20" y="275.15" font-size="6.05" stroke="#333" stroke-width="0.08" fill="#333" textLength="3.06" lengthAdjust="spacingAndGlyphs">3</text>
<rect x="273.50" y="279.36" width="66.80" height="9.30" fill="none" stroke="#2e2e2e" stroke-width="1.1"/>
<text x="220.40" y="285.91" font-size="5.83" stroke="#222" stroke-width="0.15" font-weight="bold" fill="#222" textLength="39.77" lengthAdjust="spacingAndGlyphs">TCRBV27-01*01</text>
<text x="275.80" y="285.91" font-size="5.83" stroke="#222" stroke-width="0.15" font-weight="bold" fill="#222" textLength="46.23" lengthAdjust="spacingAndGlyphs">CASSLEGYTEAFF</text>
<text x="369.93" y="286.01" font-size="6.105" stroke="#222" stroke-width="0.03" text-anchor="middle" fill="#222" textLength="9.26" lengthAdjust="spacingAndGlyphs">340</text>
<text x="402.18" y="286.01" font-size="6.105" stroke="#222" stroke-width="0.03" text-anchor="middle" fill="#222" textLength="13.89" lengthAdjust="spacingAndGlyphs">4,717</text>
<text x="434.43" y="286.01" font-size="6.105" stroke="#222" stroke-width="0.03" text-anchor="middle" fill="#222" textLength="9.26" lengthAdjust="spacingAndGlyphs">100</text>
<text x="466.68" y="286.01" font-size="6.105" stroke="#222" stroke-width="0.03" text-anchor="middle" fill="#222" textLength="16.98" lengthAdjust="spacingAndGlyphs">12,317</text>
<text x="487.20" y="286.01" font-size="6.05" stroke="#333" stroke-width="0.08" fill="#333" textLength="3.06" lengthAdjust="spacingAndGlyphs">4</text>
<rect x="273.50" y="290.22" width="66.80" height="9.30" fill="none" stroke="#2e2e2e" stroke-width="1.1"/>
<text x="220.40" y="296.77" font-size="5.83" stroke="#222" stroke-width="0.15" font-weight="bold" fill="#222" textLength="39.77" lengthAdjust="spacingAndGlyphs">TCRBV27-01*01</text>
<text x="275.80" y="296.77" font-size="5.83" stroke="#222" stroke-width="0.15" font-weight="bold" fill="#222" textLength="53.01" lengthAdjust="spacingAndGlyphs">CASSPIAGYPHEQYF</text>
<text x="369.93" y="296.87" font-size="6.105" stroke="#222" stroke-width="0.03" text-anchor="middle" fill="#222" textLength="3.09" lengthAdjust="spacingAndGlyphs">0</text>
<text x="402.18" y="296.87" font-size="6.105" stroke="#222" stroke-width="0.03" text-anchor="middle" fill="#222" textLength="16.98" lengthAdjust="spacingAndGlyphs">10,604</text>
<text x="434.43" y="296.87" font-size="6.105" stroke="#222" stroke-width="0.03" text-anchor="middle" fill="#222" textLength="16.98" lengthAdjust="spacingAndGlyphs">15,904</text>
<text x="466.68" y="296.87" font-size="6.105" stroke="#222" stroke-width="0.03" text-anchor="middle" fill="#222" textLength="13.89" lengthAdjust="spacingAndGlyphs">8,197</text>
<text x="487.20" y="296.87" font-size="6.05" stroke="#333" stroke-width="0.08" fill="#333" textLength="3.06" lengthAdjust="spacingAndGlyphs">5</text>
<rect x="273.50" y="301.08" width="66.80" height="9.30" fill="none" stroke="#2e2e2e" stroke-width="1.1"/>
<text x="220.40" y="307.63" font-size="5.83" stroke="#222" stroke-width="0.15" font-weight="bold" fill="#222" textLength="24.15" lengthAdjust="spacingAndGlyphs">TCRBV12</text>
<text x="275.80" y="307.63" font-size="5.83" stroke="#222" stroke-width="0.15" font-weight="bold" fill="#222" textLength="43.29" lengthAdjust="spacingAndGlyphs">CASSPGTYGYTF</text>
<text x="369.93" y="307.73" font-size="6.105" stroke="#222" stroke-width="0.03" text-anchor="middle" fill="#222" textLength="3.09" lengthAdjust="spacingAndGlyphs">0</text>
<text x="402.18" y="307.73" font-size="6.105" stroke="#222" stroke-width="0.03" text-anchor="middle" fill="#222" textLength="16.98" lengthAdjust="spacingAndGlyphs">10,945</text>
<text x="434.43" y="307.73" font-size="6.105" stroke="#222" stroke-width="0.03" text-anchor="middle" fill="#222" textLength="9.26" lengthAdjust="spacingAndGlyphs">458</text>
<text x="466.68" y="307.73" font-size="6.105" stroke="#222" stroke-width="0.03" text-anchor="middle" fill="#222" textLength="13.89" lengthAdjust="spacingAndGlyphs">6,158</text>
<text x="487.20" y="307.73" font-size="6.05" stroke="#333" stroke-width="0.08" fill="#333" textLength="3.06" lengthAdjust="spacingAndGlyphs">6</text>
<rect x="273.50" y="311.94" width="66.80" height="9.30" fill="none" stroke="#2e2e2e" stroke-width="1.1"/>
<text x="220.40" y="318.49" font-size="5.83" stroke="#222" stroke-width="0.15" font-weight="bold" fill="#222" textLength="24.15" lengthAdjust="spacingAndGlyphs">TCRBV12</text>
<text x="275.80" y="318.49" font-size="5.83" stroke="#222" stroke-width="0.15" font-weight="bold" fill="#222" textLength="38.57" lengthAdjust="spacingAndGlyphs">CASSIMNEQFF</text>
<text x="369.93" y="318.59" font-size="6.105" stroke="#222" stroke-width="0.03" text-anchor="middle" fill="#222" textLength="3.09" lengthAdjust="spacingAndGlyphs">0</text>
<text x="402.18" y="318.59" font-size="6.105" stroke="#222" stroke-width="0.03" text-anchor="middle" fill="#222" textLength="13.89" lengthAdjust="spacingAndGlyphs">7,183</text>
<text x="434.43" y="318.59" font-size="6.105" stroke="#222" stroke-width="0.03" text-anchor="middle" fill="#222" textLength="16.98" lengthAdjust="spacingAndGlyphs">21,212</text>
<text x="466.68" y="318.59" font-size="6.105" stroke="#222" stroke-width="0.03" text-anchor="middle" fill="#222" textLength="13.89" lengthAdjust="spacingAndGlyphs">5,276</text>
<text x="487.20" y="318.59" font-size="6.05" stroke="#333" stroke-width="0.08" fill="#333" textLength="3.06" lengthAdjust="spacingAndGlyphs">7</text>
<text x="220.40" y="329.35" font-size="5.83" stroke="#222" stroke-width="0.08" fill="#222" textLength="39.08" lengthAdjust="spacingAndGlyphs">TCRBV11-01*01</text>
<text x="275.80" y="329.35" font-size="5.83" stroke="#222" stroke-width="0.08" fill="#222" textLength="45.95" lengthAdjust="spacingAndGlyphs">CASSLAPPYEQYF</text>
<text x="369.93" y="329.45" font-size="6.105" stroke="#222" stroke-width="0.03" text-anchor="middle" fill="#222" textLength="9.26" lengthAdjust="spacingAndGlyphs">195</text>
<text x="402.18" y="329.45" font-size="6.105" stroke="#222" stroke-width="0.03" text-anchor="middle" fill="#222" textLength="9.26" lengthAdjust="spacingAndGlyphs">148</text>
<text x="434.43" y="329.45" font-size="6.105" stroke="#222" stroke-width="0.03" text-anchor="middle" fill="#222" textLength="13.89" lengthAdjust="spacingAndGlyphs">5,527</text>
<text x="466.68" y="329.45" font-size="6.105" stroke="#222" stroke-width="0.03" text-anchor="middle" fill="#222" textLength="13.89" lengthAdjust="spacingAndGlyphs">4,742</text>
<text x="487.20" y="329.45" font-size="6.05" stroke="#333" stroke-width="0.08" fill="#333" textLength="3.06" lengthAdjust="spacingAndGlyphs">8</text>
<text x="220.40" y="340.21" font-size="5.83" stroke="#222" stroke-width="0.08" fill="#222" textLength="39.48" lengthAdjust="spacingAndGlyphs">TCRBV04-01*01</text>
<text x="275.80" y="340.21" font-size="5.83" stroke="#222" stroke-width="0.08" fill="#222" textLength="53.9" lengthAdjust="spacingAndGlyphs">CASSQGVGLGEKLFF</text>
<text x="369.93" y="340.31" font-size="6.105" stroke="#222" stroke-width="0.03" text-anchor="middle" fill="#222" textLength="9.26" lengthAdjust="spacingAndGlyphs">484</text>
<text x="402.18" y="340.31" font-size="6.105" stroke="#222" stroke-width="0.03" text-anchor="middle" fill="#222" textLength="9.26" lengthAdjust="spacingAndGlyphs">318</text>
<text x="434.43" y="340.31" font-size="6.105" stroke="#222" stroke-width="0.03" text-anchor="middle" fill="#222" textLength="13.89" lengthAdjust="spacingAndGlyphs">3,426</text>
<text x="466.68" y="340.31" font-size="6.105" stroke="#222" stroke-width="0.03" text-anchor="middle" fill="#222" textLength="13.89" lengthAdjust="spacingAndGlyphs">4,192</text>
<text x="487.20" y="340.31" font-size="6.05" stroke="#333" stroke-width="0.08" fill="#333" textLength="3.06" lengthAdjust="spacingAndGlyphs">9</text>
<text x="220.40" y="351.07" font-size="5.83" stroke="#222" stroke-width="0.08" fill="#222" textLength="31.52" lengthAdjust="spacingAndGlyphs">TCRBV09-01</text>
<text x="275.80" y="351.07" font-size="5.83" stroke="#222" stroke-width="0.08" fill="#222" textLength="54.48" lengthAdjust="spacingAndGlyphs">CASSPRDNPNYGYTF</text>
<text x="369.93" y="351.17" font-size="6.105" stroke="#222" stroke-width="0.03" text-anchor="middle" fill="#222" textLength="3.09" lengthAdjust="spacingAndGlyphs">0</text>
<text x="402.18" y="351.17" font-size="6.105" stroke="#222" stroke-width="0.03" text-anchor="middle" fill="#222" textLength="3.09" lengthAdjust="spacingAndGlyphs">0</text>
<text x="434.43" y="351.17" font-size="6.105" stroke="#222" stroke-width="0.03" text-anchor="middle" fill="#222" textLength="3.09" lengthAdjust="spacingAndGlyphs">0</text>
<text x="466.68" y="351.17" font-size="6.105" stroke="#222" stroke-width="0.03" text-anchor="middle" fill="#222" textLength="13.89" lengthAdjust="spacingAndGlyphs">3,831</text>
<text x="487.20" y="351.17" font-size="6.05" stroke="#333" stroke-width="0.08" fill="#333" textLength="6.12" lengthAdjust="spacingAndGlyphs">10</text>
<text x="0" y="0" font-size="8.0" text-anchor="middle" fill="#1a1a1a" stroke="#1a1a1a" stroke-width="0.3" textLength="73.2" lengthAdjust="spacingAndGlyphs" transform="translate(507.4,300.68) rotate(90)">Rank in NLV + Mono-OKT3-Fab</text>
<text x="0" y="0" font-size="7.9" text-anchor="middle" fill="#1a1a1a" stroke="#1a1a1a" stroke-width="0.3" textLength="21" lengthAdjust="spacingAndGlyphs" transform="translate(498.0,300.68) rotate(90)">condition</text>
<rect x="354.00" y="388.86" width="32.85" height="11.40" fill="#f9ea95" stroke="none" stroke-width="1.0"/>
<rect x="386.25" y="388.86" width="32.85" height="11.40" fill="#d3571e" stroke="none" stroke-width="1.0"/>
<rect x="418.50" y="388.86" width="32.85" height="11.40" fill="#eec55e" stroke="none" stroke-width="1.0"/>
<rect x="450.75" y="388.86" width="32.25" height="11.40" fill="#d3641b" stroke="none" stroke-width="1.0"/>
<rect x="354.00" y="399.66" width="32.85" height="11.40" fill="#faed9a" stroke="none" stroke-width="1.0"/>
<rect x="386.25" y="399.66" width="32.85" height="11.40" fill="#e19721" stroke="none" stroke-width="1.0"/>
<rect x="418.50" y="399.66" width="32.85" height="11.40" fill="#f7e58c" stroke="none" stroke-width="1.0"/>
<rect x="450.75" y="399.66" width="32.25" height="11.40" fill="#e19721" stroke="none" stroke-width="1.0"/>
<rect x="354.00" y="410.46" width="32.85" height="11.40" fill="#faee9c" stroke="none" stroke-width="1.0"/>
<rect x="386.25" y="410.46" width="32.85" height="11.40" fill="#f1d271" stroke="none" stroke-width="1.0"/>
<rect x="418.50" y="410.46" width="32.85" height="11.40" fill="#faef9d" stroke="none" stroke-width="1.0"/>
<rect x="450.75" y="410.46" width="32.25" height="11.40" fill="#ebbb50" stroke="none" stroke-width="1.0"/>
<rect x="354.00" y="421.26" width="32.85" height="11.40" fill="#faee9d" stroke="none" stroke-width="1.0"/>
<rect x="386.25" y="421.26" width="32.85" height="11.40" fill="#f0cf6c" stroke="none" stroke-width="1.0"/>
<rect x="418.50" y="421.26" width="32.85" height="11.40" fill="#e39f2c" stroke="none" stroke-width="1.0"/>
<rect x="450.75" y="421.26" width="32.25" height="11.40" fill="#ecc056" stroke="none" stroke-width="1.0"/>
<rect x="354.00" y="432.06" width="32.85" height="11.40" fill="#f7e58c" stroke="none" stroke-width="1.0"/>
<rect x="386.25" y="432.06" width="32.85" height="11.40" fill="#f9ea95" stroke="none" stroke-width="1.0"/>
<rect x="418.50" y="432.06" width="32.85" height="11.40" fill="#f6e085" stroke="none" stroke-width="1.0"/>
<rect x="450.75" y="432.06" width="32.25" height="11.40" fill="#f2d473" stroke="none" stroke-width="1.0"/>
<rect x="354.00" y="442.86" width="32.85" height="11.40" fill="#f5de81" stroke="none" stroke-width="1.0"/>
<rect x="386.25" y="442.86" width="32.85" height="11.40" fill="#f8e993" stroke="none" stroke-width="1.0"/>
<rect x="418.50" y="442.86" width="32.85" height="11.40" fill="#f8e78f" stroke="none" stroke-width="1.0"/>
<rect x="450.75" y="442.86" width="32.25" height="11.40" fill="#f2d474" stroke="none" stroke-width="1.0"/>
<rect x="354.00" y="453.66" width="32.85" height="11.40" fill="#ffffff" stroke="none" stroke-width="1.0"/>
<rect x="386.25" y="453.66" width="32.85" height="11.40" fill="#f6e287" stroke="none" stroke-width="1.0"/>
<rect x="418.50" y="453.66" width="32.85" height="11.40" fill="#f1d16f" stroke="none" stroke-width="1.0"/>
<rect x="450.75" y="453.66" width="32.25" height="11.40" fill="#f4da7c" stroke="none" stroke-width="1.0"/>
<rect x="354.00" y="464.46" width="32.85" height="11.40" fill="#f8e68e" stroke="none" stroke-width="1.0"/>
<rect x="386.25" y="464.46" width="32.85" height="11.40" fill="#f9ec97" stroke="none" stroke-width="1.0"/>
<rect x="418.50" y="464.46" width="32.85" height="11.40" fill="#f6e085" stroke="none" stroke-width="1.0"/>
<rect x="450.75" y="464.46" width="32.25" height="11.40" fill="#f4db7d" stroke="none" stroke-width="1.0"/>
<rect x="354.00" y="475.26" width="32.85" height="11.40" fill="#faef9e" stroke="none" stroke-width="1.0"/>
<rect x="386.25" y="475.26" width="32.85" height="11.40" fill="#ffffff" stroke="none" stroke-width="1.0"/>
<rect x="418.50" y="475.26" width="32.85" height="11.40" fill="#f7e48b" stroke="none" stroke-width="1.0"/>
<rect x="450.75" y="475.26" width="32.25" height="11.40" fill="#f4db7e" stroke="none" stroke-width="1.0"/>
<rect x="354.00" y="486.06" width="32.85" height="10.80" fill="#f6e186" stroke="none" stroke-width="1.0"/>
<rect x="386.25" y="486.06" width="32.85" height="10.80" fill="#f8e891" stroke="none" stroke-width="1.0"/>
<rect x="418.50" y="486.06" width="32.85" height="10.80" fill="#f6e186" stroke="none" stroke-width="1.0"/>
<rect x="450.75" y="486.06" width="32.25" height="10.80" fill="#f5de81" stroke="none" stroke-width="1.0"/>
<rect x="353.50" y="388.96" width="130.00" height="107.80" fill="none" stroke="#262626" stroke-width="1.0"/>
<rect x="273.50" y="389.06" width="66.80" height="9.30" fill="none" stroke="#2e2e2e" stroke-width="1.1"/>
<text x="220.40" y="395.61" font-size="5.83" stroke="#222" stroke-width="0.15" font-weight="bold" fill="#222" textLength="24.15" lengthAdjust="spacingAndGlyphs">TCRBV12</text>
<text x="275.80" y="395.61" font-size="5.83" stroke="#222" stroke-width="0.15" font-weight="bold" fill="#222" textLength="39.76" lengthAdjust="spacingAndGlyphs">CASSSVNEQFF</text>
<text x="369.93" y="395.71" font-size="6.105" stroke="#222" stroke-width="0.03" text-anchor="middle" fill="#222" textLength="13.89" lengthAdjust="spacingAndGlyphs">1,224</text>
<text x="402.18" y="395.71" font-size="6.105" stroke="#222" stroke-width="0.03" text-anchor="middle" fill="#222" textLength="16.98" lengthAdjust="spacingAndGlyphs">90,590</text>
<text x="434.43" y="395.71" font-size="6.105" stroke="#222" stroke-width="0.03" text-anchor="middle" fill="#222" textLength="16.98" lengthAdjust="spacingAndGlyphs">10,008</text>
<text x="466.68" y="395.71" font-size="6.105" stroke="#222" stroke-width="0.03" text-anchor="middle" fill="#222" textLength="16.98" lengthAdjust="spacingAndGlyphs">57,318</text>
<text x="487.20" y="395.71" font-size="6.05" stroke="#333" stroke-width="0.08" fill="#333" textLength="3.06" lengthAdjust="spacingAndGlyphs">1</text>
<rect x="273.50" y="399.92" width="66.80" height="9.30" fill="none" stroke="#666666" stroke-width="0.9"/>
<text x="220.40" y="406.47" font-size="5.83" stroke="#222" stroke-width="0.08" fill="#222" textLength="39.48" lengthAdjust="spacingAndGlyphs">TCRBV06-05*01</text>
<text x="275.80" y="406.47" font-size="5.83" stroke="#222" stroke-width="0.08" fill="#222" textLength="52.91" lengthAdjust="spacingAndGlyphs">CASSPKTGATYGYTF</text>
<text x="369.93" y="406.57" font-size="6.105" stroke="#222" stroke-width="0.03" text-anchor="middle" fill="#222" textLength="9.26" lengthAdjust="spacingAndGlyphs">518</text>
<text x="402.18" y="406.57" font-size="6.105" stroke="#222" stroke-width="0.03" text-anchor="middle" fill="#222" textLength="16.98" lengthAdjust="spacingAndGlyphs">22,100</text>
<text x="434.43" y="406.57" font-size="6.105" stroke="#222" stroke-width="0.03" text-anchor="middle" fill="#222" textLength="13.89" lengthAdjust="spacingAndGlyphs">2,829</text>
<text x="466.68" y="406.57" font-size="6.105" stroke="#222" stroke-width="0.03" text-anchor="middle" fill="#222" textLength="16.98" lengthAdjust="spacingAndGlyphs">22,061</text>
<text x="487.20" y="406.57" font-size="6.05" stroke="#333" stroke-width="0.08" fill="#333" textLength="3.06" lengthAdjust="spacingAndGlyphs">2</text>
<rect x="273.50" y="410.78" width="66.80" height="9.30" fill="none" stroke="#666666" stroke-width="0.9"/>
<text x="220.40" y="417.33" font-size="5.83" stroke="#222" stroke-width="0.08" fill="#222" textLength="23.86" lengthAdjust="spacingAndGlyphs">TCRBV06</text>
<text x="275.80" y="417.33" font-size="5.83" stroke="#222" stroke-width="0.08" fill="#222" textLength="57.72" lengthAdjust="spacingAndGlyphs">CASTPQTGTGYYGYTF</text>
<text x="369.93" y="417.43" font-size="6.105" stroke="#222" stroke-width="0.03" text-anchor="middle" fill="#222" textLength="9.26" lengthAdjust="spacingAndGlyphs">294</text>
<text x="402.18" y="417.43" font-size="6.105" stroke="#222" stroke-width="0.03" text-anchor="middle" fill="#222" textLength="13.89" lengthAdjust="spacingAndGlyphs">7,420</text>
<text x="434.43" y="417.43" font-size="6.105" stroke="#222" stroke-width="0.03" text-anchor="middle" fill="#222" textLength="9.26" lengthAdjust="spacingAndGlyphs">160</text>
<text x="466.68" y="417.43" font-size="6.105" stroke="#222" stroke-width="0.03" text-anchor="middle" fill="#222" textLength="16.98" lengthAdjust="spacingAndGlyphs">12,250</text>
<text x="487.20" y="417.43" font-size="6.05" stroke="#333" stroke-width="0.08" fill="#333" textLength="3.06" lengthAdjust="spacingAndGlyphs">3</text>
<rect x="273.50" y="421.64" width="66.80" height="9.30" fill="none" stroke="#2e2e2e" stroke-width="1.1"/>
<text x="220.40" y="428.19" font-size="5.83" stroke="#222" stroke-width="0.15" font-weight="bold" fill="#222" textLength="24.15" lengthAdjust="spacingAndGlyphs">TCRBV06</text>
<text x="275.80" y="428.19" font-size="5.83" stroke="#222" stroke-width="0.15" font-weight="bold" fill="#222" textLength="57.12" lengthAdjust="spacingAndGlyphs">CASSPTTGTGTYGYTF</text>
<text x="369.93" y="428.29" font-size="6.105" stroke="#222" stroke-width="0.03" text-anchor="middle" fill="#222" textLength="9.26" lengthAdjust="spacingAndGlyphs">215</text>
<text x="402.18" y="428.29" font-size="6.105" stroke="#222" stroke-width="0.03" text-anchor="middle" fill="#222" textLength="13.89" lengthAdjust="spacingAndGlyphs">7,965</text>
<text x="434.43" y="428.29" font-size="6.105" stroke="#222" stroke-width="0.03" text-anchor="middle" fill="#222" textLength="16.98" lengthAdjust="spacingAndGlyphs">19,982</text>
<text x="466.68" y="428.29" font-size="6.105" stroke="#222" stroke-width="0.03" text-anchor="middle" fill="#222" textLength="16.56" lengthAdjust="spacingAndGlyphs">11,132</text>
<text x="487.20" y="428.29" font-size="6.05" stroke="#333" stroke-width="0.08" fill="#333" textLength="3.06" lengthAdjust="spacingAndGlyphs">4</text>
<text x="220.40" y="439.05" font-size="5.83" stroke="#222" stroke-width="0.08" fill="#222" textLength="39.48" lengthAdjust="spacingAndGlyphs">TCRBV12-05*01</text>
<text x="275.80" y="439.05" font-size="5.83" stroke="#222" stroke-width="0.08" fill="#222" textLength="46.24" lengthAdjust="spacingAndGlyphs">CASGLGVNTEAFF</text>
<text x="369.93" y="439.15" font-size="6.105" stroke="#222" stroke-width="0.03" text-anchor="middle" fill="#222" textLength="13.89" lengthAdjust="spacingAndGlyphs">2,933</text>
<text x="402.18" y="439.15" font-size="6.105" stroke="#222" stroke-width="0.03" text-anchor="middle" fill="#222" textLength="13.89" lengthAdjust="spacingAndGlyphs">1,174</text>
<text x="434.43" y="439.15" font-size="6.105" stroke="#222" stroke-width="0.03" text-anchor="middle" fill="#222" textLength="13.89" lengthAdjust="spacingAndGlyphs">4,199</text>
<text x="466.68" y="439.15" font-size="6.105" stroke="#222" stroke-width="0.03" text-anchor="middle" fill="#222" textLength="13.89" lengthAdjust="spacingAndGlyphs">7,153</text>
<text x="487.20" y="439.15" font-size="6.05" stroke="#333" stroke-width="0.08" fill="#333" textLength="3.06" lengthAdjust="spacingAndGlyphs">5</text>
<text x="220.40" y="449.91" font-size="5.83" stroke="#222" stroke-width="0.08" fill="#222" textLength="39.48" lengthAdjust="spacingAndGlyphs">TCRBV27-01*01</text>
<text x="275.80" y="449.91" font-size="5.83" stroke="#222" stroke-width="0.08" fill="#222" textLength="44.76" lengthAdjust="spacingAndGlyphs">CASRDGGYEQYF</text>
<text x="369.93" y="450.01" font-size="6.105" stroke="#222" stroke-width="0.03" text-anchor="middle" fill="#222" textLength="13.89" lengthAdjust="spacingAndGlyphs">4,960</text>
<text x="402.18" y="450.01" font-size="6.105" stroke="#222" stroke-width="0.03" text-anchor="middle" fill="#222" textLength="13.89" lengthAdjust="spacingAndGlyphs">1,644</text>
<text x="434.43" y="450.01" font-size="6.105" stroke="#222" stroke-width="0.03" text-anchor="middle" fill="#222" textLength="13.89" lengthAdjust="spacingAndGlyphs">2,324</text>
<text x="466.68" y="450.01" font-size="6.105" stroke="#222" stroke-width="0.03" text-anchor="middle" fill="#222" textLength="13.89" lengthAdjust="spacingAndGlyphs">7,012</text>
<text x="487.20" y="450.01" font-size="6.05" stroke="#333" stroke-width="0.08" fill="#333" textLength="3.06" lengthAdjust="spacingAndGlyphs">6</text>
<rect x="273.50" y="454.22" width="66.80" height="9.30" fill="none" stroke="#2e2e2e" stroke-width="1.1"/>
<text x="220.40" y="460.77" font-size="5.83" stroke="#222" stroke-width="0.15" font-weight="bold" fill="#222" textLength="39.77" lengthAdjust="spacingAndGlyphs">TCRBV27-01*01</text>
<text x="275.80" y="460.77" font-size="5.83" stroke="#222" stroke-width="0.15" font-weight="bold" fill="#222" textLength="53.01" lengthAdjust="spacingAndGlyphs">CASSPIAGYPHEQYF</text>
<text x="369.93" y="460.87" font-size="6.105" stroke="#222" stroke-width="0.03" text-anchor="middle" fill="#222" textLength="6.17" lengthAdjust="spacingAndGlyphs">47</text>
<text x="402.18" y="460.87" font-size="6.105" stroke="#222" stroke-width="0.03" text-anchor="middle" fill="#222" textLength="13.89" lengthAdjust="spacingAndGlyphs">3,779</text>
<text x="434.43" y="460.87" font-size="6.105" stroke="#222" stroke-width="0.03" text-anchor="middle" fill="#222" textLength="13.89" lengthAdjust="spacingAndGlyphs">7,646</text>
<text x="466.68" y="460.87" font-size="6.105" stroke="#222" stroke-width="0.03" text-anchor="middle" fill="#222" textLength="13.89" lengthAdjust="spacingAndGlyphs">6,004</text>
<text x="487.20" y="460.87" font-size="6.05" stroke="#333" stroke-width="0.08" fill="#333" textLength="3.06" lengthAdjust="spacingAndGlyphs">7</text>
<text x="220.40" y="471.63" font-size="5.83" stroke="#222" stroke-width="0.08" fill="#222" textLength="31.52" lengthAdjust="spacingAndGlyphs">TCRBV19-01</text>
<text x="275.80" y="471.63" font-size="5.83" stroke="#222" stroke-width="0.08" fill="#222" textLength="57.62" lengthAdjust="spacingAndGlyphs">CASSSRTSGRFYEQYF</text>
<text x="369.93" y="471.73" font-size="6.105" stroke="#222" stroke-width="0.03" text-anchor="middle" fill="#222" textLength="13.89" lengthAdjust="spacingAndGlyphs">2,461</text>
<text x="402.18" y="471.73" font-size="6.105" stroke="#222" stroke-width="0.03" text-anchor="middle" fill="#222" textLength="9.26" lengthAdjust="spacingAndGlyphs">881</text>
<text x="434.43" y="471.73" font-size="6.105" stroke="#222" stroke-width="0.03" text-anchor="middle" fill="#222" textLength="13.89" lengthAdjust="spacingAndGlyphs">4,173</text>
<text x="466.68" y="471.73" font-size="6.105" stroke="#222" stroke-width="0.03" text-anchor="middle" fill="#222" textLength="13.89" lengthAdjust="spacingAndGlyphs">5,848</text>
<text x="487.20" y="471.73" font-size="6.05" stroke="#333" stroke-width="0.08" fill="#333" textLength="3.06" lengthAdjust="spacingAndGlyphs">8</text>
<text x="220.40" y="482.49" font-size="5.83" stroke="#222" stroke-width="0.08" fill="#222" textLength="39.08" lengthAdjust="spacingAndGlyphs">TCRBV11-02*02</text>
<text x="275.80" y="482.49" font-size="5.83" stroke="#222" stroke-width="0.08" fill="#222" textLength="61.56" lengthAdjust="spacingAndGlyphs">CASSLDPSGRLGDEQYF</text>
<text x="369.93" y="482.59" font-size="6.105" stroke="#222" stroke-width="0.03" text-anchor="middle" fill="#222" textLength="9.26" lengthAdjust="spacingAndGlyphs">107</text>
<text x="402.18" y="482.59" font-size="6.105" stroke="#222" stroke-width="0.03" text-anchor="middle" fill="#222" textLength="6.17" lengthAdjust="spacingAndGlyphs">69</text>
<text x="434.43" y="482.59" font-size="6.105" stroke="#222" stroke-width="0.03" text-anchor="middle" fill="#222" textLength="13.89" lengthAdjust="spacingAndGlyphs">3,063</text>
<text x="466.68" y="482.59" font-size="6.105" stroke="#222" stroke-width="0.03" text-anchor="middle" fill="#222" textLength="13.89" lengthAdjust="spacingAndGlyphs">5,582</text>
<text x="487.20" y="482.59" font-size="6.05" stroke="#333" stroke-width="0.08" fill="#333" textLength="3.06" lengthAdjust="spacingAndGlyphs">9</text>
<text x="220.40" y="493.35" font-size="5.83" stroke="#222" stroke-width="0.08" fill="#222" textLength="23.86" lengthAdjust="spacingAndGlyphs">TCRBV12</text>
<text x="275.80" y="493.35" font-size="5.83" stroke="#222" stroke-width="0.08" fill="#222" textLength="49.48" lengthAdjust="spacingAndGlyphs">CASSINYSNQPQHF</text>
<text x="369.93" y="493.45" font-size="6.105" stroke="#222" stroke-width="0.03" text-anchor="middle" fill="#222" textLength="13.89" lengthAdjust="spacingAndGlyphs">3,984</text>
<text x="402.18" y="493.45" font-size="6.105" stroke="#222" stroke-width="0.03" text-anchor="middle" fill="#222" textLength="13.89" lengthAdjust="spacingAndGlyphs">1,943</text>
<text x="434.43" y="493.45" font-size="6.105" stroke="#222" stroke-width="0.03" text-anchor="middle" fill="#222" textLength="13.89" lengthAdjust="spacingAndGlyphs">3,944</text>
<text x="466.68" y="493.45" font-size="6.105" stroke="#222" stroke-width="0.03" text-anchor="middle" fill="#222" textLength="13.89" lengthAdjust="spacingAndGlyphs">4,909</text>
<text x="487.20" y="493.45" font-size="6.05" stroke="#333" stroke-width="0.08" fill="#333" textLength="6.12" lengthAdjust="spacingAndGlyphs">10</text>
<text x="0" y="0" font-size="8.0" text-anchor="middle" fill="#1a1a1a" stroke="#1a1a1a" stroke-width="0.3" textLength="73.2" lengthAdjust="spacingAndGlyphs" transform="translate(507.4,442.96) rotate(90)">Rank in NLV + Mono-OKT3-Fab</text>
<text x="0" y="0" font-size="7.9" text-anchor="middle" fill="#1a1a1a" stroke="#1a1a1a" stroke-width="0.3" textLength="21" lengthAdjust="spacingAndGlyphs" transform="translate(498.0,442.96) rotate(90)">condition</text>
<rect x="354.00" y="531.14" width="32.85" height="11.40" fill="#f9ed99" stroke="none" stroke-width="1.0"/>
<rect x="386.25" y="531.14" width="32.85" height="11.40" fill="#d97a1c" stroke="none" stroke-width="1.0"/>
<rect x="418.50" y="531.14" width="32.85" height="11.40" fill="#faed9a" stroke="none" stroke-width="1.0"/>
<rect x="450.75" y="531.14" width="32.25" height="11.40" fill="#d4691b" stroke="none" stroke-width="1.0"/>
<rect x="354.00" y="541.94" width="32.85" height="11.40" fill="#f5df83" stroke="none" stroke-width="1.0"/>
<rect x="386.25" y="541.94" width="32.85" height="11.40" fill="#f6e288" stroke="none" stroke-width="1.0"/>
<rect x="418.50" y="541.94" width="32.85" height="11.40" fill="#d3651b" stroke="none" stroke-width="1.0"/>
<rect x="450.75" y="541.94" width="32.25" height="11.40" fill="#d76f1c" stroke="none" stroke-width="1.0"/>
<rect x="354.00" y="552.74" width="32.85" height="11.40" fill="#f5dd80" stroke="none" stroke-width="1.0"/>
<rect x="386.25" y="552.74" width="32.85" height="11.40" fill="#f5df83" stroke="none" stroke-width="1.0"/>
<rect x="418.50" y="552.74" width="32.85" height="11.40" fill="#d66c1c" stroke="none" stroke-width="1.0"/>
<rect x="450.75" y="552.74" width="32.25" height="11.40" fill="#d7701c" stroke="none" stroke-width="1.0"/>
<rect x="354.00" y="563.54" width="32.85" height="11.40" fill="#f9eb97" stroke="none" stroke-width="1.0"/>
<rect x="386.25" y="563.54" width="32.85" height="11.40" fill="#d3671b" stroke="none" stroke-width="1.0"/>
<rect x="418.50" y="563.54" width="32.85" height="11.40" fill="#f6e085" stroke="none" stroke-width="1.0"/>
<rect x="450.75" y="563.54" width="32.25" height="11.40" fill="#d8761c" stroke="none" stroke-width="1.0"/>
<rect x="354.00" y="574.34" width="32.85" height="11.40" fill="#faef9e" stroke="none" stroke-width="1.0"/>
<rect x="386.25" y="574.34" width="32.85" height="11.40" fill="#e0931f" stroke="none" stroke-width="1.0"/>
<rect x="418.50" y="574.34" width="32.85" height="11.40" fill="#faee9c" stroke="none" stroke-width="1.0"/>
<rect x="450.75" y="574.34" width="32.25" height="11.40" fill="#e19924" stroke="none" stroke-width="1.0"/>
<rect x="354.00" y="585.14" width="32.85" height="11.40" fill="#f9ea95" stroke="none" stroke-width="1.0"/>
<rect x="386.25" y="585.14" width="32.85" height="11.40" fill="#f9eb97" stroke="none" stroke-width="1.0"/>
<rect x="418.50" y="585.14" width="32.85" height="11.40" fill="#df911f" stroke="none" stroke-width="1.0"/>
<rect x="450.75" y="585.14" width="32.25" height="11.40" fill="#e19924" stroke="none" stroke-width="1.0"/>
<rect x="354.00" y="595.94" width="32.85" height="11.40" fill="#f2d473" stroke="none" stroke-width="1.0"/>
<rect x="386.25" y="595.94" width="32.85" height="11.40" fill="#f5de81" stroke="none" stroke-width="1.0"/>
<rect x="418.50" y="595.94" width="32.85" height="11.40" fill="#e39e2a" stroke="none" stroke-width="1.0"/>
<rect x="450.75" y="595.94" width="32.25" height="11.40" fill="#e5a533" stroke="none" stroke-width="1.0"/>
<rect x="354.00" y="606.74" width="32.85" height="11.40" fill="#f6e287" stroke="none" stroke-width="1.0"/>
<rect x="386.25" y="606.74" width="32.85" height="11.40" fill="#f8e68f" stroke="none" stroke-width="1.0"/>
<rect x="418.50" y="606.74" width="32.85" height="11.40" fill="#e5a534" stroke="none" stroke-width="1.0"/>
<rect x="450.75" y="606.74" width="32.25" height="11.40" fill="#e6a939" stroke="none" stroke-width="1.0"/>
<rect x="354.00" y="617.54" width="32.85" height="11.40" fill="#f9ea94" stroke="none" stroke-width="1.0"/>
<rect x="386.25" y="617.54" width="32.85" height="11.40" fill="#f9ed9a" stroke="none" stroke-width="1.0"/>
<rect x="418.50" y="617.54" width="32.85" height="11.40" fill="#e9b346" stroke="none" stroke-width="1.0"/>
<rect x="450.75" y="617.54" width="32.25" height="11.40" fill="#e8af41" stroke="none" stroke-width="1.0"/>
<rect x="354.00" y="628.34" width="32.85" height="10.80" fill="#faed9a" stroke="none" stroke-width="1.0"/>
<rect x="386.25" y="628.34" width="32.85" height="10.80" fill="#faee9c" stroke="none" stroke-width="1.0"/>
<rect x="418.50" y="628.34" width="32.85" height="10.80" fill="#f5df83" stroke="none" stroke-width="1.0"/>
<rect x="450.75" y="628.34" width="32.25" height="10.80" fill="#f6e084" stroke="none" stroke-width="1.0"/>
<rect x="353.50" y="531.24" width="130.00" height="107.80" fill="none" stroke="#262626" stroke-width="1.0"/>
<rect x="273.50" y="531.34" width="66.80" height="9.30" fill="none" stroke="#2e2e2e" stroke-width="1.1"/>
<text x="220.40" y="537.89" font-size="5.83" stroke="#222" stroke-width="0.15" font-weight="bold" fill="#222" textLength="24.15" lengthAdjust="spacingAndGlyphs">TCRBV06</text>
<text x="275.80" y="537.89" font-size="5.83" stroke="#222" stroke-width="0.15" font-weight="bold" fill="#222" textLength="57.71" lengthAdjust="spacingAndGlyphs">CASSPKTGTGTYGYTF</text>
<text x="369.93" y="537.99" font-size="6.105" stroke="#222" stroke-width="0.03" text-anchor="middle" fill="#222" textLength="9.26" lengthAdjust="spacingAndGlyphs">638</text>
<text x="402.18" y="537.99" font-size="6.105" stroke="#222" stroke-width="0.03" text-anchor="middle" fill="#222" textLength="16.98" lengthAdjust="spacingAndGlyphs">31,414</text>
<text x="434.43" y="537.99" font-size="6.105" stroke="#222" stroke-width="0.03" text-anchor="middle" fill="#222" textLength="9.26" lengthAdjust="spacingAndGlyphs">497</text>
<text x="466.68" y="537.99" font-size="6.105" stroke="#222" stroke-width="0.03" text-anchor="middle" fill="#222" textLength="16.98" lengthAdjust="spacingAndGlyphs">48,671</text>
<text x="487.20" y="537.99" font-size="6.05" stroke="#333" stroke-width="0.08" fill="#333" textLength="3.06" lengthAdjust="spacingAndGlyphs">1</text>
<rect x="273.50" y="542.20" width="66.80" height="9.30" fill="none" stroke="#2e2e2e" stroke-width="1.1"/>
<text x="220.40" y="548.75" font-size="5.83" stroke="#222" stroke-width="0.15" font-weight="bold" fill="#222" textLength="24.15" lengthAdjust="spacingAndGlyphs">TCRBV20</text>
<text x="275.80" y="548.75" font-size="5.83" stroke="#222" stroke-width="0.15" font-weight="bold" fill="#222" textLength="52.41" lengthAdjust="spacingAndGlyphs">CSANQGGGNTEAFF</text>
<text x="369.93" y="548.85" font-size="6.105" stroke="#222" stroke-width="0.03" text-anchor="middle" fill="#222" textLength="13.89" lengthAdjust="spacingAndGlyphs">4,615</text>
<text x="402.18" y="548.85" font-size="6.105" stroke="#222" stroke-width="0.03" text-anchor="middle" fill="#222" textLength="13.89" lengthAdjust="spacingAndGlyphs">3,636</text>
<text x="434.43" y="548.85" font-size="6.105" stroke="#222" stroke-width="0.03" text-anchor="middle" fill="#222" textLength="16.98" lengthAdjust="spacingAndGlyphs">54,735</text>
<text x="466.68" y="548.85" font-size="6.105" stroke="#222" stroke-width="0.03" text-anchor="middle" fill="#222" textLength="16.98" lengthAdjust="spacingAndGlyphs">40,691</text>
<text x="487.20" y="548.85" font-size="6.05" stroke="#333" stroke-width="0.08" fill="#333" textLength="3.06" lengthAdjust="spacingAndGlyphs">2</text>
<rect x="273.50" y="553.06" width="66.80" height="9.30" fill="none" stroke="#2e2e2e" stroke-width="1.1"/>
<text x="220.40" y="559.61" font-size="5.83" stroke="#222" stroke-width="0.15" font-weight="bold" fill="#222" textLength="39.77" lengthAdjust="spacingAndGlyphs">TCRBV29-01*01</text>
<text x="275.80" y="559.61" font-size="5.83" stroke="#222" stroke-width="0.15" font-weight="bold" fill="#222" textLength="58.11" lengthAdjust="spacingAndGlyphs">CSVTLPQADGRYGYTF</text>
<text x="369.93" y="559.71" font-size="6.105" stroke="#222" stroke-width="0.03" text-anchor="middle" fill="#222" textLength="13.89" lengthAdjust="spacingAndGlyphs">5,202</text>
<text x="402.18" y="559.71" font-size="6.105" stroke="#222" stroke-width="0.03" text-anchor="middle" fill="#222" textLength="13.89" lengthAdjust="spacingAndGlyphs">4,512</text>
<text x="434.43" y="559.71" font-size="6.105" stroke="#222" stroke-width="0.03" text-anchor="middle" fill="#222" textLength="16.98" lengthAdjust="spacingAndGlyphs">44,657</text>
<text x="466.68" y="559.71" font-size="6.105" stroke="#222" stroke-width="0.03" text-anchor="middle" fill="#222" textLength="16.98" lengthAdjust="spacingAndGlyphs">40,088</text>
<text x="487.20" y="559.71" font-size="6.05" stroke="#333" stroke-width="0.08" fill="#333" textLength="3.06" lengthAdjust="spacingAndGlyphs">3</text>
<rect x="273.50" y="563.92" width="66.80" height="9.30" fill="none" stroke="#2e2e2e" stroke-width="1.1"/>
<text x="220.40" y="570.47" font-size="5.83" stroke="#222" stroke-width="0.15" font-weight="bold" fill="#222" textLength="39.77" lengthAdjust="spacingAndGlyphs">TCRBV27-01*01</text>
<text x="275.80" y="570.47" font-size="5.83" stroke="#222" stroke-width="0.15" font-weight="bold" fill="#222" textLength="53.01" lengthAdjust="spacingAndGlyphs">CASSPIAGYPHEQYF</text>
<text x="369.93" y="570.57" font-size="6.105" stroke="#222" stroke-width="0.03" text-anchor="middle" fill="#222" textLength="9.26" lengthAdjust="spacingAndGlyphs">913</text>
<text x="402.18" y="570.57" font-size="6.105" stroke="#222" stroke-width="0.03" text-anchor="middle" fill="#222" textLength="16.98" lengthAdjust="spacingAndGlyphs">51,372</text>
<text x="434.43" y="570.57" font-size="6.105" stroke="#222" stroke-width="0.03" text-anchor="middle" fill="#222" textLength="13.89" lengthAdjust="spacingAndGlyphs">4,238</text>
<text x="466.68" y="570.57" font-size="6.105" stroke="#222" stroke-width="0.03" text-anchor="middle" fill="#222" textLength="16.98" lengthAdjust="spacingAndGlyphs">34,592</text>
<text x="487.20" y="570.57" font-size="6.05" stroke="#333" stroke-width="0.08" fill="#333" textLength="3.06" lengthAdjust="spacingAndGlyphs">4</text>
<rect x="273.50" y="574.78" width="66.80" height="9.30" fill="none" stroke="#2e2e2e" stroke-width="1.1"/>
<text x="220.40" y="581.33" font-size="5.83" stroke="#222" stroke-width="0.15" font-weight="bold" fill="#222" textLength="24.15" lengthAdjust="spacingAndGlyphs">TCRBV12</text>
<text x="275.80" y="581.33" font-size="5.83" stroke="#222" stroke-width="0.15" font-weight="bold" fill="#222" textLength="42.8" lengthAdjust="spacingAndGlyphs">CASSSAYYGYTF</text>
<text x="369.93" y="581.43" font-size="6.105" stroke="#222" stroke-width="0.03" text-anchor="middle" fill="#222" textLength="9.26" lengthAdjust="spacingAndGlyphs">128</text>
<text x="402.18" y="581.43" font-size="6.105" stroke="#222" stroke-width="0.03" text-anchor="middle" fill="#222" textLength="16.98" lengthAdjust="spacingAndGlyphs">23,084</text>
<text x="434.43" y="581.43" font-size="6.105" stroke="#222" stroke-width="0.03" text-anchor="middle" fill="#222" textLength="9.26" lengthAdjust="spacingAndGlyphs">341</text>
<text x="466.68" y="581.43" font-size="6.105" stroke="#222" stroke-width="0.03" text-anchor="middle" fill="#222" textLength="16.98" lengthAdjust="spacingAndGlyphs">21,567</text>
<text x="487.20" y="581.43" font-size="6.05" stroke="#333" stroke-width="0.08" fill="#333" textLength="3.06" lengthAdjust="spacingAndGlyphs">5</text>
<text x="220.40" y="592.19" font-size="5.83" stroke="#222" stroke-width="0.08" fill="#222" textLength="39.48" lengthAdjust="spacingAndGlyphs">TCRBV07-08*01</text>
<text x="275.80" y="592.19" font-size="5.83" stroke="#222" stroke-width="0.08" fill="#222" textLength="58.61" lengthAdjust="spacingAndGlyphs">CASSNPGGSSYYEQYF</text>
<text x="369.93" y="592.29" font-size="6.105" stroke="#222" stroke-width="0.03" text-anchor="middle" fill="#222" textLength="13.89" lengthAdjust="spacingAndGlyphs">1,266</text>
<text x="402.18" y="592.29" font-size="6.105" stroke="#222" stroke-width="0.03" text-anchor="middle" fill="#222" textLength="9.26" lengthAdjust="spacingAndGlyphs">898</text>
<text x="434.43" y="592.29" font-size="6.105" stroke="#222" stroke-width="0.03" text-anchor="middle" fill="#222" textLength="16.98" lengthAdjust="spacingAndGlyphs">23,618</text>
<text x="466.68" y="592.29" font-size="6.105" stroke="#222" stroke-width="0.03" text-anchor="middle" fill="#222" textLength="16.98" lengthAdjust="spacingAndGlyphs">21,528</text>
<text x="487.20" y="592.29" font-size="6.05" stroke="#333" stroke-width="0.08" fill="#333" textLength="3.06" lengthAdjust="spacingAndGlyphs">6</text>
<rect x="273.50" y="596.50" width="66.80" height="9.30" fill="none" stroke="#2e2e2e" stroke-width="1.1"/>
<text x="220.40" y="603.05" font-size="5.83" stroke="#222" stroke-width="0.15" font-weight="bold" fill="#222" textLength="39.77" lengthAdjust="spacingAndGlyphs">TCRBV14-01*01</text>
<text x="275.80" y="603.05" font-size="5.83" stroke="#222" stroke-width="0.15" font-weight="bold" fill="#222" textLength="51.54" lengthAdjust="spacingAndGlyphs">CASSQEPGNYGYTF</text>
<text x="369.93" y="603.15" font-size="6.105" stroke="#222" stroke-width="0.03" text-anchor="middle" fill="#222" textLength="13.89" lengthAdjust="spacingAndGlyphs">7,087</text>
<text x="402.18" y="603.15" font-size="6.105" stroke="#222" stroke-width="0.03" text-anchor="middle" fill="#222" textLength="13.89" lengthAdjust="spacingAndGlyphs">4,922</text>
<text x="434.43" y="603.15" font-size="6.105" stroke="#222" stroke-width="0.03" text-anchor="middle" fill="#222" textLength="16.98" lengthAdjust="spacingAndGlyphs">20,268</text>
<text x="466.68" y="603.15" font-size="6.105" stroke="#222" stroke-width="0.03" text-anchor="middle" fill="#222" textLength="16.98" lengthAdjust="spacingAndGlyphs">18,324</text>
<text x="487.20" y="603.15" font-size="6.05" stroke="#333" stroke-width="0.08" fill="#333" textLength="3.06" lengthAdjust="spacingAndGlyphs">7</text>
<text x="220.40" y="613.91" font-size="5.83" stroke="#222" stroke-width="0.08" fill="#222" textLength="39.48" lengthAdjust="spacingAndGlyphs">TCRBV04-01*01</text>
<text x="275.80" y="613.91" font-size="5.83" stroke="#222" stroke-width="0.08" fill="#222" textLength="52.71" lengthAdjust="spacingAndGlyphs">CASSQTRGAGNTIYF</text>
<text x="369.93" y="614.01" font-size="6.105" stroke="#222" stroke-width="0.03" text-anchor="middle" fill="#222" textLength="13.89" lengthAdjust="spacingAndGlyphs">3,784</text>
<text x="402.18" y="614.01" font-size="6.105" stroke="#222" stroke-width="0.03" text-anchor="middle" fill="#222" textLength="13.89" lengthAdjust="spacingAndGlyphs">2,386</text>
<text x="434.43" y="614.01" font-size="6.105" stroke="#222" stroke-width="0.03" text-anchor="middle" fill="#222" textLength="16.98" lengthAdjust="spacingAndGlyphs">18,085</text>
<text x="466.68" y="614.01" font-size="6.105" stroke="#222" stroke-width="0.03" text-anchor="middle" fill="#222" textLength="16.98" lengthAdjust="spacingAndGlyphs">17,021</text>
<text x="487.20" y="614.01" font-size="6.05" stroke="#333" stroke-width="0.08" fill="#333" textLength="3.06" lengthAdjust="spacingAndGlyphs">8</text>
<text x="220.40" y="624.77" font-size="5.83" stroke="#222" stroke-width="0.08" fill="#222" textLength="39.48" lengthAdjust="spacingAndGlyphs">TCRBV07-08*01</text>
<text x="275.80" y="624.77" font-size="5.83" stroke="#222" stroke-width="0.08" fill="#222" textLength="46.73" lengthAdjust="spacingAndGlyphs">CASSLGQAYEQYF</text>
<text x="369.93" y="624.87" font-size="6.105" stroke="#222" stroke-width="0.03" text-anchor="middle" fill="#222" textLength="13.89" lengthAdjust="spacingAndGlyphs">1,431</text>
<text x="402.18" y="624.87" font-size="6.105" stroke="#222" stroke-width="0.03" text-anchor="middle" fill="#222" textLength="9.26" lengthAdjust="spacingAndGlyphs">589</text>
<text x="434.43" y="624.87" font-size="6.105" stroke="#222" stroke-width="0.03" text-anchor="middle" fill="#222" textLength="16.98" lengthAdjust="spacingAndGlyphs">14,366</text>
<text x="466.68" y="624.87" font-size="6.105" stroke="#222" stroke-width="0.03" text-anchor="middle" fill="#222" textLength="16.98" lengthAdjust="spacingAndGlyphs">15,304</text>
<text x="487.20" y="624.87" font-size="6.05" stroke="#333" stroke-width="0.08" fill="#333" textLength="3.06" lengthAdjust="spacingAndGlyphs">9</text>
<text x="220.40" y="635.63" font-size="5.83" stroke="#222" stroke-width="0.08" fill="#222" textLength="39.48" lengthAdjust="spacingAndGlyphs">TCRBV27-01*01</text>
<text x="275.80" y="635.63" font-size="5.83" stroke="#222" stroke-width="0.08" fill="#222" textLength="51.83" lengthAdjust="spacingAndGlyphs">CASRQGFPGNEQFF</text>
<text x="369.93" y="635.73" font-size="6.105" stroke="#222" stroke-width="0.03" text-anchor="middle" fill="#222" textLength="9.26" lengthAdjust="spacingAndGlyphs">500</text>
<text x="402.18" y="635.73" font-size="6.105" stroke="#222" stroke-width="0.03" text-anchor="middle" fill="#222" textLength="9.26" lengthAdjust="spacingAndGlyphs">277</text>
<text x="434.43" y="635.73" font-size="6.105" stroke="#222" stroke-width="0.03" text-anchor="middle" fill="#222" textLength="13.89" lengthAdjust="spacingAndGlyphs">4,551</text>
<text x="466.68" y="635.73" font-size="6.105" stroke="#222" stroke-width="0.03" text-anchor="middle" fill="#222" textLength="13.89" lengthAdjust="spacingAndGlyphs">4,396</text>
<text x="487.20" y="635.73" font-size="6.05" stroke="#333" stroke-width="0.08" fill="#333" textLength="6.12" lengthAdjust="spacingAndGlyphs">10</text>
<text x="0" y="0" font-size="8.0" text-anchor="middle" fill="#1a1a1a" stroke="#1a1a1a" stroke-width="0.3" textLength="73.2" lengthAdjust="spacingAndGlyphs" transform="translate(507.4,585.24) rotate(90)">Rank in NLV + Mono-OKT3-Fab</text>
<text x="0" y="0" font-size="7.9" text-anchor="middle" fill="#1a1a1a" stroke="#1a1a1a" stroke-width="0.3" textLength="21" lengthAdjust="spacingAndGlyphs" transform="translate(498.0,585.24) rotate(90)">condition</text>
<text x="232.90" y="76.30" font-size="7.04" stroke="#2a2a2a" stroke-width="0.03" text-anchor="middle" textLength="22.88" lengthAdjust="spacingAndGlyphs">TCR Vβ</text>
<text x="232.60" y="84.40" font-size="7.04" stroke="#2a2a2a" stroke-width="0.03" text-anchor="middle" textLength="15.66" lengthAdjust="spacingAndGlyphs">Gene</text>
<text x="306.90" y="69.10" font-size="7.15" stroke="#2a2a2a" stroke-width="0.03" text-anchor="middle" textLength="17.7" lengthAdjust="spacingAndGlyphs">CDR3</text>
<text x="306.90" y="76.80" font-size="7.15" stroke="#2a2a2a" stroke-width="0.03" text-anchor="middle" textLength="32.52" lengthAdjust="spacingAndGlyphs">Amino Acid</text>
<text x="306.90" y="84.10" font-size="7.15" stroke="#2a2a2a" stroke-width="0.03" text-anchor="middle" textLength="29.28" lengthAdjust="spacingAndGlyphs">Sequence</text>
<text x="417.90" y="62.80" font-size="7.04" stroke="#2a2a2a" stroke-width="0.03" text-anchor="middle" textLength="49.45" lengthAdjust="spacingAndGlyphs">Culture Condition</text>
<line x1="360.80" y1="67.40" x2="480.80" y2="67.40" stroke="#333" stroke-width="1.0"/>
<text x="357.20" y="75.80" font-size="6.82" stroke="#2a2a2a" stroke-width="0.03" text-anchor="end" textLength="13.09" lengthAdjust="spacingAndGlyphs">NLV:</text>
<text x="356.20" y="83.50" font-size="6.82" stroke="#2a2a2a" stroke-width="0.03" text-anchor="end" textLength="12.41" lengthAdjust="spacingAndGlyphs">Fab:</text>
<text x="369.20" y="75.80" font-size="6.82" stroke="#2a2a2a" stroke-width="0.03" text-anchor="middle" textLength="2.06" lengthAdjust="spacingAndGlyphs">-</text>
<text x="401.80" y="75.80" font-size="6.82" stroke="#2a2a2a" stroke-width="0.03" text-anchor="middle" textLength="3.62" lengthAdjust="spacingAndGlyphs">+</text>
<text x="435.10" y="75.80" font-size="6.82" stroke="#2a2a2a" stroke-width="0.03" text-anchor="middle" textLength="2.06" lengthAdjust="spacingAndGlyphs">-</text>
<text x="467.40" y="75.80" font-size="6.82" stroke="#2a2a2a" stroke-width="0.03" text-anchor="middle" textLength="3.62" lengthAdjust="spacingAndGlyphs">+</text>
<text x="386.50" y="83.50" font-size="6.93" stroke="#2a2a2a" stroke-width="0.03" text-anchor="middle" textLength="20.65" lengthAdjust="spacingAndGlyphs">Ms-IgG</text>
<text x="452.50" y="83.50" font-size="7.04" stroke="#2a2a2a" stroke-width="0.03" text-anchor="middle" textLength="34.86" lengthAdjust="spacingAndGlyphs">Mono-OKT3</text>
<line x1="360.00" y1="87.10" x2="412.50" y2="87.10" stroke="#333" stroke-width="1.0"/>
<line x1="425.10" y1="87.10" x2="477.70" y2="87.10" stroke="#333" stroke-width="1.0"/>
<rect x="0.50" y="0.50" width="519.00" height="646.00" fill="none" stroke="#000" stroke-width="1.0"/>
</g></svg></body></html>
